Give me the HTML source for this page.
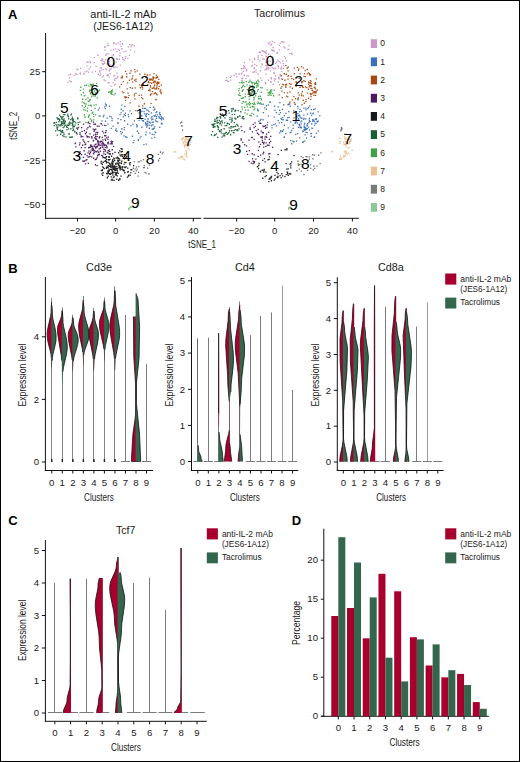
<!DOCTYPE html>
<html><head><meta charset="utf-8"><style>
html,body{margin:0;padding:0;background:#fff;}
#f{position:relative;width:518px;height:760px;border:1px solid #000;overflow:hidden;background:#fff;}
svg{position:absolute;left:-1px;top:-1px;}
text{font-family:"Liberation Sans", sans-serif;}
</style></head><body><div id="f">
<svg width="520" height="762" viewBox="0 0 520 762">
<text x="8.00" y="18.80" font-size="13" text-anchor="start" fill="#000" font-weight="bold" >A</text>
<text x="123.30" y="17.80" font-size="10" text-anchor="middle" fill="#1a1a1a" textLength="66" lengthAdjust="spacingAndGlyphs" >anti-IL-2 mAb</text>
<text x="123.30" y="29.50" font-size="10" text-anchor="middle" fill="#1a1a1a" textLength="60" lengthAdjust="spacingAndGlyphs" >(JES6-1A12)</text>
<text x="279.50" y="16.90" font-size="10" text-anchor="middle" fill="#1a1a1a" textLength="51" lengthAdjust="spacingAndGlyphs" >Tacrolimus</text>
<line x1="45.60" y1="33.00" x2="45.60" y2="218.80" stroke="#111" stroke-width="1"/>
<line x1="45.10" y1="218.30" x2="201.20" y2="218.30" stroke="#111" stroke-width="1"/>
<line x1="203.50" y1="218.30" x2="358.80" y2="218.30" stroke="#111" stroke-width="1"/>
<line x1="42.10" y1="71.70" x2="45.60" y2="71.70" stroke="#111" stroke-width="1"/>
<text x="40.20" y="75.10" font-size="9.5" text-anchor="end" fill="#1a1a1a" >25</text>
<line x1="42.10" y1="115.90" x2="45.60" y2="115.90" stroke="#111" stroke-width="1"/>
<text x="40.20" y="119.30" font-size="9.5" text-anchor="end" fill="#1a1a1a" >0</text>
<line x1="42.10" y1="160.20" x2="45.60" y2="160.20" stroke="#111" stroke-width="1"/>
<text x="40.20" y="163.60" font-size="9.5" text-anchor="end" fill="#1a1a1a" >−25</text>
<line x1="42.10" y1="204.30" x2="45.60" y2="204.30" stroke="#111" stroke-width="1"/>
<text x="40.20" y="207.70" font-size="9.5" text-anchor="end" fill="#1a1a1a" >−50</text>
<line x1="77.50" y1="218.30" x2="77.50" y2="221.50" stroke="#111" stroke-width="1"/>
<text x="77.50" y="233.60" font-size="9.5" text-anchor="middle" fill="#1a1a1a" >−20</text>
<line x1="115.60" y1="218.30" x2="115.60" y2="221.50" stroke="#111" stroke-width="1"/>
<text x="115.60" y="233.60" font-size="9.5" text-anchor="middle" fill="#1a1a1a" >0</text>
<line x1="154.40" y1="218.30" x2="154.40" y2="221.50" stroke="#111" stroke-width="1"/>
<text x="154.40" y="233.60" font-size="9.5" text-anchor="middle" fill="#1a1a1a" >20</text>
<line x1="193.30" y1="218.30" x2="193.30" y2="221.50" stroke="#111" stroke-width="1"/>
<text x="193.30" y="233.60" font-size="9.5" text-anchor="middle" fill="#1a1a1a" >40</text>
<line x1="236.60" y1="218.30" x2="236.60" y2="221.50" stroke="#111" stroke-width="1"/>
<text x="236.60" y="233.60" font-size="9.5" text-anchor="middle" fill="#1a1a1a" >−20</text>
<line x1="274.70" y1="218.30" x2="274.70" y2="221.50" stroke="#111" stroke-width="1"/>
<text x="274.70" y="233.60" font-size="9.5" text-anchor="middle" fill="#1a1a1a" >0</text>
<line x1="313.50" y1="218.30" x2="313.50" y2="221.50" stroke="#111" stroke-width="1"/>
<text x="313.50" y="233.60" font-size="9.5" text-anchor="middle" fill="#1a1a1a" >20</text>
<line x1="352.40" y1="218.30" x2="352.40" y2="221.50" stroke="#111" stroke-width="1"/>
<text x="352.40" y="233.60" font-size="9.5" text-anchor="middle" fill="#1a1a1a" >40</text>
<text x="202.10" y="248.40" font-size="10" text-anchor="middle" fill="#1a1a1a" textLength="27.5" lengthAdjust="spacingAndGlyphs" >tSNE_1</text>
<text x="17.40" y="125.80" font-size="10" text-anchor="middle" fill="#1a1a1a" textLength="28" lengthAdjust="spacingAndGlyphs" transform="rotate(-90 17.40 125.80)" >tSNE_2</text>
<rect x="370.80" y="39.20" width="6.20" height="8.80" fill="#cc99cc" />
<text x="380.30" y="46.40" font-size="8.5" text-anchor="start" fill="#1a1a1a" >0</text>
<rect x="370.80" y="57.40" width="6.20" height="8.80" fill="#3a6fbd" />
<text x="380.30" y="64.60" font-size="8.5" text-anchor="start" fill="#1a1a1a" >1</text>
<rect x="370.80" y="75.60" width="6.20" height="8.80" fill="#a8480f" />
<text x="380.30" y="82.80" font-size="8.5" text-anchor="start" fill="#1a1a1a" >2</text>
<rect x="370.80" y="93.80" width="6.20" height="8.80" fill="#501860" />
<text x="380.30" y="101.00" font-size="8.5" text-anchor="start" fill="#1a1a1a" >3</text>
<rect x="370.80" y="112.00" width="6.20" height="8.80" fill="#181818" />
<text x="380.30" y="119.20" font-size="8.5" text-anchor="start" fill="#1a1a1a" >4</text>
<rect x="370.80" y="130.20" width="6.20" height="8.80" fill="#1a5e34" />
<text x="380.30" y="137.40" font-size="8.5" text-anchor="start" fill="#1a1a1a" >5</text>
<rect x="370.80" y="148.40" width="6.20" height="8.80" fill="#41a048" />
<text x="380.30" y="155.60" font-size="8.5" text-anchor="start" fill="#1a1a1a" >6</text>
<rect x="370.80" y="166.60" width="6.20" height="8.80" fill="#ecc090" />
<text x="380.30" y="173.80" font-size="8.5" text-anchor="start" fill="#1a1a1a" >7</text>
<rect x="370.80" y="184.80" width="6.20" height="8.80" fill="#7a7a7a" />
<text x="380.30" y="192.00" font-size="8.5" text-anchor="start" fill="#1a1a1a" >8</text>
<rect x="370.80" y="203.00" width="6.20" height="8.80" fill="#8ec89a" />
<text x="380.30" y="210.20" font-size="8.5" text-anchor="start" fill="#1a1a1a" >9</text>
<path d="M95.5 65.7h1.3v1.3h-1.3zM99.6 67.0h1.3v1.3h-1.3zM108.6 76.5h1.3v1.3h-1.3zM68.7 77.2h1.3v1.3h-1.3zM113.3 41.9h1.3v1.3h-1.3zM110.4 68.3h1.3v1.3h-1.3zM100.4 69.5h1.3v1.3h-1.3zM99.0 70.5h1.3v1.3h-1.3zM118.7 58.4h1.3v1.3h-1.3zM124.6 57.8h1.3v1.3h-1.3zM119.6 52.4h1.3v1.3h-1.3zM121.0 48.2h1.3v1.3h-1.3zM103.4 60.6h1.3v1.3h-1.3zM76.1 73.7h1.3v1.3h-1.3zM119.2 55.1h1.3v1.3h-1.3zM80.0 67.7h1.3v1.3h-1.3zM89.5 60.8h1.3v1.3h-1.3zM104.5 79.9h1.3v1.3h-1.3zM79.6 72.4h1.3v1.3h-1.3zM106.1 53.5h1.3v1.3h-1.3zM75.0 73.1h1.3v1.3h-1.3zM103.4 79.2h1.3v1.3h-1.3zM107.5 52.9h1.3v1.3h-1.3zM129.9 49.4h1.3v1.3h-1.3zM104.3 46.1h1.3v1.3h-1.3zM113.2 66.9h1.3v1.3h-1.3zM113.9 84.3h1.3v1.3h-1.3zM97.7 73.6h1.3v1.3h-1.3zM116.5 72.4h1.3v1.3h-1.3zM88.0 71.5h1.3v1.3h-1.3zM108.2 57.6h1.3v1.3h-1.3zM105.1 68.0h1.3v1.3h-1.3zM115.9 57.9h1.3v1.3h-1.3zM116.4 66.7h1.3v1.3h-1.3zM68.2 74.5h1.3v1.3h-1.3zM113.7 62.9h1.3v1.3h-1.3zM107.5 82.3h1.3v1.3h-1.3zM84.3 71.2h1.3v1.3h-1.3zM86.2 70.6h1.3v1.3h-1.3zM127.1 57.7h1.3v1.3h-1.3zM105.1 54.6h1.3v1.3h-1.3zM114.6 83.7h1.3v1.3h-1.3zM108.3 62.7h1.3v1.3h-1.3zM114.4 66.2h1.3v1.3h-1.3zM123.4 50.9h1.3v1.3h-1.3zM108.6 60.5h1.3v1.3h-1.3zM108.6 70.1h1.3v1.3h-1.3zM112.7 49.2h1.3v1.3h-1.3zM114.8 48.2h1.3v1.3h-1.3zM113.6 63.9h1.3v1.3h-1.3zM107.5 74.8h1.3v1.3h-1.3zM129.1 44.0h1.3v1.3h-1.3zM108.3 81.9h1.3v1.3h-1.3zM89.9 66.2h1.3v1.3h-1.3zM110.2 49.4h1.3v1.3h-1.3zM115.4 77.6h1.3v1.3h-1.3zM109.5 73.0h1.3v1.3h-1.3zM101.7 76.4h1.3v1.3h-1.3zM125.3 56.0h1.3v1.3h-1.3zM102.7 75.3h1.3v1.3h-1.3zM121.9 42.9h1.3v1.3h-1.3zM121.2 48.0h1.3v1.3h-1.3zM100.2 73.3h1.3v1.3h-1.3zM132.2 44.0h1.3v1.3h-1.3zM83.5 73.5h1.3v1.3h-1.3zM109.3 64.0h1.3v1.3h-1.3zM104.4 49.2h1.3v1.3h-1.3zM101.7 63.1h1.3v1.3h-1.3zM103.7 62.6h1.3v1.3h-1.3zM113.1 43.0h1.3v1.3h-1.3zM101.9 59.0h1.3v1.3h-1.3zM97.3 54.6h1.3v1.3h-1.3zM76.2 68.4h1.3v1.3h-1.3zM130.5 46.0h1.3v1.3h-1.3zM119.7 41.0h1.3v1.3h-1.3zM112.8 54.8h1.3v1.3h-1.3zM88.3 68.5h1.3v1.3h-1.3zM69.8 73.6h1.3v1.3h-1.3zM101.2 60.1h1.3v1.3h-1.3zM77.1 69.0h1.3v1.3h-1.3zM109.2 64.4h1.3v1.3h-1.3zM125.4 50.7h1.3v1.3h-1.3zM116.8 77.3h1.3v1.3h-1.3zM128.8 54.5h1.3v1.3h-1.3zM127.7 46.2h1.3v1.3h-1.3zM79.7 73.4h1.3v1.3h-1.3zM123.6 59.4h1.3v1.3h-1.3zM120.5 45.8h1.3v1.3h-1.3zM91.8 71.5h1.3v1.3h-1.3zM112.5 81.9h1.3v1.3h-1.3zM133.7 45.3h1.3v1.3h-1.3zM99.4 74.9h1.3v1.3h-1.3zM99.2 71.5h1.3v1.3h-1.3zM102.8 63.7h1.3v1.3h-1.3zM104.1 46.7h1.3v1.3h-1.3zM130.6 44.4h1.3v1.3h-1.3zM86.2 61.5h1.3v1.3h-1.3zM100.1 59.8h1.3v1.3h-1.3zM113.9 78.8h1.3v1.3h-1.3zM116.7 58.6h1.3v1.3h-1.3zM114.1 79.6h1.3v1.3h-1.3zM108.6 58.6h1.3v1.3h-1.3zM106.4 63.2h1.3v1.3h-1.3zM117.1 75.8h1.3v1.3h-1.3zM122.3 58.7h1.3v1.3h-1.3zM113.4 75.3h1.3v1.3h-1.3zM118.6 58.7h1.3v1.3h-1.3zM115.5 43.2h1.3v1.3h-1.3zM87.3 61.6h1.3v1.3h-1.3zM109.3 68.7h1.3v1.3h-1.3zM111.3 55.5h1.3v1.3h-1.3zM110.8 66.2h1.3v1.3h-1.3zM101.4 57.9h1.3v1.3h-1.3zM113.9 75.0h1.3v1.3h-1.3zM107.5 74.0h1.3v1.3h-1.3zM102.7 63.4h1.3v1.3h-1.3zM121.9 43.5h1.3v1.3h-1.3zM106.2 74.9h1.3v1.3h-1.3zM107.2 42.7h1.3v1.3h-1.3zM101.0 67.5h1.3v1.3h-1.3zM110.5 65.8h1.3v1.3h-1.3zM83.0 73.0h1.3v1.3h-1.3zM73.6 74.7h1.3v1.3h-1.3zM117.4 42.3h1.3v1.3h-1.3zM67.4 81.7h1.3v1.3h-1.3zM93.8 62.0h1.3v1.3h-1.3zM134.0 51.2h1.3v1.3h-1.3zM115.5 61.5h1.3v1.3h-1.3zM106.7 45.3h1.3v1.3h-1.3zM108.2 61.0h1.3v1.3h-1.3zM94.8 70.7h1.3v1.3h-1.3zM105.1 59.3h1.3v1.3h-1.3zM119.6 64.4h1.3v1.3h-1.3zM116.3 51.0h1.3v1.3h-1.3zM70.4 81.1h1.3v1.3h-1.3zM112.7 66.0h1.3v1.3h-1.3zM105.8 69.1h1.3v1.3h-1.3zM117.7 48.7h1.3v1.3h-1.3zM108.1 44.7h1.3v1.3h-1.3zM102.7 69.0h1.3v1.3h-1.3zM89.6 62.0h1.3v1.3h-1.3zM118.9 49.8h1.3v1.3h-1.3zM121.9 57.0h1.3v1.3h-1.3zM110.4 85.5h1.3v1.3h-1.3zM86.1 65.2h1.3v1.3h-1.3zM93.6 57.0h1.3v1.3h-1.3zM69.2 80.3h1.3v1.3h-1.3zM103.8 62.3h1.3v1.3h-1.3zM112.7 53.7h1.3v1.3h-1.3zM119.4 43.5h1.3v1.3h-1.3zM278.7 44.7h1.3v1.3h-1.3zM281.1 71.0h1.3v1.3h-1.3zM282.8 63.0h1.3v1.3h-1.3zM279.7 42.4h1.3v1.3h-1.3zM240.7 73.4h1.3v1.3h-1.3zM252.0 64.7h1.3v1.3h-1.3zM251.2 65.6h1.3v1.3h-1.3zM269.9 54.8h1.3v1.3h-1.3zM257.4 56.8h1.3v1.3h-1.3zM283.8 55.9h1.3v1.3h-1.3zM254.2 63.7h1.3v1.3h-1.3zM277.4 65.2h1.3v1.3h-1.3zM257.5 55.2h1.3v1.3h-1.3zM275.1 62.6h1.3v1.3h-1.3zM277.9 78.3h1.3v1.3h-1.3zM269.8 60.7h1.3v1.3h-1.3zM260.3 66.2h1.3v1.3h-1.3zM259.7 77.5h1.3v1.3h-1.3zM282.4 41.4h1.3v1.3h-1.3zM275.1 68.0h1.3v1.3h-1.3zM264.7 81.7h1.3v1.3h-1.3zM233.8 74.4h1.3v1.3h-1.3zM257.3 73.6h1.3v1.3h-1.3zM273.9 80.3h1.3v1.3h-1.3zM276.9 51.9h1.3v1.3h-1.3zM273.7 41.8h1.3v1.3h-1.3zM242.6 70.6h1.3v1.3h-1.3zM251.9 61.2h1.3v1.3h-1.3zM253.6 67.0h1.3v1.3h-1.3zM255.3 69.2h1.3v1.3h-1.3zM265.2 55.4h1.3v1.3h-1.3zM291.4 53.7h1.3v1.3h-1.3zM238.2 73.4h1.3v1.3h-1.3zM281.2 41.0h1.3v1.3h-1.3zM277.5 81.2h1.3v1.3h-1.3zM272.7 61.2h1.3v1.3h-1.3zM274.8 75.1h1.3v1.3h-1.3zM258.6 51.8h1.3v1.3h-1.3zM259.7 70.1h1.3v1.3h-1.3zM246.1 69.0h1.3v1.3h-1.3zM273.8 78.3h1.3v1.3h-1.3zM281.0 41.0h1.3v1.3h-1.3zM269.9 70.3h1.3v1.3h-1.3zM271.2 56.3h1.3v1.3h-1.3zM267.5 42.2h1.3v1.3h-1.3zM278.6 60.7h1.3v1.3h-1.3zM270.3 64.8h1.3v1.3h-1.3zM252.3 71.7h1.3v1.3h-1.3zM225.4 79.8h1.3v1.3h-1.3zM265.4 73.4h1.3v1.3h-1.3zM265.7 55.7h1.3v1.3h-1.3zM269.2 41.5h1.3v1.3h-1.3zM270.3 81.8h1.3v1.3h-1.3zM269.4 67.5h1.3v1.3h-1.3zM278.9 84.1h1.3v1.3h-1.3zM265.8 69.0h1.3v1.3h-1.3zM282.7 67.8h1.3v1.3h-1.3zM280.5 68.4h1.3v1.3h-1.3zM285.0 57.6h1.3v1.3h-1.3zM271.0 43.6h1.3v1.3h-1.3zM243.8 62.0h1.3v1.3h-1.3zM259.6 51.5h1.3v1.3h-1.3zM279.5 75.2h1.3v1.3h-1.3zM271.7 67.0h1.3v1.3h-1.3zM274.9 78.5h1.3v1.3h-1.3zM266.5 67.4h1.3v1.3h-1.3zM258.7 51.6h1.3v1.3h-1.3zM244.6 67.5h1.3v1.3h-1.3zM245.7 70.2h1.3v1.3h-1.3zM241.2 77.7h1.3v1.3h-1.3zM288.5 45.0h1.3v1.3h-1.3zM272.8 63.8h1.3v1.3h-1.3zM228.1 80.7h1.3v1.3h-1.3zM279.7 62.3h1.3v1.3h-1.3zM271.6 40.8h1.3v1.3h-1.3zM270.1 44.5h1.3v1.3h-1.3zM273.0 72.0h1.3v1.3h-1.3zM246.4 75.3h1.3v1.3h-1.3zM263.4 58.4h1.3v1.3h-1.3zM259.8 52.0h1.3v1.3h-1.3zM247.8 75.2h1.3v1.3h-1.3zM265.6 68.2h1.3v1.3h-1.3zM289.0 52.9h1.3v1.3h-1.3zM257.6 58.7h1.3v1.3h-1.3zM245.3 77.9h1.3v1.3h-1.3zM283.5 41.4h1.3v1.3h-1.3zM271.7 49.9h1.3v1.3h-1.3zM270.7 78.2h1.3v1.3h-1.3zM273.4 50.5h1.3v1.3h-1.3zM226.9 80.4h1.3v1.3h-1.3zM253.5 68.0h1.3v1.3h-1.3zM268.7 43.5h1.3v1.3h-1.3zM241.8 77.7h1.3v1.3h-1.3zM261.7 64.2h1.3v1.3h-1.3zM272.6 83.6h1.3v1.3h-1.3zM271.2 49.5h1.3v1.3h-1.3zM243.1 65.0h1.3v1.3h-1.3zM235.6 73.1h1.3v1.3h-1.3zM288.0 48.8h1.3v1.3h-1.3zM229.7 76.8h1.3v1.3h-1.3zM265.2 61.4h1.3v1.3h-1.3zM264.4 69.2h1.3v1.3h-1.3zM278.5 77.9h1.3v1.3h-1.3zM225.9 79.8h1.3v1.3h-1.3zM270.4 77.0h1.3v1.3h-1.3zM280.8 78.0h1.3v1.3h-1.3zM278.8 49.2h1.3v1.3h-1.3zM276.0 61.3h1.3v1.3h-1.3zM291.1 52.6h1.3v1.3h-1.3zM242.5 68.0h1.3v1.3h-1.3zM279.6 73.8h1.3v1.3h-1.3zM282.0 60.5h1.3v1.3h-1.3zM277.7 65.8h1.3v1.3h-1.3zM280.3 67.7h1.3v1.3h-1.3zM282.9 65.0h1.3v1.3h-1.3zM281.1 66.5h1.3v1.3h-1.3zM267.9 68.7h1.3v1.3h-1.3zM262.0 58.2h1.3v1.3h-1.3zM287.3 48.7h1.3v1.3h-1.3zM226.0 76.9h1.3v1.3h-1.3zM283.2 46.2h1.3v1.3h-1.3zM240.8 67.9h1.3v1.3h-1.3zM243.0 67.5h1.3v1.3h-1.3zM243.7 74.7h1.3v1.3h-1.3zM270.1 80.9h1.3v1.3h-1.3zM263.6 51.1h1.3v1.3h-1.3zM268.0 53.6h1.3v1.3h-1.3zM265.5 50.4h1.3v1.3h-1.3zM230.8 75.5h1.3v1.3h-1.3zM233.7 74.5h1.3v1.3h-1.3zM265.0 83.0h1.3v1.3h-1.3zM266.3 66.4h1.3v1.3h-1.3zM262.7 50.6h1.3v1.3h-1.3zM267.7 79.6h1.3v1.3h-1.3zM273.0 49.6h1.3v1.3h-1.3zM261.2 63.3h1.3v1.3h-1.3zM265.2 65.0h1.3v1.3h-1.3zM270.1 65.2h1.3v1.3h-1.3zM261.6 50.1h1.3v1.3h-1.3zM243.9 66.0h1.3v1.3h-1.3zM259.2 60.3h1.3v1.3h-1.3zM236.1 76.1h1.3v1.3h-1.3zM267.7 67.2h1.3v1.3h-1.3zM266.5 61.6h1.3v1.3h-1.3zM265.6 52.9h1.3v1.3h-1.3zM255.5 71.4h1.3v1.3h-1.3zM238.6 73.5h1.3v1.3h-1.3zM265.9 64.8h1.3v1.3h-1.3zM276.2 52.6h1.3v1.3h-1.3zM249.3 59.3h1.3v1.3h-1.3zM273.9 72.8h1.3v1.3h-1.3zM272.9 67.9h1.3v1.3h-1.3zM277.2 59.5h1.3v1.3h-1.3zM274.5 67.4h1.3v1.3h-1.3zM267.1 64.8h1.3v1.3h-1.3zM269.4 65.3h1.3v1.3h-1.3zM271.8 59.1h1.3v1.3h-1.3zM284.4 47.3h1.3v1.3h-1.3zM272.4 47.0h1.3v1.3h-1.3zM230.0 79.4h1.3v1.3h-1.3zM285.8 60.1h1.3v1.3h-1.3zM267.4 60.6h1.3v1.3h-1.3zM256.1 65.0h1.3v1.3h-1.3zM277.9 67.2h1.3v1.3h-1.3zM264.7 51.7h1.3v1.3h-1.3zM261.2 79.8h1.3v1.3h-1.3zM253.8 58.8h1.3v1.3h-1.3zM264.9 51.7h1.3v1.3h-1.3zM266.2 61.3h1.3v1.3h-1.3zM278.1 76.8h1.3v1.3h-1.3zM261.2 54.7h1.3v1.3h-1.3zM241.3 72.5h1.3v1.3h-1.3zM253.7 71.1h1.3v1.3h-1.3zM241.4 79.4h1.3v1.3h-1.3zM253.8 57.8h1.3v1.3h-1.3z" fill="#c58fc5" fill-opacity="0.95"/>
<path d="M127.4 92.5h1.3v1.3h-1.3zM121.6 77.1h1.3v1.3h-1.3zM149.9 93.8h1.3v1.3h-1.3zM130.4 70.1h1.3v1.3h-1.3zM133.7 95.2h1.3v1.3h-1.3zM134.1 69.0h1.3v1.3h-1.3zM149.2 88.5h1.3v1.3h-1.3zM158.2 82.8h1.3v1.3h-1.3zM153.3 77.1h1.3v1.3h-1.3zM132.0 81.2h1.3v1.3h-1.3zM128.9 79.6h1.3v1.3h-1.3zM134.1 79.6h1.3v1.3h-1.3zM135.4 80.7h1.3v1.3h-1.3zM126.6 88.2h1.3v1.3h-1.3zM153.1 87.2h1.3v1.3h-1.3zM154.8 88.2h1.3v1.3h-1.3zM125.8 96.6h1.3v1.3h-1.3zM156.8 76.1h1.3v1.3h-1.3zM119.0 86.2h1.3v1.3h-1.3zM141.9 88.4h1.3v1.3h-1.3zM160.5 92.0h1.3v1.3h-1.3zM142.1 97.9h1.3v1.3h-1.3zM150.4 102.7h1.3v1.3h-1.3zM121.7 91.3h1.3v1.3h-1.3zM124.3 96.1h1.3v1.3h-1.3zM146.6 74.6h1.3v1.3h-1.3zM127.7 96.9h1.3v1.3h-1.3zM140.9 96.9h1.3v1.3h-1.3zM135.4 78.5h1.3v1.3h-1.3zM160.6 92.9h1.3v1.3h-1.3zM139.7 87.1h1.3v1.3h-1.3zM149.7 94.5h1.3v1.3h-1.3zM158.3 81.7h1.3v1.3h-1.3zM154.4 92.7h1.3v1.3h-1.3zM155.6 98.7h1.3v1.3h-1.3zM160.1 91.5h1.3v1.3h-1.3zM141.0 94.5h1.3v1.3h-1.3zM153.3 82.1h1.3v1.3h-1.3zM136.5 70.3h1.3v1.3h-1.3zM134.5 71.2h1.3v1.3h-1.3zM127.0 82.3h1.3v1.3h-1.3zM120.6 77.3h1.3v1.3h-1.3zM123.1 91.9h1.3v1.3h-1.3zM120.7 83.7h1.3v1.3h-1.3zM143.7 103.1h1.3v1.3h-1.3zM126.1 73.3h1.3v1.3h-1.3zM128.4 94.8h1.3v1.3h-1.3zM144.2 73.6h1.3v1.3h-1.3zM126.1 76.1h1.3v1.3h-1.3zM125.6 96.6h1.3v1.3h-1.3zM131.7 87.6h1.3v1.3h-1.3zM154.0 84.6h1.3v1.3h-1.3zM129.5 102.2h1.3v1.3h-1.3zM158.2 78.7h1.3v1.3h-1.3zM142.1 105.2h1.3v1.3h-1.3zM139.2 73.5h1.3v1.3h-1.3zM153.3 80.6h1.3v1.3h-1.3zM141.2 86.2h1.3v1.3h-1.3zM146.9 74.2h1.3v1.3h-1.3zM134.3 98.3h1.3v1.3h-1.3zM149.4 90.1h1.3v1.3h-1.3zM124.9 70.7h1.3v1.3h-1.3zM132.2 75.2h1.3v1.3h-1.3zM156.2 86.2h1.3v1.3h-1.3zM129.7 87.0h1.3v1.3h-1.3zM124.6 97.1h1.3v1.3h-1.3zM155.2 99.3h1.3v1.3h-1.3zM121.6 75.6h1.3v1.3h-1.3zM139.1 84.2h1.3v1.3h-1.3zM160.0 89.2h1.3v1.3h-1.3zM155.7 77.1h1.3v1.3h-1.3zM152.7 81.9h1.3v1.3h-1.3zM141.9 86.6h1.3v1.3h-1.3zM124.9 99.8h1.3v1.3h-1.3zM131.7 77.4h1.3v1.3h-1.3zM121.3 77.1h1.3v1.3h-1.3zM138.6 94.8h1.3v1.3h-1.3zM133.8 93.5h1.3v1.3h-1.3zM122.7 81.0h1.3v1.3h-1.3zM138.3 105.6h1.3v1.3h-1.3zM154.5 92.1h1.3v1.3h-1.3zM149.2 74.2h1.3v1.3h-1.3zM142.8 83.7h1.3v1.3h-1.3zM153.2 72.9h1.3v1.3h-1.3zM145.1 76.5h1.3v1.3h-1.3zM134.5 87.2h1.3v1.3h-1.3zM131.1 78.5h1.3v1.3h-1.3zM135.3 92.7h1.3v1.3h-1.3zM129.3 72.6h1.3v1.3h-1.3zM150.2 78.2h1.3v1.3h-1.3zM147.7 80.9h1.3v1.3h-1.3zM151.1 93.2h1.3v1.3h-1.3zM159.3 90.5h1.3v1.3h-1.3zM156.2 87.3h1.3v1.3h-1.3zM152.5 76.3h1.3v1.3h-1.3zM151.6 87.7h1.3v1.3h-1.3zM148.7 79.5h1.3v1.3h-1.3zM154.3 88.3h1.3v1.3h-1.3zM156.0 88.1h1.3v1.3h-1.3zM158.0 88.1h1.3v1.3h-1.3zM148.0 89.7h1.3v1.3h-1.3zM151.0 78.7h1.3v1.3h-1.3zM156.6 76.3h1.3v1.3h-1.3zM151.9 91.0h1.3v1.3h-1.3zM158.5 85.7h1.3v1.3h-1.3zM152.6 78.4h1.3v1.3h-1.3zM155.7 74.4h1.3v1.3h-1.3zM149.6 79.4h1.3v1.3h-1.3zM153.5 86.3h1.3v1.3h-1.3zM151.6 79.8h1.3v1.3h-1.3zM152.4 87.5h1.3v1.3h-1.3zM155.2 77.4h1.3v1.3h-1.3zM149.1 78.6h1.3v1.3h-1.3zM154.3 80.6h1.3v1.3h-1.3zM147.7 81.9h1.3v1.3h-1.3zM149.8 85.0h1.3v1.3h-1.3zM153.4 81.0h1.3v1.3h-1.3zM147.1 83.9h1.3v1.3h-1.3zM157.0 77.0h1.3v1.3h-1.3zM156.9 83.3h1.3v1.3h-1.3zM155.8 93.2h1.3v1.3h-1.3zM154.1 88.2h1.3v1.3h-1.3zM152.3 77.1h1.3v1.3h-1.3zM157.6 82.3h1.3v1.3h-1.3zM149.9 86.5h1.3v1.3h-1.3zM156.4 84.4h1.3v1.3h-1.3zM156.1 82.7h1.3v1.3h-1.3zM149.2 82.0h1.3v1.3h-1.3zM153.5 93.2h1.3v1.3h-1.3zM160.7 84.5h1.3v1.3h-1.3zM148.9 79.1h1.3v1.3h-1.3zM155.1 81.6h1.3v1.3h-1.3zM157.0 81.4h1.3v1.3h-1.3zM150.9 82.6h1.3v1.3h-1.3zM156.5 94.2h1.3v1.3h-1.3zM300.5 85.0h1.3v1.3h-1.3zM299.4 86.7h1.3v1.3h-1.3zM315.0 94.7h1.3v1.3h-1.3zM309.9 74.1h1.3v1.3h-1.3zM297.3 99.1h1.3v1.3h-1.3zM290.3 83.6h1.3v1.3h-1.3zM315.8 90.5h1.3v1.3h-1.3zM311.3 88.0h1.3v1.3h-1.3zM313.5 91.6h1.3v1.3h-1.3zM287.4 78.4h1.3v1.3h-1.3zM296.7 66.8h1.3v1.3h-1.3zM314.0 83.2h1.3v1.3h-1.3zM285.8 83.6h1.3v1.3h-1.3zM309.4 74.0h1.3v1.3h-1.3zM300.9 66.0h1.3v1.3h-1.3zM287.4 70.2h1.3v1.3h-1.3zM297.7 92.3h1.3v1.3h-1.3zM286.9 92.3h1.3v1.3h-1.3zM300.9 95.0h1.3v1.3h-1.3zM297.9 69.8h1.3v1.3h-1.3zM281.3 90.4h1.3v1.3h-1.3zM281.3 85.9h1.3v1.3h-1.3zM285.6 73.6h1.3v1.3h-1.3zM307.9 81.6h1.3v1.3h-1.3zM283.7 91.9h1.3v1.3h-1.3zM316.8 89.4h1.3v1.3h-1.3zM295.4 85.7h1.3v1.3h-1.3zM305.4 98.9h1.3v1.3h-1.3zM308.6 72.9h1.3v1.3h-1.3zM283.0 84.3h1.3v1.3h-1.3zM285.2 86.7h1.3v1.3h-1.3zM289.1 103.5h1.3v1.3h-1.3zM294.9 97.9h1.3v1.3h-1.3zM314.8 81.9h1.3v1.3h-1.3zM308.0 83.7h1.3v1.3h-1.3zM293.6 67.5h1.3v1.3h-1.3zM303.7 102.6h1.3v1.3h-1.3zM304.8 75.9h1.3v1.3h-1.3zM298.5 77.7h1.3v1.3h-1.3zM293.3 96.0h1.3v1.3h-1.3zM298.0 68.5h1.3v1.3h-1.3zM306.6 73.2h1.3v1.3h-1.3zM293.7 72.9h1.3v1.3h-1.3zM301.3 81.0h1.3v1.3h-1.3zM304.7 80.7h1.3v1.3h-1.3zM308.6 86.2h1.3v1.3h-1.3zM282.1 83.7h1.3v1.3h-1.3zM287.9 75.1h1.3v1.3h-1.3zM315.0 83.1h1.3v1.3h-1.3zM306.8 68.9h1.3v1.3h-1.3zM302.6 67.2h1.3v1.3h-1.3zM286.6 67.6h1.3v1.3h-1.3zM315.6 78.2h1.3v1.3h-1.3zM278.5 94.3h1.3v1.3h-1.3zM287.1 96.3h1.3v1.3h-1.3zM307.9 72.3h1.3v1.3h-1.3zM297.8 97.2h1.3v1.3h-1.3zM301.5 85.1h1.3v1.3h-1.3zM285.2 65.0h1.3v1.3h-1.3zM285.3 85.1h1.3v1.3h-1.3zM301.2 82.3h1.3v1.3h-1.3zM302.8 86.8h1.3v1.3h-1.3zM303.2 80.1h1.3v1.3h-1.3zM310.8 85.4h1.3v1.3h-1.3zM310.3 96.0h1.3v1.3h-1.3zM304.9 86.3h1.3v1.3h-1.3zM287.7 66.5h1.3v1.3h-1.3zM303.8 72.9h1.3v1.3h-1.3zM301.9 86.2h1.3v1.3h-1.3zM301.7 80.9h1.3v1.3h-1.3zM287.3 75.4h1.3v1.3h-1.3zM305.2 101.0h1.3v1.3h-1.3zM290.4 75.8h1.3v1.3h-1.3zM295.5 80.9h1.3v1.3h-1.3zM302.7 95.3h1.3v1.3h-1.3zM307.9 97.6h1.3v1.3h-1.3zM295.5 81.7h1.3v1.3h-1.3zM303.4 75.8h1.3v1.3h-1.3zM310.3 80.4h1.3v1.3h-1.3zM299.7 84.9h1.3v1.3h-1.3zM288.9 83.0h1.3v1.3h-1.3zM308.9 74.3h1.3v1.3h-1.3zM280.7 75.1h1.3v1.3h-1.3zM314.6 91.6h1.3v1.3h-1.3zM310.1 98.7h1.3v1.3h-1.3zM284.9 84.2h1.3v1.3h-1.3zM281.7 78.7h1.3v1.3h-1.3zM297.3 98.0h1.3v1.3h-1.3zM289.3 91.3h1.3v1.3h-1.3zM283.5 73.3h1.3v1.3h-1.3zM280.3 87.6h1.3v1.3h-1.3zM300.9 93.4h1.3v1.3h-1.3zM294.4 103.2h1.3v1.3h-1.3zM306.2 87.0h1.3v1.3h-1.3zM289.4 86.3h1.3v1.3h-1.3zM301.4 104.0h1.3v1.3h-1.3zM314.8 82.6h1.3v1.3h-1.3zM286.0 95.5h1.3v1.3h-1.3zM302.5 99.6h1.3v1.3h-1.3zM299.5 73.2h1.3v1.3h-1.3zM296.3 82.5h1.3v1.3h-1.3zM291.7 87.6h1.3v1.3h-1.3zM283.8 73.1h1.3v1.3h-1.3zM298.5 94.5h1.3v1.3h-1.3zM293.7 101.7h1.3v1.3h-1.3zM301.7 91.0h1.3v1.3h-1.3zM289.2 101.6h1.3v1.3h-1.3zM291.6 99.2h1.3v1.3h-1.3zM287.5 103.9h1.3v1.3h-1.3zM304.6 69.9h1.3v1.3h-1.3zM306.5 68.8h1.3v1.3h-1.3zM293.0 78.7h1.3v1.3h-1.3zM291.1 77.9h1.3v1.3h-1.3zM284.3 79.6h1.3v1.3h-1.3zM281.6 97.0h1.3v1.3h-1.3zM310.3 82.8h1.3v1.3h-1.3zM314.2 87.1h1.3v1.3h-1.3zM309.7 79.9h1.3v1.3h-1.3zM314.9 83.7h1.3v1.3h-1.3zM306.9 92.5h1.3v1.3h-1.3zM314.5 90.9h1.3v1.3h-1.3zM309.6 92.8h1.3v1.3h-1.3zM314.9 88.3h1.3v1.3h-1.3zM314.9 91.5h1.3v1.3h-1.3zM307.8 88.6h1.3v1.3h-1.3zM307.9 81.9h1.3v1.3h-1.3zM310.0 85.0h1.3v1.3h-1.3zM309.2 85.1h1.3v1.3h-1.3zM314.1 86.4h1.3v1.3h-1.3zM310.5 94.0h1.3v1.3h-1.3zM313.7 86.7h1.3v1.3h-1.3zM311.1 93.3h1.3v1.3h-1.3zM309.2 82.2h1.3v1.3h-1.3zM315.3 92.2h1.3v1.3h-1.3zM310.5 82.9h1.3v1.3h-1.3zM309.7 82.1h1.3v1.3h-1.3zM314.4 92.1h1.3v1.3h-1.3zM311.5 89.8h1.3v1.3h-1.3zM312.1 92.5h1.3v1.3h-1.3zM313.0 91.2h1.3v1.3h-1.3zM310.2 87.8h1.3v1.3h-1.3zM313.3 94.6h1.3v1.3h-1.3zM310.8 85.3h1.3v1.3h-1.3zM311.9 90.0h1.3v1.3h-1.3zM310.0 94.0h1.3v1.3h-1.3z" fill="#a8480f" fill-opacity="0.95"/>
<path d="M90.5 85.3h1.3v1.3h-1.3zM79.7 89.7h1.3v1.3h-1.3zM92.8 95.2h1.3v1.3h-1.3zM93.1 113.7h1.3v1.3h-1.3zM87.0 107.5h1.3v1.3h-1.3zM95.9 82.7h1.3v1.3h-1.3zM83.2 102.1h1.3v1.3h-1.3zM82.0 98.6h1.3v1.3h-1.3zM91.0 89.5h1.3v1.3h-1.3zM89.9 93.3h1.3v1.3h-1.3zM90.9 96.3h1.3v1.3h-1.3zM92.5 83.6h1.3v1.3h-1.3zM93.1 88.2h1.3v1.3h-1.3zM88.9 99.7h1.3v1.3h-1.3zM92.1 111.6h1.3v1.3h-1.3zM94.9 114.3h1.3v1.3h-1.3zM87.6 100.7h1.3v1.3h-1.3zM90.9 120.9h1.3v1.3h-1.3zM90.0 104.6h1.3v1.3h-1.3zM88.1 120.9h1.3v1.3h-1.3zM85.7 84.4h1.3v1.3h-1.3zM94.4 107.7h1.3v1.3h-1.3zM94.8 95.1h1.3v1.3h-1.3zM91.5 85.0h1.3v1.3h-1.3zM81.6 101.2h1.3v1.3h-1.3zM89.6 99.1h1.3v1.3h-1.3zM90.1 92.3h1.3v1.3h-1.3zM85.4 99.0h1.3v1.3h-1.3zM84.0 84.9h1.3v1.3h-1.3zM93.0 119.3h1.3v1.3h-1.3zM87.8 116.6h1.3v1.3h-1.3zM83.7 114.1h1.3v1.3h-1.3zM90.9 120.8h1.3v1.3h-1.3zM81.6 105.1h1.3v1.3h-1.3zM84.1 94.9h1.3v1.3h-1.3zM85.8 84.7h1.3v1.3h-1.3zM87.3 97.3h1.3v1.3h-1.3zM91.3 84.0h1.3v1.3h-1.3zM85.5 103.4h1.3v1.3h-1.3zM88.9 90.9h1.3v1.3h-1.3zM85.2 121.7h1.3v1.3h-1.3zM97.8 90.4h1.3v1.3h-1.3zM96.6 97.2h1.3v1.3h-1.3zM88.9 89.4h1.3v1.3h-1.3zM83.2 109.2h1.3v1.3h-1.3zM80.1 86.6h1.3v1.3h-1.3zM94.2 95.5h1.3v1.3h-1.3zM94.0 87.8h1.3v1.3h-1.3zM88.3 85.4h1.3v1.3h-1.3zM83.7 95.2h1.3v1.3h-1.3zM93.9 90.4h1.3v1.3h-1.3zM82.8 92.1h1.3v1.3h-1.3zM93.0 116.0h1.3v1.3h-1.3zM86.8 110.5h1.3v1.3h-1.3zM83.8 94.9h1.3v1.3h-1.3zM84.8 109.5h1.3v1.3h-1.3zM88.2 104.7h1.3v1.3h-1.3zM90.1 83.9h1.3v1.3h-1.3zM91.6 94.2h1.3v1.3h-1.3zM84.3 116.5h1.3v1.3h-1.3zM80.8 94.3h1.3v1.3h-1.3zM94.9 92.6h1.3v1.3h-1.3zM84.9 105.6h1.3v1.3h-1.3zM88.7 114.3h1.3v1.3h-1.3zM87.1 122.0h1.3v1.3h-1.3zM89.5 89.7h1.3v1.3h-1.3zM90.7 109.7h1.3v1.3h-1.3zM86.6 110.3h1.3v1.3h-1.3zM95.4 104.2h1.3v1.3h-1.3zM89.6 118.4h1.3v1.3h-1.3zM93.4 104.4h1.3v1.3h-1.3zM99.0 89.5h1.3v1.3h-1.3zM95.4 89.1h1.3v1.3h-1.3zM91.8 92.1h1.3v1.3h-1.3zM88.2 115.2h1.3v1.3h-1.3zM84.0 103.0h1.3v1.3h-1.3zM83.6 106.9h1.3v1.3h-1.3zM89.5 83.5h1.3v1.3h-1.3zM91.5 112.7h1.3v1.3h-1.3zM91.0 119.5h1.3v1.3h-1.3zM82.8 88.5h1.3v1.3h-1.3zM88.1 101.0h1.3v1.3h-1.3zM84.5 116.3h1.3v1.3h-1.3zM90.9 105.4h1.3v1.3h-1.3zM95.6 92.2h1.3v1.3h-1.3zM110.4 93.1h1.3v1.3h-1.3zM110.7 92.6h1.3v1.3h-1.3zM107.9 91.6h1.3v1.3h-1.3zM109.3 91.2h1.3v1.3h-1.3zM111.5 91.2h1.3v1.3h-1.3zM110.9 93.2h1.3v1.3h-1.3zM110.4 90.9h1.3v1.3h-1.3zM111.8 89.3h1.3v1.3h-1.3zM110.2 92.4h1.3v1.3h-1.3zM111.5 93.8h1.3v1.3h-1.3zM114.8 92.8h1.3v1.3h-1.3zM111.2 89.9h1.3v1.3h-1.3zM113.4 94.3h1.3v1.3h-1.3zM110.9 90.0h1.3v1.3h-1.3zM258.2 97.7h1.3v1.3h-1.3zM251.1 92.8h1.3v1.3h-1.3zM247.5 109.6h1.3v1.3h-1.3zM239.9 95.0h1.3v1.3h-1.3zM251.6 84.7h1.3v1.3h-1.3zM251.7 106.1h1.3v1.3h-1.3zM253.2 96.7h1.3v1.3h-1.3zM241.6 102.8h1.3v1.3h-1.3zM249.0 104.1h1.3v1.3h-1.3zM238.1 89.9h1.3v1.3h-1.3zM249.9 89.6h1.3v1.3h-1.3zM258.1 98.3h1.3v1.3h-1.3zM244.8 93.5h1.3v1.3h-1.3zM260.7 99.1h1.3v1.3h-1.3zM255.4 82.9h1.3v1.3h-1.3zM248.8 101.6h1.3v1.3h-1.3zM248.0 103.2h1.3v1.3h-1.3zM246.3 103.2h1.3v1.3h-1.3zM242.6 97.1h1.3v1.3h-1.3zM248.6 98.5h1.3v1.3h-1.3zM238.5 88.0h1.3v1.3h-1.3zM256.3 85.1h1.3v1.3h-1.3zM253.5 106.2h1.3v1.3h-1.3zM247.5 93.6h1.3v1.3h-1.3zM257.4 79.9h1.3v1.3h-1.3zM249.7 89.0h1.3v1.3h-1.3zM252.0 106.1h1.3v1.3h-1.3zM260.3 97.8h1.3v1.3h-1.3zM255.7 81.9h1.3v1.3h-1.3zM253.6 97.1h1.3v1.3h-1.3zM250.8 94.2h1.3v1.3h-1.3zM241.8 86.3h1.3v1.3h-1.3zM258.5 98.1h1.3v1.3h-1.3zM259.4 103.1h1.3v1.3h-1.3zM241.9 97.8h1.3v1.3h-1.3zM249.4 85.1h1.3v1.3h-1.3zM244.2 85.9h1.3v1.3h-1.3zM241.5 80.5h1.3v1.3h-1.3zM254.4 103.7h1.3v1.3h-1.3zM248.4 95.9h1.3v1.3h-1.3zM249.6 106.6h1.3v1.3h-1.3zM257.0 90.4h1.3v1.3h-1.3zM257.2 101.2h1.3v1.3h-1.3zM241.7 108.5h1.3v1.3h-1.3zM253.8 102.6h1.3v1.3h-1.3zM239.0 92.5h1.3v1.3h-1.3zM256.8 83.1h1.3v1.3h-1.3zM238.0 94.3h1.3v1.3h-1.3zM260.0 102.3h1.3v1.3h-1.3zM243.2 82.0h1.3v1.3h-1.3zM255.9 86.7h1.3v1.3h-1.3zM257.3 79.4h1.3v1.3h-1.3zM241.7 90.8h1.3v1.3h-1.3zM241.3 106.2h1.3v1.3h-1.3zM257.6 88.9h1.3v1.3h-1.3zM252.3 82.1h1.3v1.3h-1.3zM257.0 103.0h1.3v1.3h-1.3zM250.6 115.1h1.3v1.3h-1.3zM249.5 95.5h1.3v1.3h-1.3zM254.2 108.2h1.3v1.3h-1.3zM252.9 113.8h1.3v1.3h-1.3zM244.3 112.2h1.3v1.3h-1.3zM260.7 91.8h1.3v1.3h-1.3zM252.1 105.8h1.3v1.3h-1.3zM257.5 85.2h1.3v1.3h-1.3zM255.0 95.2h1.3v1.3h-1.3zM242.8 89.2h1.3v1.3h-1.3zM246.8 106.2h1.3v1.3h-1.3zM251.9 90.9h1.3v1.3h-1.3zM257.4 109.9h1.3v1.3h-1.3zM258.2 81.3h1.3v1.3h-1.3zM244.6 96.1h1.3v1.3h-1.3zM245.0 109.5h1.3v1.3h-1.3zM249.2 80.9h1.3v1.3h-1.3zM253.3 99.1h1.3v1.3h-1.3zM238.9 99.7h1.3v1.3h-1.3zM251.1 90.3h1.3v1.3h-1.3zM243.0 84.8h1.3v1.3h-1.3zM250.0 92.6h1.3v1.3h-1.3zM252.8 103.9h1.3v1.3h-1.3zM244.5 101.5h1.3v1.3h-1.3zM244.0 106.6h1.3v1.3h-1.3zM242.5 101.0h1.3v1.3h-1.3zM256.9 108.6h1.3v1.3h-1.3zM251.3 112.7h1.3v1.3h-1.3zM246.7 88.9h1.3v1.3h-1.3zM253.9 83.7h1.3v1.3h-1.3zM241.8 82.5h1.3v1.3h-1.3zM254.6 93.3h1.3v1.3h-1.3zM251.4 91.6h1.3v1.3h-1.3zM245.7 80.9h1.3v1.3h-1.3zM257.9 95.8h1.3v1.3h-1.3zM249.8 103.0h1.3v1.3h-1.3zM246.1 104.1h1.3v1.3h-1.3zM239.1 81.9h1.3v1.3h-1.3zM251.3 82.4h1.3v1.3h-1.3zM258.0 97.8h1.3v1.3h-1.3zM258.1 102.5h1.3v1.3h-1.3zM252.3 85.3h1.3v1.3h-1.3zM240.9 82.0h1.3v1.3h-1.3zM248.7 89.7h1.3v1.3h-1.3zM257.5 83.4h1.3v1.3h-1.3zM242.9 101.0h1.3v1.3h-1.3zM252.8 93.8h1.3v1.3h-1.3zM246.4 84.2h1.3v1.3h-1.3zM255.8 92.8h1.3v1.3h-1.3zM253.2 109.3h1.3v1.3h-1.3zM239.0 94.7h1.3v1.3h-1.3zM246.5 113.5h1.3v1.3h-1.3zM253.8 86.3h1.3v1.3h-1.3zM249.4 79.5h1.3v1.3h-1.3zM250.9 81.6h1.3v1.3h-1.3zM240.7 97.8h1.3v1.3h-1.3zM251.5 86.9h1.3v1.3h-1.3zM252.8 90.5h1.3v1.3h-1.3zM256.0 80.9h1.3v1.3h-1.3zM259.7 95.6h1.3v1.3h-1.3zM241.7 89.8h1.3v1.3h-1.3zM254.0 82.5h1.3v1.3h-1.3zM261.6 87.2h1.3v1.3h-1.3zM248.1 81.7h1.3v1.3h-1.3zM249.3 114.6h1.3v1.3h-1.3zM242.0 85.6h1.3v1.3h-1.3zM251.8 102.7h1.3v1.3h-1.3zM240.9 87.1h1.3v1.3h-1.3zM253.3 87.9h1.3v1.3h-1.3zM260.1 86.9h1.3v1.3h-1.3zM245.4 101.2h1.3v1.3h-1.3zM253.6 102.2h1.3v1.3h-1.3zM251.9 87.6h1.3v1.3h-1.3zM272.1 93.0h1.3v1.3h-1.3zM269.0 91.5h1.3v1.3h-1.3zM271.0 91.2h1.3v1.3h-1.3zM273.0 95.1h1.3v1.3h-1.3zM266.5 89.2h1.3v1.3h-1.3zM269.7 92.2h1.3v1.3h-1.3zM268.9 94.2h1.3v1.3h-1.3zM270.1 93.0h1.3v1.3h-1.3zM269.4 92.2h1.3v1.3h-1.3zM270.4 94.8h1.3v1.3h-1.3zM273.6 89.5h1.3v1.3h-1.3zM271.1 89.3h1.3v1.3h-1.3zM270.1 89.6h1.3v1.3h-1.3zM267.4 94.8h1.3v1.3h-1.3zM267.4 94.8h1.3v1.3h-1.3zM268.2 92.8h1.3v1.3h-1.3zM269.7 90.7h1.3v1.3h-1.3zM267.5 92.0h1.3v1.3h-1.3z" fill="#41a048" fill-opacity="0.95"/>
<path d="M63.4 119.7h1.3v1.3h-1.3zM64.3 114.0h1.3v1.3h-1.3zM74.1 131.1h1.3v1.3h-1.3zM58.7 118.6h1.3v1.3h-1.3zM68.0 118.3h1.3v1.3h-1.3zM65.4 136.2h1.3v1.3h-1.3zM62.6 120.8h1.3v1.3h-1.3zM53.2 122.5h1.3v1.3h-1.3zM70.8 113.5h1.3v1.3h-1.3zM62.0 130.1h1.3v1.3h-1.3zM77.1 127.4h1.3v1.3h-1.3zM77.7 124.0h1.3v1.3h-1.3zM63.4 133.9h1.3v1.3h-1.3zM63.1 132.3h1.3v1.3h-1.3zM58.2 121.0h1.3v1.3h-1.3zM57.3 126.3h1.3v1.3h-1.3zM56.8 117.3h1.3v1.3h-1.3zM58.2 124.2h1.3v1.3h-1.3zM60.9 123.6h1.3v1.3h-1.3zM77.0 117.3h1.3v1.3h-1.3zM63.1 113.9h1.3v1.3h-1.3zM72.0 121.4h1.3v1.3h-1.3zM57.3 118.8h1.3v1.3h-1.3zM63.4 136.0h1.3v1.3h-1.3zM72.7 119.0h1.3v1.3h-1.3zM62.5 116.0h1.3v1.3h-1.3zM79.2 121.4h1.3v1.3h-1.3zM74.2 130.8h1.3v1.3h-1.3zM61.3 122.0h1.3v1.3h-1.3zM61.4 132.0h1.3v1.3h-1.3zM67.1 113.4h1.3v1.3h-1.3zM63.4 118.2h1.3v1.3h-1.3zM61.1 123.0h1.3v1.3h-1.3zM67.8 115.5h1.3v1.3h-1.3zM72.5 118.8h1.3v1.3h-1.3zM73.0 129.3h1.3v1.3h-1.3zM56.3 117.3h1.3v1.3h-1.3zM60.1 130.5h1.3v1.3h-1.3zM63.8 122.0h1.3v1.3h-1.3zM77.1 117.9h1.3v1.3h-1.3zM60.5 121.0h1.3v1.3h-1.3zM68.4 133.0h1.3v1.3h-1.3zM71.4 135.9h1.3v1.3h-1.3zM58.3 129.9h1.3v1.3h-1.3zM71.3 136.8h1.3v1.3h-1.3zM77.2 118.1h1.3v1.3h-1.3zM70.3 114.3h1.3v1.3h-1.3zM64.4 122.2h1.3v1.3h-1.3zM53.7 122.0h1.3v1.3h-1.3zM61.5 124.9h1.3v1.3h-1.3zM60.1 116.1h1.3v1.3h-1.3zM63.7 124.4h1.3v1.3h-1.3zM56.8 129.3h1.3v1.3h-1.3zM59.0 114.4h1.3v1.3h-1.3zM61.9 123.0h1.3v1.3h-1.3zM56.4 127.1h1.3v1.3h-1.3zM72.3 126.4h1.3v1.3h-1.3zM63.3 121.5h1.3v1.3h-1.3zM53.8 122.5h1.3v1.3h-1.3zM53.6 124.9h1.3v1.3h-1.3zM69.0 124.2h1.3v1.3h-1.3zM61.4 118.6h1.3v1.3h-1.3zM77.9 126.7h1.3v1.3h-1.3zM59.6 129.4h1.3v1.3h-1.3zM57.4 124.2h1.3v1.3h-1.3zM69.8 136.8h1.3v1.3h-1.3zM62.5 127.0h1.3v1.3h-1.3zM79.3 132.1h1.3v1.3h-1.3zM70.2 128.1h1.3v1.3h-1.3zM63.9 122.8h1.3v1.3h-1.3zM60.0 133.6h1.3v1.3h-1.3zM77.5 121.9h1.3v1.3h-1.3zM55.9 125.2h1.3v1.3h-1.3zM60.9 121.4h1.3v1.3h-1.3zM57.6 117.9h1.3v1.3h-1.3zM71.7 118.1h1.3v1.3h-1.3zM63.4 118.2h1.3v1.3h-1.3zM66.3 128.9h1.3v1.3h-1.3zM67.9 128.2h1.3v1.3h-1.3zM68.3 133.6h1.3v1.3h-1.3zM62.1 135.0h1.3v1.3h-1.3zM61.1 130.6h1.3v1.3h-1.3zM72.2 129.9h1.3v1.3h-1.3zM56.6 128.2h1.3v1.3h-1.3zM66.2 126.7h1.3v1.3h-1.3zM62.7 119.4h1.3v1.3h-1.3zM73.7 125.9h1.3v1.3h-1.3zM58.9 118.5h1.3v1.3h-1.3zM61.4 116.6h1.3v1.3h-1.3zM66.9 115.3h1.3v1.3h-1.3zM55.0 130.3h1.3v1.3h-1.3zM55.3 123.7h1.3v1.3h-1.3zM74.4 124.5h1.3v1.3h-1.3zM56.7 134.5h1.3v1.3h-1.3zM59.4 125.2h1.3v1.3h-1.3zM75.1 122.2h1.3v1.3h-1.3zM72.8 118.5h1.3v1.3h-1.3zM72.8 120.5h1.3v1.3h-1.3zM61.7 131.7h1.3v1.3h-1.3zM76.4 133.5h1.3v1.3h-1.3zM68.5 122.9h1.3v1.3h-1.3zM72.5 128.2h1.3v1.3h-1.3zM76.1 132.8h1.3v1.3h-1.3zM55.6 121.8h1.3v1.3h-1.3zM71.4 118.0h1.3v1.3h-1.3zM69.0 136.5h1.3v1.3h-1.3zM71.9 122.9h1.3v1.3h-1.3zM70.3 122.3h1.3v1.3h-1.3zM60.3 131.0h1.3v1.3h-1.3zM67.7 124.6h1.3v1.3h-1.3zM64.8 124.4h1.3v1.3h-1.3zM71.7 116.4h1.3v1.3h-1.3zM62.9 123.0h1.3v1.3h-1.3zM67.8 116.3h1.3v1.3h-1.3zM59.4 124.8h1.3v1.3h-1.3zM59.0 119.6h1.3v1.3h-1.3zM72.4 125.3h1.3v1.3h-1.3zM70.3 122.6h1.3v1.3h-1.3zM66.9 126.8h1.3v1.3h-1.3zM72.1 123.9h1.3v1.3h-1.3zM72.6 121.4h1.3v1.3h-1.3zM71.7 124.5h1.3v1.3h-1.3zM65.8 125.7h1.3v1.3h-1.3zM62.3 121.3h1.3v1.3h-1.3zM66.6 124.6h1.3v1.3h-1.3zM69.1 121.5h1.3v1.3h-1.3zM63.6 126.3h1.3v1.3h-1.3zM68.2 122.5h1.3v1.3h-1.3zM74.0 120.9h1.3v1.3h-1.3zM70.0 119.0h1.3v1.3h-1.3zM61.0 123.1h1.3v1.3h-1.3zM59.9 124.3h1.3v1.3h-1.3zM64.7 120.6h1.3v1.3h-1.3zM61.2 117.6h1.3v1.3h-1.3zM71.9 119.8h1.3v1.3h-1.3zM237.5 125.5h1.3v1.3h-1.3zM233.5 130.0h1.3v1.3h-1.3zM230.2 127.5h1.3v1.3h-1.3zM228.7 123.6h1.3v1.3h-1.3zM242.0 116.3h1.3v1.3h-1.3zM216.5 122.5h1.3v1.3h-1.3zM220.6 129.1h1.3v1.3h-1.3zM217.1 126.2h1.3v1.3h-1.3zM223.5 128.1h1.3v1.3h-1.3zM226.0 110.5h1.3v1.3h-1.3zM213.1 126.1h1.3v1.3h-1.3zM230.9 126.0h1.3v1.3h-1.3zM227.2 122.7h1.3v1.3h-1.3zM224.8 132.2h1.3v1.3h-1.3zM232.7 132.0h1.3v1.3h-1.3zM217.7 122.0h1.3v1.3h-1.3zM242.8 116.0h1.3v1.3h-1.3zM230.9 130.3h1.3v1.3h-1.3zM220.0 116.5h1.3v1.3h-1.3zM231.3 129.9h1.3v1.3h-1.3zM229.4 117.0h1.3v1.3h-1.3zM233.3 132.3h1.3v1.3h-1.3zM214.2 122.9h1.3v1.3h-1.3zM243.3 118.2h1.3v1.3h-1.3zM228.2 132.1h1.3v1.3h-1.3zM210.8 134.1h1.3v1.3h-1.3zM236.3 129.8h1.3v1.3h-1.3zM221.7 122.2h1.3v1.3h-1.3zM212.8 126.8h1.3v1.3h-1.3zM216.4 121.3h1.3v1.3h-1.3zM236.8 124.5h1.3v1.3h-1.3zM232.4 108.6h1.3v1.3h-1.3zM216.8 125.2h1.3v1.3h-1.3zM234.6 109.8h1.3v1.3h-1.3zM224.1 117.3h1.3v1.3h-1.3zM214.3 126.1h1.3v1.3h-1.3zM222.4 133.3h1.3v1.3h-1.3zM230.4 126.0h1.3v1.3h-1.3zM214.7 120.6h1.3v1.3h-1.3zM212.9 124.4h1.3v1.3h-1.3zM217.6 128.7h1.3v1.3h-1.3zM240.2 110.9h1.3v1.3h-1.3zM219.1 123.1h1.3v1.3h-1.3zM211.9 130.9h1.3v1.3h-1.3zM234.4 110.6h1.3v1.3h-1.3zM231.1 111.0h1.3v1.3h-1.3zM228.0 109.9h1.3v1.3h-1.3zM219.6 121.0h1.3v1.3h-1.3zM228.5 127.3h1.3v1.3h-1.3zM241.5 117.4h1.3v1.3h-1.3zM221.9 113.5h1.3v1.3h-1.3zM235.1 118.4h1.3v1.3h-1.3zM224.3 132.9h1.3v1.3h-1.3zM224.9 132.2h1.3v1.3h-1.3zM226.0 125.0h1.3v1.3h-1.3zM218.7 119.7h1.3v1.3h-1.3zM234.6 109.6h1.3v1.3h-1.3zM225.4 114.8h1.3v1.3h-1.3zM219.9 117.5h1.3v1.3h-1.3zM216.7 124.9h1.3v1.3h-1.3zM238.4 128.3h1.3v1.3h-1.3zM240.2 111.1h1.3v1.3h-1.3zM216.4 116.7h1.3v1.3h-1.3zM227.3 132.9h1.3v1.3h-1.3zM221.4 120.3h1.3v1.3h-1.3zM214.3 134.1h1.3v1.3h-1.3zM217.2 116.9h1.3v1.3h-1.3zM215.9 133.3h1.3v1.3h-1.3zM213.8 120.6h1.3v1.3h-1.3zM235.0 118.0h1.3v1.3h-1.3zM231.6 114.0h1.3v1.3h-1.3zM211.7 123.9h1.3v1.3h-1.3zM226.5 133.7h1.3v1.3h-1.3zM230.8 108.2h1.3v1.3h-1.3zM217.1 136.7h1.3v1.3h-1.3zM237.1 130.0h1.3v1.3h-1.3zM232.5 107.7h1.3v1.3h-1.3zM241.9 116.2h1.3v1.3h-1.3zM236.2 123.7h1.3v1.3h-1.3zM226.6 123.3h1.3v1.3h-1.3zM223.4 133.4h1.3v1.3h-1.3zM216.0 117.8h1.3v1.3h-1.3zM218.9 131.0h1.3v1.3h-1.3zM224.5 124.9h1.3v1.3h-1.3zM214.3 118.7h1.3v1.3h-1.3zM228.9 130.1h1.3v1.3h-1.3zM218.7 130.3h1.3v1.3h-1.3zM228.5 112.4h1.3v1.3h-1.3zM214.4 134.4h1.3v1.3h-1.3zM242.6 118.0h1.3v1.3h-1.3zM236.9 129.3h1.3v1.3h-1.3zM229.3 119.0h1.3v1.3h-1.3zM220.6 132.3h1.3v1.3h-1.3zM212.3 124.7h1.3v1.3h-1.3zM234.0 113.7h1.3v1.3h-1.3zM236.5 129.1h1.3v1.3h-1.3zM221.3 120.6h1.3v1.3h-1.3zM237.6 109.9h1.3v1.3h-1.3zM234.6 128.9h1.3v1.3h-1.3zM216.6 119.7h1.3v1.3h-1.3zM219.9 122.5h1.3v1.3h-1.3zM235.1 109.8h1.3v1.3h-1.3zM223.9 122.2h1.3v1.3h-1.3zM213.6 134.9h1.3v1.3h-1.3zM222.7 114.5h1.3v1.3h-1.3zM212.8 123.6h1.3v1.3h-1.3zM221.4 136.4h1.3v1.3h-1.3zM231.6 120.3h1.3v1.3h-1.3zM233.4 126.0h1.3v1.3h-1.3zM226.8 122.7h1.3v1.3h-1.3zM224.0 135.1h1.3v1.3h-1.3zM237.0 116.8h1.3v1.3h-1.3zM221.3 120.4h1.3v1.3h-1.3zM220.1 130.5h1.3v1.3h-1.3zM213.3 124.2h1.3v1.3h-1.3zM234.3 117.6h1.3v1.3h-1.3zM234.8 118.0h1.3v1.3h-1.3zM231.2 110.2h1.3v1.3h-1.3zM220.8 124.4h1.3v1.3h-1.3zM230.8 121.4h1.3v1.3h-1.3zM211.3 123.7h1.3v1.3h-1.3zM239.4 115.4h1.3v1.3h-1.3zM217.1 126.2h1.3v1.3h-1.3zM212.5 126.4h1.3v1.3h-1.3zM230.0 134.1h1.3v1.3h-1.3zM238.8 115.3h1.3v1.3h-1.3zM231.4 117.6h1.3v1.3h-1.3zM217.8 126.6h1.3v1.3h-1.3zM232.3 126.5h1.3v1.3h-1.3zM222.6 135.3h1.3v1.3h-1.3zM225.9 131.8h1.3v1.3h-1.3zM216.2 118.0h1.3v1.3h-1.3zM237.2 116.1h1.3v1.3h-1.3zM234.8 125.6h1.3v1.3h-1.3zM232.3 107.9h1.3v1.3h-1.3zM222.8 115.6h1.3v1.3h-1.3zM233.7 122.0h1.3v1.3h-1.3zM231.2 119.1h1.3v1.3h-1.3zM219.3 116.0h1.3v1.3h-1.3zM217.7 128.5h1.3v1.3h-1.3z" fill="#1a5e34" fill-opacity="0.95"/>
<path d="M126.3 136.7h1.3v1.3h-1.3zM144.8 107.7h1.3v1.3h-1.3zM98.8 107.4h1.3v1.3h-1.3zM104.8 103.3h1.3v1.3h-1.3zM120.7 133.2h1.3v1.3h-1.3zM117.5 122.6h1.3v1.3h-1.3zM97.7 109.2h1.3v1.3h-1.3zM131.8 135.6h1.3v1.3h-1.3zM149.3 132.4h1.3v1.3h-1.3zM123.4 135.3h1.3v1.3h-1.3zM151.6 133.8h1.3v1.3h-1.3zM159.7 117.7h1.3v1.3h-1.3zM143.5 111.0h1.3v1.3h-1.3zM135.1 110.0h1.3v1.3h-1.3zM122.6 116.3h1.3v1.3h-1.3zM140.4 135.7h1.3v1.3h-1.3zM121.1 128.1h1.3v1.3h-1.3zM120.4 112.3h1.3v1.3h-1.3zM156.7 114.2h1.3v1.3h-1.3zM103.2 114.7h1.3v1.3h-1.3zM145.9 109.3h1.3v1.3h-1.3zM146.1 124.0h1.3v1.3h-1.3zM141.9 107.8h1.3v1.3h-1.3zM104.0 106.3h1.3v1.3h-1.3zM120.1 119.0h1.3v1.3h-1.3zM123.6 114.1h1.3v1.3h-1.3zM132.5 141.9h1.3v1.3h-1.3zM111.5 118.0h1.3v1.3h-1.3zM143.6 107.8h1.3v1.3h-1.3zM115.0 129.8h1.3v1.3h-1.3zM159.5 114.2h1.3v1.3h-1.3zM109.1 115.7h1.3v1.3h-1.3zM138.9 116.6h1.3v1.3h-1.3zM139.5 109.3h1.3v1.3h-1.3zM137.7 139.1h1.3v1.3h-1.3zM153.5 127.7h1.3v1.3h-1.3zM130.3 125.0h1.3v1.3h-1.3zM142.5 119.9h1.3v1.3h-1.3zM140.9 118.5h1.3v1.3h-1.3zM122.4 110.1h1.3v1.3h-1.3zM136.6 125.2h1.3v1.3h-1.3zM138.4 119.7h1.3v1.3h-1.3zM136.2 126.2h1.3v1.3h-1.3zM145.7 113.8h1.3v1.3h-1.3zM145.6 143.5h1.3v1.3h-1.3zM129.4 110.3h1.3v1.3h-1.3zM152.5 128.6h1.3v1.3h-1.3zM149.6 122.5h1.3v1.3h-1.3zM154.4 131.3h1.3v1.3h-1.3zM127.0 123.6h1.3v1.3h-1.3zM154.1 108.6h1.3v1.3h-1.3zM115.5 128.3h1.3v1.3h-1.3zM101.9 124.4h1.3v1.3h-1.3zM149.0 121.6h1.3v1.3h-1.3zM153.4 133.9h1.3v1.3h-1.3zM133.3 139.9h1.3v1.3h-1.3zM149.6 106.7h1.3v1.3h-1.3zM121.1 104.4h1.3v1.3h-1.3zM99.4 115.2h1.3v1.3h-1.3zM154.1 136.7h1.3v1.3h-1.3zM104.7 108.0h1.3v1.3h-1.3zM137.7 139.7h1.3v1.3h-1.3zM110.6 127.7h1.3v1.3h-1.3zM154.9 132.0h1.3v1.3h-1.3zM119.4 113.9h1.3v1.3h-1.3zM138.6 112.3h1.3v1.3h-1.3zM136.8 130.6h1.3v1.3h-1.3zM108.9 105.6h1.3v1.3h-1.3zM142.8 120.5h1.3v1.3h-1.3zM105.5 105.1h1.3v1.3h-1.3zM159.1 126.8h1.3v1.3h-1.3zM120.6 108.6h1.3v1.3h-1.3zM145.6 115.9h1.3v1.3h-1.3zM117.5 118.0h1.3v1.3h-1.3zM125.0 136.1h1.3v1.3h-1.3zM124.0 120.1h1.3v1.3h-1.3zM119.9 131.0h1.3v1.3h-1.3zM112.5 125.5h1.3v1.3h-1.3zM141.7 120.0h1.3v1.3h-1.3zM158.6 117.1h1.3v1.3h-1.3zM146.1 126.5h1.3v1.3h-1.3zM124.7 112.4h1.3v1.3h-1.3zM116.3 130.6h1.3v1.3h-1.3zM141.4 110.8h1.3v1.3h-1.3zM124.2 105.8h1.3v1.3h-1.3zM156.1 111.1h1.3v1.3h-1.3zM124.8 115.0h1.3v1.3h-1.3zM151.2 137.4h1.3v1.3h-1.3zM136.0 124.0h1.3v1.3h-1.3zM102.8 116.0h1.3v1.3h-1.3zM121.7 131.8h1.3v1.3h-1.3zM141.2 115.1h1.3v1.3h-1.3zM128.0 115.9h1.3v1.3h-1.3zM127.7 113.9h1.3v1.3h-1.3zM141.3 126.6h1.3v1.3h-1.3zM162.5 117.4h1.3v1.3h-1.3zM151.7 128.6h1.3v1.3h-1.3zM143.3 143.9h1.3v1.3h-1.3zM101.4 120.3h1.3v1.3h-1.3zM123.5 128.9h1.3v1.3h-1.3zM110.8 116.3h1.3v1.3h-1.3zM106.4 117.4h1.3v1.3h-1.3zM138.1 132.6h1.3v1.3h-1.3zM145.2 134.1h1.3v1.3h-1.3zM104.9 120.6h1.3v1.3h-1.3zM98.6 115.4h1.3v1.3h-1.3zM132.4 123.5h1.3v1.3h-1.3zM116.9 122.3h1.3v1.3h-1.3zM105.2 125.0h1.3v1.3h-1.3zM105.6 103.9h1.3v1.3h-1.3zM130.8 112.9h1.3v1.3h-1.3zM148.3 110.9h1.3v1.3h-1.3zM111.4 119.9h1.3v1.3h-1.3zM133.8 120.2h1.3v1.3h-1.3zM153.1 106.8h1.3v1.3h-1.3zM161.0 123.1h1.3v1.3h-1.3zM123.8 126.9h1.3v1.3h-1.3zM145.5 131.4h1.3v1.3h-1.3zM107.3 123.4h1.3v1.3h-1.3zM139.4 137.3h1.3v1.3h-1.3zM151.1 119.3h1.3v1.3h-1.3zM152.8 121.4h1.3v1.3h-1.3zM155.9 116.0h1.3v1.3h-1.3zM147.3 118.5h1.3v1.3h-1.3zM159.1 111.7h1.3v1.3h-1.3zM144.1 113.2h1.3v1.3h-1.3zM158.8 113.2h1.3v1.3h-1.3zM151.1 125.2h1.3v1.3h-1.3zM152.6 128.3h1.3v1.3h-1.3zM147.5 121.1h1.3v1.3h-1.3zM148.6 124.4h1.3v1.3h-1.3zM146.7 120.4h1.3v1.3h-1.3zM154.1 115.7h1.3v1.3h-1.3zM150.6 117.5h1.3v1.3h-1.3zM147.0 123.2h1.3v1.3h-1.3zM156.8 121.3h1.3v1.3h-1.3zM150.6 124.7h1.3v1.3h-1.3zM153.9 126.3h1.3v1.3h-1.3zM144.4 118.8h1.3v1.3h-1.3zM152.2 118.6h1.3v1.3h-1.3zM162.8 118.5h1.3v1.3h-1.3zM160.5 115.7h1.3v1.3h-1.3zM148.1 113.8h1.3v1.3h-1.3zM151.1 124.9h1.3v1.3h-1.3zM146.4 113.0h1.3v1.3h-1.3zM147.4 118.1h1.3v1.3h-1.3zM153.2 109.4h1.3v1.3h-1.3zM154.9 119.5h1.3v1.3h-1.3zM152.4 124.0h1.3v1.3h-1.3zM145.0 122.8h1.3v1.3h-1.3zM145.4 124.4h1.3v1.3h-1.3zM150.7 112.2h1.3v1.3h-1.3zM155.9 117.7h1.3v1.3h-1.3zM148.7 127.6h1.3v1.3h-1.3zM155.4 111.9h1.3v1.3h-1.3zM147.4 109.7h1.3v1.3h-1.3zM153.2 115.2h1.3v1.3h-1.3zM151.4 116.1h1.3v1.3h-1.3zM159.7 114.1h1.3v1.3h-1.3zM160.9 119.3h1.3v1.3h-1.3zM153.2 106.4h1.3v1.3h-1.3zM160.6 118.3h1.3v1.3h-1.3zM145.5 123.1h1.3v1.3h-1.3zM161.2 117.0h1.3v1.3h-1.3zM161.5 123.2h1.3v1.3h-1.3zM144.8 121.9h1.3v1.3h-1.3zM146.8 125.2h1.3v1.3h-1.3zM146.8 121.1h1.3v1.3h-1.3zM151.5 121.7h1.3v1.3h-1.3zM160.7 122.5h1.3v1.3h-1.3zM154.7 114.5h1.3v1.3h-1.3zM145.2 115.1h1.3v1.3h-1.3zM155.5 120.7h1.3v1.3h-1.3zM158.3 116.1h1.3v1.3h-1.3zM159.6 113.8h1.3v1.3h-1.3zM260.7 103.4h1.3v1.3h-1.3zM305.8 128.8h1.3v1.3h-1.3zM303.2 107.5h1.3v1.3h-1.3zM262.5 103.6h1.3v1.3h-1.3zM277.5 119.9h1.3v1.3h-1.3zM269.2 101.6h1.3v1.3h-1.3zM263.9 107.3h1.3v1.3h-1.3zM309.9 112.6h1.3v1.3h-1.3zM302.7 141.1h1.3v1.3h-1.3zM304.5 134.2h1.3v1.3h-1.3zM300.6 117.5h1.3v1.3h-1.3zM292.2 140.8h1.3v1.3h-1.3zM301.1 120.2h1.3v1.3h-1.3zM315.7 132.8h1.3v1.3h-1.3zM315.9 117.9h1.3v1.3h-1.3zM275.8 112.0h1.3v1.3h-1.3zM306.7 127.9h1.3v1.3h-1.3zM273.6 116.5h1.3v1.3h-1.3zM306.5 132.0h1.3v1.3h-1.3zM289.5 132.0h1.3v1.3h-1.3zM308.2 121.9h1.3v1.3h-1.3zM299.2 137.3h1.3v1.3h-1.3zM309.1 105.2h1.3v1.3h-1.3zM308.0 106.7h1.3v1.3h-1.3zM310.3 132.8h1.3v1.3h-1.3zM265.7 105.1h1.3v1.3h-1.3zM297.8 126.7h1.3v1.3h-1.3zM300.6 123.3h1.3v1.3h-1.3zM314.5 118.4h1.3v1.3h-1.3zM281.8 108.7h1.3v1.3h-1.3zM310.0 112.7h1.3v1.3h-1.3zM302.0 141.7h1.3v1.3h-1.3zM275.9 125.2h1.3v1.3h-1.3zM309.5 120.7h1.3v1.3h-1.3zM265.6 108.6h1.3v1.3h-1.3zM256.5 115.4h1.3v1.3h-1.3zM310.8 109.0h1.3v1.3h-1.3zM303.2 114.4h1.3v1.3h-1.3zM304.8 128.3h1.3v1.3h-1.3zM259.6 119.6h1.3v1.3h-1.3zM282.5 119.1h1.3v1.3h-1.3zM291.1 129.8h1.3v1.3h-1.3zM281.1 121.9h1.3v1.3h-1.3zM308.8 129.3h1.3v1.3h-1.3zM267.6 104.3h1.3v1.3h-1.3zM317.7 130.2h1.3v1.3h-1.3zM279.0 132.3h1.3v1.3h-1.3zM287.6 127.3h1.3v1.3h-1.3zM299.5 127.0h1.3v1.3h-1.3zM266.6 124.1h1.3v1.3h-1.3zM282.8 129.3h1.3v1.3h-1.3zM305.3 107.5h1.3v1.3h-1.3zM279.0 109.8h1.3v1.3h-1.3zM317.5 120.6h1.3v1.3h-1.3zM305.9 137.5h1.3v1.3h-1.3zM287.7 103.8h1.3v1.3h-1.3zM279.2 101.9h1.3v1.3h-1.3zM281.0 118.7h1.3v1.3h-1.3zM289.6 105.6h1.3v1.3h-1.3zM288.5 116.8h1.3v1.3h-1.3zM287.1 116.9h1.3v1.3h-1.3zM299.1 125.3h1.3v1.3h-1.3zM258.2 120.8h1.3v1.3h-1.3zM271.3 124.8h1.3v1.3h-1.3zM285.1 133.0h1.3v1.3h-1.3zM295.2 121.3h1.3v1.3h-1.3zM267.8 115.5h1.3v1.3h-1.3zM293.0 110.2h1.3v1.3h-1.3zM311.1 123.1h1.3v1.3h-1.3zM285.2 112.8h1.3v1.3h-1.3zM292.4 127.8h1.3v1.3h-1.3zM293.4 141.2h1.3v1.3h-1.3zM283.7 115.0h1.3v1.3h-1.3zM303.7 123.5h1.3v1.3h-1.3zM269.7 101.4h1.3v1.3h-1.3zM290.0 139.9h1.3v1.3h-1.3zM310.6 135.6h1.3v1.3h-1.3zM294.7 121.5h1.3v1.3h-1.3zM273.9 105.6h1.3v1.3h-1.3zM283.8 136.3h1.3v1.3h-1.3zM291.0 143.1h1.3v1.3h-1.3zM307.0 123.0h1.3v1.3h-1.3zM293.4 117.2h1.3v1.3h-1.3zM314.0 136.3h1.3v1.3h-1.3zM299.0 114.6h1.3v1.3h-1.3zM303.4 117.4h1.3v1.3h-1.3zM300.1 121.2h1.3v1.3h-1.3zM296.0 140.4h1.3v1.3h-1.3zM312.9 120.1h1.3v1.3h-1.3zM280.2 130.9h1.3v1.3h-1.3zM288.1 110.9h1.3v1.3h-1.3zM297.1 105.7h1.3v1.3h-1.3zM274.4 109.6h1.3v1.3h-1.3zM273.2 124.0h1.3v1.3h-1.3zM311.1 127.5h1.3v1.3h-1.3zM297.0 133.0h1.3v1.3h-1.3zM280.4 117.7h1.3v1.3h-1.3zM297.3 107.5h1.3v1.3h-1.3zM304.0 140.4h1.3v1.3h-1.3zM314.5 108.3h1.3v1.3h-1.3zM277.5 106.2h1.3v1.3h-1.3zM294.5 122.7h1.3v1.3h-1.3zM289.9 121.5h1.3v1.3h-1.3zM295.1 133.8h1.3v1.3h-1.3zM301.9 130.5h1.3v1.3h-1.3zM308.8 119.6h1.3v1.3h-1.3zM260.3 118.8h1.3v1.3h-1.3zM299.3 108.8h1.3v1.3h-1.3zM317.4 111.3h1.3v1.3h-1.3zM286.9 119.6h1.3v1.3h-1.3zM271.4 127.2h1.3v1.3h-1.3zM278.5 113.8h1.3v1.3h-1.3zM283.7 124.6h1.3v1.3h-1.3zM259.3 122.4h1.3v1.3h-1.3zM283.5 136.6h1.3v1.3h-1.3zM256.9 108.9h1.3v1.3h-1.3zM319.1 115.0h1.3v1.3h-1.3zM257.5 109.9h1.3v1.3h-1.3zM278.6 122.3h1.3v1.3h-1.3zM279.8 112.0h1.3v1.3h-1.3zM285.8 119.6h1.3v1.3h-1.3zM266.9 121.8h1.3v1.3h-1.3zM292.5 124.4h1.3v1.3h-1.3zM303.1 118.8h1.3v1.3h-1.3zM262.7 112.0h1.3v1.3h-1.3zM282.1 117.0h1.3v1.3h-1.3zM274.7 123.2h1.3v1.3h-1.3zM294.6 104.0h1.3v1.3h-1.3zM283.0 104.1h1.3v1.3h-1.3zM290.3 131.6h1.3v1.3h-1.3zM262.4 119.1h1.3v1.3h-1.3zM298.3 115.2h1.3v1.3h-1.3zM316.4 120.7h1.3v1.3h-1.3zM280.3 130.0h1.3v1.3h-1.3zM309.4 120.8h1.3v1.3h-1.3zM310.8 133.0h1.3v1.3h-1.3zM281.9 130.6h1.3v1.3h-1.3zM288.6 103.2h1.3v1.3h-1.3zM313.5 136.8h1.3v1.3h-1.3zM313.0 108.8h1.3v1.3h-1.3zM315.4 122.7h1.3v1.3h-1.3zM303.5 128.7h1.3v1.3h-1.3zM300.2 126.2h1.3v1.3h-1.3zM298.5 123.9h1.3v1.3h-1.3zM300.8 110.5h1.3v1.3h-1.3zM307.9 126.5h1.3v1.3h-1.3zM303.5 125.6h1.3v1.3h-1.3zM298.8 119.8h1.3v1.3h-1.3zM315.6 118.7h1.3v1.3h-1.3zM304.4 126.4h1.3v1.3h-1.3zM313.9 120.4h1.3v1.3h-1.3zM314.5 122.4h1.3v1.3h-1.3zM298.8 114.8h1.3v1.3h-1.3zM312.8 119.5h1.3v1.3h-1.3zM312.1 120.8h1.3v1.3h-1.3zM306.2 124.2h1.3v1.3h-1.3zM305.4 108.9h1.3v1.3h-1.3zM310.9 114.8h1.3v1.3h-1.3zM306.6 125.2h1.3v1.3h-1.3zM297.9 118.0h1.3v1.3h-1.3zM302.5 130.8h1.3v1.3h-1.3zM298.9 110.9h1.3v1.3h-1.3zM297.8 115.1h1.3v1.3h-1.3zM301.3 117.7h1.3v1.3h-1.3zM316.6 121.2h1.3v1.3h-1.3zM303.7 127.0h1.3v1.3h-1.3zM306.7 113.5h1.3v1.3h-1.3zM311.9 127.8h1.3v1.3h-1.3zM312.7 112.5h1.3v1.3h-1.3zM308.8 120.4h1.3v1.3h-1.3zM312.3 113.1h1.3v1.3h-1.3zM297.8 119.6h1.3v1.3h-1.3zM299.6 116.6h1.3v1.3h-1.3zM297.4 112.9h1.3v1.3h-1.3zM296.7 122.4h1.3v1.3h-1.3zM307.2 107.9h1.3v1.3h-1.3zM303.5 128.8h1.3v1.3h-1.3zM312.0 119.1h1.3v1.3h-1.3zM313.9 124.5h1.3v1.3h-1.3zM298.9 124.1h1.3v1.3h-1.3zM304.2 129.8h1.3v1.3h-1.3zM295.6 121.3h1.3v1.3h-1.3zM305.4 131.8h1.3v1.3h-1.3zM296.1 116.5h1.3v1.3h-1.3zM298.6 123.8h1.3v1.3h-1.3zM296.1 115.2h1.3v1.3h-1.3zM300.7 127.2h1.3v1.3h-1.3zM305.1 128.7h1.3v1.3h-1.3zM305.4 128.6h1.3v1.3h-1.3zM304.0 122.7h1.3v1.3h-1.3zM305.1 118.2h1.3v1.3h-1.3zM308.8 117.8h1.3v1.3h-1.3zM305.2 127.3h1.3v1.3h-1.3zM303.9 129.3h1.3v1.3h-1.3zM302.9 130.4h1.3v1.3h-1.3z" fill="#3a6fbd" fill-opacity="0.95"/>
<path d="M82.4 139.1h1.3v1.3h-1.3zM95.5 158.6h1.3v1.3h-1.3zM92.9 121.4h1.3v1.3h-1.3zM91.3 137.4h1.3v1.3h-1.3zM101.0 162.7h1.3v1.3h-1.3zM93.7 151.7h1.3v1.3h-1.3zM89.5 155.8h1.3v1.3h-1.3zM78.2 154.1h1.3v1.3h-1.3zM80.7 146.9h1.3v1.3h-1.3zM82.1 135.9h1.3v1.3h-1.3zM80.6 136.1h1.3v1.3h-1.3zM97.7 143.9h1.3v1.3h-1.3zM89.5 146.4h1.3v1.3h-1.3zM107.7 136.5h1.3v1.3h-1.3zM97.4 142.1h1.3v1.3h-1.3zM101.9 130.7h1.3v1.3h-1.3zM84.5 153.6h1.3v1.3h-1.3zM97.0 131.8h1.3v1.3h-1.3zM89.1 153.0h1.3v1.3h-1.3zM91.3 148.4h1.3v1.3h-1.3zM96.4 164.9h1.3v1.3h-1.3zM110.4 141.0h1.3v1.3h-1.3zM93.5 130.6h1.3v1.3h-1.3zM104.1 124.7h1.3v1.3h-1.3zM86.3 159.0h1.3v1.3h-1.3zM96.7 145.4h1.3v1.3h-1.3zM87.3 127.0h1.3v1.3h-1.3zM105.4 130.1h1.3v1.3h-1.3zM82.0 144.6h1.3v1.3h-1.3zM98.4 125.6h1.3v1.3h-1.3zM104.6 146.8h1.3v1.3h-1.3zM101.6 136.7h1.3v1.3h-1.3zM112.0 153.1h1.3v1.3h-1.3zM85.6 159.5h1.3v1.3h-1.3zM103.1 132.2h1.3v1.3h-1.3zM95.5 131.7h1.3v1.3h-1.3zM85.7 131.6h1.3v1.3h-1.3zM79.3 142.3h1.3v1.3h-1.3zM84.9 133.1h1.3v1.3h-1.3zM85.1 143.4h1.3v1.3h-1.3zM108.4 159.3h1.3v1.3h-1.3zM98.4 145.0h1.3v1.3h-1.3zM103.4 144.6h1.3v1.3h-1.3zM100.4 162.3h1.3v1.3h-1.3zM105.0 132.0h1.3v1.3h-1.3zM88.5 156.2h1.3v1.3h-1.3zM83.3 140.8h1.3v1.3h-1.3zM88.8 153.5h1.3v1.3h-1.3zM111.7 143.3h1.3v1.3h-1.3zM96.6 136.0h1.3v1.3h-1.3zM100.3 123.3h1.3v1.3h-1.3zM96.6 125.5h1.3v1.3h-1.3zM100.7 123.1h1.3v1.3h-1.3zM75.2 146.3h1.3v1.3h-1.3zM108.2 156.1h1.3v1.3h-1.3zM94.8 123.6h1.3v1.3h-1.3zM95.1 128.5h1.3v1.3h-1.3zM95.1 136.3h1.3v1.3h-1.3zM94.0 129.1h1.3v1.3h-1.3zM102.2 139.2h1.3v1.3h-1.3zM93.4 123.6h1.3v1.3h-1.3zM93.5 145.6h1.3v1.3h-1.3zM112.9 145.8h1.3v1.3h-1.3zM79.4 133.8h1.3v1.3h-1.3zM87.4 152.3h1.3v1.3h-1.3zM74.8 142.5h1.3v1.3h-1.3zM97.6 151.5h1.3v1.3h-1.3zM98.5 148.2h1.3v1.3h-1.3zM94.8 164.1h1.3v1.3h-1.3zM107.2 151.7h1.3v1.3h-1.3zM94.8 146.7h1.3v1.3h-1.3zM104.3 157.2h1.3v1.3h-1.3zM107.3 138.8h1.3v1.3h-1.3zM87.4 135.9h1.3v1.3h-1.3zM84.5 146.9h1.3v1.3h-1.3zM95.0 135.4h1.3v1.3h-1.3zM101.0 140.9h1.3v1.3h-1.3zM83.4 160.6h1.3v1.3h-1.3zM81.0 126.9h1.3v1.3h-1.3zM84.1 142.0h1.3v1.3h-1.3zM105.3 135.3h1.3v1.3h-1.3zM83.5 150.1h1.3v1.3h-1.3zM84.4 144.0h1.3v1.3h-1.3zM84.2 160.3h1.3v1.3h-1.3zM81.4 130.7h1.3v1.3h-1.3zM86.1 135.2h1.3v1.3h-1.3zM103.1 151.0h1.3v1.3h-1.3zM105.6 144.8h1.3v1.3h-1.3zM77.1 155.1h1.3v1.3h-1.3zM83.8 130.0h1.3v1.3h-1.3zM88.8 136.4h1.3v1.3h-1.3zM89.5 126.2h1.3v1.3h-1.3zM105.6 156.0h1.3v1.3h-1.3zM87.5 156.4h1.3v1.3h-1.3zM89.2 133.2h1.3v1.3h-1.3zM97.7 154.1h1.3v1.3h-1.3zM93.0 157.6h1.3v1.3h-1.3zM74.6 143.0h1.3v1.3h-1.3zM89.2 123.0h1.3v1.3h-1.3zM82.2 160.4h1.3v1.3h-1.3zM87.7 162.8h1.3v1.3h-1.3zM79.7 152.9h1.3v1.3h-1.3zM79.4 151.2h1.3v1.3h-1.3zM109.3 153.4h1.3v1.3h-1.3zM112.0 140.9h1.3v1.3h-1.3zM88.9 125.5h1.3v1.3h-1.3zM84.9 163.2h1.3v1.3h-1.3zM76.9 128.5h1.3v1.3h-1.3zM87.9 122.3h1.3v1.3h-1.3zM86.3 128.4h1.3v1.3h-1.3zM78.9 144.2h1.3v1.3h-1.3zM95.6 146.1h1.3v1.3h-1.3zM104.5 144.2h1.3v1.3h-1.3zM82.9 123.5h1.3v1.3h-1.3zM86.4 155.0h1.3v1.3h-1.3zM111.0 143.2h1.3v1.3h-1.3zM80.4 135.2h1.3v1.3h-1.3zM96.7 133.5h1.3v1.3h-1.3zM92.4 147.7h1.3v1.3h-1.3zM107.8 141.4h1.3v1.3h-1.3zM104.5 138.4h1.3v1.3h-1.3zM76.1 127.5h1.3v1.3h-1.3zM80.9 153.9h1.3v1.3h-1.3zM82.8 156.8h1.3v1.3h-1.3zM94.0 150.0h1.3v1.3h-1.3zM92.6 128.4h1.3v1.3h-1.3zM75.7 132.0h1.3v1.3h-1.3zM98.8 137.0h1.3v1.3h-1.3zM92.9 148.7h1.3v1.3h-1.3zM86.7 136.4h1.3v1.3h-1.3zM104.9 139.8h1.3v1.3h-1.3zM90.4 150.3h1.3v1.3h-1.3zM91.9 147.6h1.3v1.3h-1.3zM102.4 143.4h1.3v1.3h-1.3zM110.6 140.6h1.3v1.3h-1.3zM101.1 143.2h1.3v1.3h-1.3zM97.0 150.2h1.3v1.3h-1.3zM97.1 140.9h1.3v1.3h-1.3zM94.5 143.9h1.3v1.3h-1.3zM103.4 144.1h1.3v1.3h-1.3zM106.8 152.1h1.3v1.3h-1.3zM92.9 153.3h1.3v1.3h-1.3zM91.2 145.4h1.3v1.3h-1.3zM106.2 146.1h1.3v1.3h-1.3zM96.9 155.1h1.3v1.3h-1.3zM92.7 140.3h1.3v1.3h-1.3zM104.9 150.4h1.3v1.3h-1.3zM88.0 147.1h1.3v1.3h-1.3zM103.6 144.9h1.3v1.3h-1.3zM95.2 147.0h1.3v1.3h-1.3zM99.6 141.1h1.3v1.3h-1.3zM104.0 135.0h1.3v1.3h-1.3zM90.6 145.8h1.3v1.3h-1.3zM90.0 146.5h1.3v1.3h-1.3zM94.6 159.0h1.3v1.3h-1.3zM91.6 145.9h1.3v1.3h-1.3zM99.6 150.6h1.3v1.3h-1.3zM104.4 135.1h1.3v1.3h-1.3zM93.0 134.5h1.3v1.3h-1.3zM95.0 133.6h1.3v1.3h-1.3zM99.4 141.9h1.3v1.3h-1.3zM100.4 140.5h1.3v1.3h-1.3zM106.3 147.2h1.3v1.3h-1.3zM91.1 156.3h1.3v1.3h-1.3zM107.2 141.9h1.3v1.3h-1.3zM107.5 150.1h1.3v1.3h-1.3zM102.2 141.6h1.3v1.3h-1.3zM102.2 155.9h1.3v1.3h-1.3zM95.4 143.5h1.3v1.3h-1.3zM97.6 143.6h1.3v1.3h-1.3zM106.1 137.2h1.3v1.3h-1.3zM92.8 139.8h1.3v1.3h-1.3zM93.1 150.3h1.3v1.3h-1.3zM102.1 146.6h1.3v1.3h-1.3zM99.4 141.2h1.3v1.3h-1.3zM91.1 136.1h1.3v1.3h-1.3zM95.1 138.1h1.3v1.3h-1.3zM95.7 151.1h1.3v1.3h-1.3zM101.9 155.3h1.3v1.3h-1.3zM102.9 142.9h1.3v1.3h-1.3zM107.3 143.1h1.3v1.3h-1.3zM109.7 143.2h1.3v1.3h-1.3zM95.2 150.9h1.3v1.3h-1.3zM90.0 144.9h1.3v1.3h-1.3zM111.6 149.1h1.3v1.3h-1.3zM90.3 144.2h1.3v1.3h-1.3zM97.8 140.7h1.3v1.3h-1.3zM100.9 154.8h1.3v1.3h-1.3zM98.3 152.2h1.3v1.3h-1.3zM100.1 147.0h1.3v1.3h-1.3zM92.7 152.8h1.3v1.3h-1.3zM107.5 142.8h1.3v1.3h-1.3zM91.9 149.7h1.3v1.3h-1.3zM98.7 153.9h1.3v1.3h-1.3zM101.5 145.1h1.3v1.3h-1.3zM88.3 150.4h1.3v1.3h-1.3zM98.7 137.1h1.3v1.3h-1.3zM102.4 142.9h1.3v1.3h-1.3zM93.5 145.2h1.3v1.3h-1.3zM98.2 143.6h1.3v1.3h-1.3zM103.2 153.2h1.3v1.3h-1.3zM96.4 157.1h1.3v1.3h-1.3zM97.1 139.9h1.3v1.3h-1.3zM99.1 135.9h1.3v1.3h-1.3zM95.9 138.6h1.3v1.3h-1.3zM95.0 147.4h1.3v1.3h-1.3zM99.8 144.5h1.3v1.3h-1.3zM103.0 148.4h1.3v1.3h-1.3zM95.4 138.9h1.3v1.3h-1.3zM103.1 151.3h1.3v1.3h-1.3zM87.6 140.9h1.3v1.3h-1.3zM89.7 151.8h1.3v1.3h-1.3zM94.0 137.2h1.3v1.3h-1.3zM108.6 149.2h1.3v1.3h-1.3zM99.6 147.7h1.3v1.3h-1.3zM96.7 146.2h1.3v1.3h-1.3zM104.3 149.1h1.3v1.3h-1.3zM94.8 146.6h1.3v1.3h-1.3zM111.1 142.1h1.3v1.3h-1.3zM88.7 146.8h1.3v1.3h-1.3zM262.7 132.1h1.3v1.3h-1.3zM261.2 136.6h1.3v1.3h-1.3zM256.8 132.6h1.3v1.3h-1.3zM257.8 149.8h1.3v1.3h-1.3zM267.9 131.8h1.3v1.3h-1.3zM258.8 146.1h1.3v1.3h-1.3zM268.8 142.1h1.3v1.3h-1.3zM253.5 138.7h1.3v1.3h-1.3zM272.0 146.7h1.3v1.3h-1.3zM257.5 155.8h1.3v1.3h-1.3zM259.9 143.8h1.3v1.3h-1.3zM261.7 132.0h1.3v1.3h-1.3zM263.8 157.9h1.3v1.3h-1.3zM264.9 124.9h1.3v1.3h-1.3zM250.6 162.4h1.3v1.3h-1.3zM266.3 126.8h1.3v1.3h-1.3zM246.9 153.7h1.3v1.3h-1.3zM257.5 128.7h1.3v1.3h-1.3zM268.3 144.6h1.3v1.3h-1.3zM240.4 138.2h1.3v1.3h-1.3zM269.3 153.0h1.3v1.3h-1.3zM248.7 149.9h1.3v1.3h-1.3zM265.2 145.7h1.3v1.3h-1.3zM243.8 131.3h1.3v1.3h-1.3zM264.1 125.7h1.3v1.3h-1.3zM252.4 162.9h1.3v1.3h-1.3zM253.5 127.0h1.3v1.3h-1.3zM261.5 136.1h1.3v1.3h-1.3zM266.1 136.8h1.3v1.3h-1.3zM245.9 145.2h1.3v1.3h-1.3zM254.7 125.7h1.3v1.3h-1.3zM270.1 135.7h1.3v1.3h-1.3zM260.2 122.8h1.3v1.3h-1.3zM262.6 126.0h1.3v1.3h-1.3zM261.9 141.6h1.3v1.3h-1.3zM255.6 130.0h1.3v1.3h-1.3zM259.9 154.4h1.3v1.3h-1.3zM264.4 138.5h1.3v1.3h-1.3zM258.1 133.9h1.3v1.3h-1.3zM261.6 139.8h1.3v1.3h-1.3zM265.9 133.4h1.3v1.3h-1.3zM252.6 123.8h1.3v1.3h-1.3zM241.3 129.9h1.3v1.3h-1.3zM240.6 139.5h1.3v1.3h-1.3zM252.5 160.6h1.3v1.3h-1.3zM251.8 131.3h1.3v1.3h-1.3zM260.2 136.4h1.3v1.3h-1.3zM240.5 126.0h1.3v1.3h-1.3zM262.4 153.1h1.3v1.3h-1.3zM265.4 135.8h1.3v1.3h-1.3zM257.0 132.8h1.3v1.3h-1.3zM253.6 162.1h1.3v1.3h-1.3zM248.3 139.5h1.3v1.3h-1.3zM270.0 140.8h1.3v1.3h-1.3zM266.8 144.6h1.3v1.3h-1.3zM251.5 153.1h1.3v1.3h-1.3zM261.5 137.5h1.3v1.3h-1.3zM268.0 153.2h1.3v1.3h-1.3zM263.4 141.8h1.3v1.3h-1.3zM262.1 159.8h1.3v1.3h-1.3zM253.5 154.1h1.3v1.3h-1.3zM263.0 143.1h1.3v1.3h-1.3zM265.4 142.3h1.3v1.3h-1.3zM244.0 144.1h1.3v1.3h-1.3zM264.9 127.6h1.3v1.3h-1.3zM255.2 158.4h1.3v1.3h-1.3zM251.6 136.7h1.3v1.3h-1.3zM263.1 146.4h1.3v1.3h-1.3zM249.5 127.2h1.3v1.3h-1.3zM253.9 160.9h1.3v1.3h-1.3zM263.0 151.6h1.3v1.3h-1.3zM253.3 162.2h1.3v1.3h-1.3zM260.6 130.4h1.3v1.3h-1.3zM242.1 141.7h1.3v1.3h-1.3zM258.2 141.5h1.3v1.3h-1.3zM259.2 122.8h1.3v1.3h-1.3zM251.9 158.2h1.3v1.3h-1.3zM249.5 128.7h1.3v1.3h-1.3zM268.7 138.6h1.3v1.3h-1.3zM250.9 136.9h1.3v1.3h-1.3zM262.4 125.4h1.3v1.3h-1.3zM264.4 136.4h1.3v1.3h-1.3zM248.4 160.8h1.3v1.3h-1.3zM246.0 150.7h1.3v1.3h-1.3zM254.4 122.2h1.3v1.3h-1.3z" fill="#4a1460" fill-opacity="0.95"/>
<path d="M110.7 179.5h1.3v1.3h-1.3zM104.1 157.0h1.3v1.3h-1.3zM107.5 175.6h1.3v1.3h-1.3zM117.3 160.5h1.3v1.3h-1.3zM113.6 176.3h1.3v1.3h-1.3zM108.8 173.1h1.3v1.3h-1.3zM124.1 161.8h1.3v1.3h-1.3zM112.4 161.4h1.3v1.3h-1.3zM115.4 157.4h1.3v1.3h-1.3zM121.2 160.6h1.3v1.3h-1.3zM110.3 172.5h1.3v1.3h-1.3zM115.5 162.6h1.3v1.3h-1.3zM129.9 162.0h1.3v1.3h-1.3zM112.8 176.6h1.3v1.3h-1.3zM113.6 169.1h1.3v1.3h-1.3zM125.2 156.8h1.3v1.3h-1.3zM122.3 169.1h1.3v1.3h-1.3zM114.8 168.6h1.3v1.3h-1.3zM107.7 172.4h1.3v1.3h-1.3zM118.3 179.3h1.3v1.3h-1.3zM111.6 170.5h1.3v1.3h-1.3zM100.6 160.7h1.3v1.3h-1.3zM126.1 155.6h1.3v1.3h-1.3zM120.9 154.3h1.3v1.3h-1.3zM113.5 179.8h1.3v1.3h-1.3zM106.7 177.1h1.3v1.3h-1.3zM102.0 166.2h1.3v1.3h-1.3zM127.9 174.6h1.3v1.3h-1.3zM113.3 166.5h1.3v1.3h-1.3zM124.2 172.1h1.3v1.3h-1.3zM125.4 166.1h1.3v1.3h-1.3zM108.6 170.3h1.3v1.3h-1.3zM119.1 165.0h1.3v1.3h-1.3zM126.5 157.7h1.3v1.3h-1.3zM109.3 165.7h1.3v1.3h-1.3zM118.0 163.3h1.3v1.3h-1.3zM105.7 167.6h1.3v1.3h-1.3zM130.4 168.9h1.3v1.3h-1.3zM109.8 173.6h1.3v1.3h-1.3zM114.3 151.8h1.3v1.3h-1.3zM120.6 162.2h1.3v1.3h-1.3zM118.0 179.7h1.3v1.3h-1.3zM119.4 178.5h1.3v1.3h-1.3zM112.0 172.0h1.3v1.3h-1.3zM102.6 156.9h1.3v1.3h-1.3zM123.5 169.8h1.3v1.3h-1.3zM128.2 159.5h1.3v1.3h-1.3zM109.3 158.8h1.3v1.3h-1.3zM112.7 168.7h1.3v1.3h-1.3zM105.1 157.3h1.3v1.3h-1.3zM108.5 152.9h1.3v1.3h-1.3zM127.0 171.4h1.3v1.3h-1.3zM109.0 163.1h1.3v1.3h-1.3zM127.8 175.4h1.3v1.3h-1.3zM107.2 170.2h1.3v1.3h-1.3zM123.8 158.1h1.3v1.3h-1.3zM116.1 157.4h1.3v1.3h-1.3zM115.0 173.8h1.3v1.3h-1.3zM119.4 167.1h1.3v1.3h-1.3zM107.6 167.4h1.3v1.3h-1.3zM111.6 161.5h1.3v1.3h-1.3zM114.7 174.3h1.3v1.3h-1.3zM131.1 169.3h1.3v1.3h-1.3zM105.8 158.7h1.3v1.3h-1.3zM124.0 154.1h1.3v1.3h-1.3zM107.7 159.0h1.3v1.3h-1.3zM107.8 170.7h1.3v1.3h-1.3zM101.6 170.0h1.3v1.3h-1.3zM102.1 174.8h1.3v1.3h-1.3zM118.5 166.2h1.3v1.3h-1.3zM112.0 179.5h1.3v1.3h-1.3zM120.4 175.5h1.3v1.3h-1.3zM100.7 170.0h1.3v1.3h-1.3zM106.0 156.0h1.3v1.3h-1.3zM122.7 170.0h1.3v1.3h-1.3zM111.0 162.4h1.3v1.3h-1.3zM109.8 165.5h1.3v1.3h-1.3zM112.1 158.9h1.3v1.3h-1.3zM108.5 156.6h1.3v1.3h-1.3zM110.6 166.5h1.3v1.3h-1.3zM109.1 150.7h1.3v1.3h-1.3zM128.8 162.5h1.3v1.3h-1.3zM117.4 157.3h1.3v1.3h-1.3zM130.2 171.9h1.3v1.3h-1.3zM121.2 168.8h1.3v1.3h-1.3zM123.5 163.5h1.3v1.3h-1.3zM114.0 159.9h1.3v1.3h-1.3zM117.1 162.5h1.3v1.3h-1.3zM118.0 164.6h1.3v1.3h-1.3zM126.8 176.5h1.3v1.3h-1.3zM127.1 167.5h1.3v1.3h-1.3zM109.7 153.3h1.3v1.3h-1.3zM129.5 174.6h1.3v1.3h-1.3zM123.2 169.8h1.3v1.3h-1.3zM125.3 162.0h1.3v1.3h-1.3zM113.5 165.2h1.3v1.3h-1.3zM133.0 164.9h1.3v1.3h-1.3zM117.5 157.2h1.3v1.3h-1.3zM129.3 164.1h1.3v1.3h-1.3zM105.0 159.9h1.3v1.3h-1.3zM121.7 150.7h1.3v1.3h-1.3zM119.1 178.0h1.3v1.3h-1.3zM114.8 172.2h1.3v1.3h-1.3zM120.1 166.2h1.3v1.3h-1.3zM105.9 162.3h1.3v1.3h-1.3zM130.6 169.2h1.3v1.3h-1.3zM107.4 161.7h1.3v1.3h-1.3zM118.5 158.1h1.3v1.3h-1.3zM119.6 167.8h1.3v1.3h-1.3zM122.3 154.1h1.3v1.3h-1.3zM102.5 172.1h1.3v1.3h-1.3zM111.4 178.6h1.3v1.3h-1.3zM119.0 150.3h1.3v1.3h-1.3zM121.7 155.7h1.3v1.3h-1.3zM127.7 170.9h1.3v1.3h-1.3zM101.2 173.3h1.3v1.3h-1.3zM104.8 153.7h1.3v1.3h-1.3zM116.1 178.6h1.3v1.3h-1.3zM110.9 155.6h1.3v1.3h-1.3zM121.6 167.3h1.3v1.3h-1.3zM114.6 166.3h1.3v1.3h-1.3zM107.6 164.9h1.3v1.3h-1.3zM115.0 163.2h1.3v1.3h-1.3zM112.2 163.6h1.3v1.3h-1.3zM113.3 171.4h1.3v1.3h-1.3zM120.8 162.9h1.3v1.3h-1.3zM116.5 168.4h1.3v1.3h-1.3zM113.4 171.5h1.3v1.3h-1.3zM118.2 159.9h1.3v1.3h-1.3zM121.9 166.0h1.3v1.3h-1.3zM108.9 163.1h1.3v1.3h-1.3zM111.6 160.7h1.3v1.3h-1.3zM119.5 169.3h1.3v1.3h-1.3zM107.5 171.5h1.3v1.3h-1.3zM114.4 167.4h1.3v1.3h-1.3zM118.7 166.4h1.3v1.3h-1.3zM111.4 169.7h1.3v1.3h-1.3zM116.0 172.9h1.3v1.3h-1.3zM102.8 167.0h1.3v1.3h-1.3zM108.9 165.4h1.3v1.3h-1.3zM116.6 175.2h1.3v1.3h-1.3zM116.8 167.7h1.3v1.3h-1.3zM101.7 169.1h1.3v1.3h-1.3zM105.7 160.8h1.3v1.3h-1.3zM113.7 158.2h1.3v1.3h-1.3zM123.6 170.3h1.3v1.3h-1.3zM115.1 169.6h1.3v1.3h-1.3zM114.4 167.3h1.3v1.3h-1.3zM117.2 163.2h1.3v1.3h-1.3zM114.6 167.9h1.3v1.3h-1.3zM117.6 160.9h1.3v1.3h-1.3zM114.4 166.2h1.3v1.3h-1.3zM116.7 169.9h1.3v1.3h-1.3zM114.1 169.5h1.3v1.3h-1.3zM115.6 174.5h1.3v1.3h-1.3zM114.8 169.9h1.3v1.3h-1.3zM107.3 165.8h1.3v1.3h-1.3zM117.6 172.8h1.3v1.3h-1.3zM107.1 166.7h1.3v1.3h-1.3zM111.3 167.3h1.3v1.3h-1.3zM110.1 164.6h1.3v1.3h-1.3zM112.6 167.6h1.3v1.3h-1.3zM119.1 162.3h1.3v1.3h-1.3zM107.2 171.3h1.3v1.3h-1.3zM116.0 165.9h1.3v1.3h-1.3zM106.0 172.8h1.3v1.3h-1.3zM106.5 173.2h1.3v1.3h-1.3zM114.5 166.1h1.3v1.3h-1.3zM111.9 171.5h1.3v1.3h-1.3zM113.0 157.4h1.3v1.3h-1.3zM115.4 172.1h1.3v1.3h-1.3zM119.2 159.5h1.3v1.3h-1.3zM107.7 172.7h1.3v1.3h-1.3zM124.5 166.9h1.3v1.3h-1.3zM116.8 171.4h1.3v1.3h-1.3zM110.1 165.9h1.3v1.3h-1.3zM113.4 165.1h1.3v1.3h-1.3zM109.6 163.8h1.3v1.3h-1.3zM109.4 173.7h1.3v1.3h-1.3zM115.4 172.6h1.3v1.3h-1.3zM112.5 172.2h1.3v1.3h-1.3zM111.7 163.7h1.3v1.3h-1.3zM115.3 164.0h1.3v1.3h-1.3zM107.9 165.3h1.3v1.3h-1.3zM113.3 167.0h1.3v1.3h-1.3zM118.4 167.1h1.3v1.3h-1.3zM111.6 165.5h1.3v1.3h-1.3zM112.1 163.1h1.3v1.3h-1.3zM103.5 168.0h1.3v1.3h-1.3zM108.4 169.3h1.3v1.3h-1.3zM108.8 169.9h1.3v1.3h-1.3zM112.6 160.9h1.3v1.3h-1.3zM111.6 164.1h1.3v1.3h-1.3zM115.4 174.3h1.3v1.3h-1.3zM113.8 168.3h1.3v1.3h-1.3zM109.7 168.8h1.3v1.3h-1.3zM112.1 159.9h1.3v1.3h-1.3zM115.5 167.9h1.3v1.3h-1.3zM119.5 168.4h1.3v1.3h-1.3zM117.1 159.6h1.3v1.3h-1.3zM101.7 163.8h1.3v1.3h-1.3zM111.0 168.9h1.3v1.3h-1.3zM112.1 166.0h1.3v1.3h-1.3zM113.2 168.3h1.3v1.3h-1.3zM114.1 168.7h1.3v1.3h-1.3zM109.9 166.4h1.3v1.3h-1.3zM104.1 160.8h1.3v1.3h-1.3zM111.3 169.3h1.3v1.3h-1.3zM108.4 159.2h1.3v1.3h-1.3zM118.7 162.3h1.3v1.3h-1.3zM102.6 161.6h1.3v1.3h-1.3zM110.6 176.2h1.3v1.3h-1.3zM108.5 162.4h1.3v1.3h-1.3zM119.8 167.4h1.3v1.3h-1.3zM112.3 174.4h1.3v1.3h-1.3zM105.8 166.6h1.3v1.3h-1.3zM116.0 168.1h1.3v1.3h-1.3zM105.9 161.8h1.3v1.3h-1.3zM123.6 166.4h1.3v1.3h-1.3zM111.4 172.9h1.3v1.3h-1.3zM120.4 151.3h1.3v1.3h-1.3zM120.4 148.0h1.3v1.3h-1.3zM116.8 156.6h1.3v1.3h-1.3zM117.8 157.8h1.3v1.3h-1.3zM121.1 151.1h1.3v1.3h-1.3zM118.0 152.1h1.3v1.3h-1.3zM119.4 154.3h1.3v1.3h-1.3zM121.6 148.4h1.3v1.3h-1.3zM120.9 148.3h1.3v1.3h-1.3zM120.1 155.2h1.3v1.3h-1.3zM267.3 159.3h1.3v1.3h-1.3zM287.0 173.1h1.3v1.3h-1.3zM293.4 155.0h1.3v1.3h-1.3zM264.5 161.2h1.3v1.3h-1.3zM268.8 156.2h1.3v1.3h-1.3zM277.5 154.0h1.3v1.3h-1.3zM268.5 158.8h1.3v1.3h-1.3zM274.5 178.2h1.3v1.3h-1.3zM285.5 162.9h1.3v1.3h-1.3zM263.5 169.1h1.3v1.3h-1.3zM286.8 171.7h1.3v1.3h-1.3zM276.3 171.7h1.3v1.3h-1.3zM269.3 178.5h1.3v1.3h-1.3zM285.6 174.0h1.3v1.3h-1.3zM263.3 170.2h1.3v1.3h-1.3zM262.1 177.6h1.3v1.3h-1.3zM257.9 167.9h1.3v1.3h-1.3zM263.6 168.7h1.3v1.3h-1.3zM258.1 164.6h1.3v1.3h-1.3zM263.1 171.4h1.3v1.3h-1.3zM265.6 174.9h1.3v1.3h-1.3zM257.2 166.3h1.3v1.3h-1.3zM256.8 166.1h1.3v1.3h-1.3zM261.4 169.7h1.3v1.3h-1.3zM264.5 176.0h1.3v1.3h-1.3zM259.9 171.2h1.3v1.3h-1.3zM258.5 162.8h1.3v1.3h-1.3zM265.3 171.5h1.3v1.3h-1.3zM259.6 170.7h1.3v1.3h-1.3zM261.8 169.5h1.3v1.3h-1.3zM282.1 175.2h1.3v1.3h-1.3zM284.3 176.0h1.3v1.3h-1.3zM269.2 178.5h1.3v1.3h-1.3zM277.5 173.1h1.3v1.3h-1.3zM276.5 176.6h1.3v1.3h-1.3zM268.4 178.4h1.3v1.3h-1.3zM273.6 179.5h1.3v1.3h-1.3zM270.6 177.3h1.3v1.3h-1.3zM269.2 177.5h1.3v1.3h-1.3zM277.4 175.7h1.3v1.3h-1.3zM270.9 175.8h1.3v1.3h-1.3zM274.4 174.7h1.3v1.3h-1.3zM287.6 174.8h1.3v1.3h-1.3zM281.1 173.1h1.3v1.3h-1.3zM270.8 180.1h1.3v1.3h-1.3zM277.2 177.0h1.3v1.3h-1.3zM268.2 180.9h1.3v1.3h-1.3zM270.3 176.4h1.3v1.3h-1.3zM280.5 176.9h1.3v1.3h-1.3zM279.5 174.9h1.3v1.3h-1.3zM290.2 162.9h1.3v1.3h-1.3zM291.0 161.3h1.3v1.3h-1.3zM286.6 171.5h1.3v1.3h-1.3zM290.1 167.3h1.3v1.3h-1.3zM290.2 165.2h1.3v1.3h-1.3zM286.8 171.5h1.3v1.3h-1.3zM289.2 172.7h1.3v1.3h-1.3zM289.3 163.5h1.3v1.3h-1.3zM286.2 168.5h1.3v1.3h-1.3zM288.7 173.3h1.3v1.3h-1.3zM287.6 168.2h1.3v1.3h-1.3zM290.1 173.5h1.3v1.3h-1.3zM286.2 148.0h1.3v1.3h-1.3zM286.2 149.3h1.3v1.3h-1.3zM280.7 149.8h1.3v1.3h-1.3zM284.4 149.1h1.3v1.3h-1.3z" fill="#181818" fill-opacity="0.95"/>
<path d="M133.2 170.8h1.3v1.3h-1.3zM135.8 166.5h1.3v1.3h-1.3zM142.9 159.0h1.3v1.3h-1.3zM148.8 164.4h1.3v1.3h-1.3zM134.6 172.8h1.3v1.3h-1.3zM143.7 166.9h1.3v1.3h-1.3zM148.2 173.0h1.3v1.3h-1.3zM142.9 166.9h1.3v1.3h-1.3zM137.4 175.4h1.3v1.3h-1.3zM135.8 170.2h1.3v1.3h-1.3zM137.8 171.8h1.3v1.3h-1.3zM148.3 173.1h1.3v1.3h-1.3zM132.7 167.6h1.3v1.3h-1.3zM134.5 168.4h1.3v1.3h-1.3zM136.5 168.5h1.3v1.3h-1.3zM137.7 161.2h1.3v1.3h-1.3zM145.4 172.4h1.3v1.3h-1.3zM138.1 166.0h1.3v1.3h-1.3zM144.5 171.8h1.3v1.3h-1.3zM140.3 160.2h1.3v1.3h-1.3zM133.7 161.2h1.3v1.3h-1.3zM146.9 167.4h1.3v1.3h-1.3zM143.6 164.9h1.3v1.3h-1.3zM138.6 161.3h1.3v1.3h-1.3zM162.4 151.7h1.3v1.3h-1.3zM159.8 151.8h1.3v1.3h-1.3zM159.8 151.2h1.3v1.3h-1.3zM161.6 152.9h1.3v1.3h-1.3zM157.8 153.8h1.3v1.3h-1.3zM157.9 160.3h1.3v1.3h-1.3zM159.0 157.7h1.3v1.3h-1.3zM157.9 159.5h1.3v1.3h-1.3zM182.0 129.4h1.3v1.3h-1.3zM180.9 125.0h1.3v1.3h-1.3zM179.9 122.3h1.3v1.3h-1.3zM181.5 125.4h1.3v1.3h-1.3zM181.1 121.6h1.3v1.3h-1.3zM296.2 170.1h1.3v1.3h-1.3zM318.0 154.6h1.3v1.3h-1.3zM320.3 152.3h1.3v1.3h-1.3zM302.4 157.0h1.3v1.3h-1.3zM298.7 164.0h1.3v1.3h-1.3zM298.7 168.4h1.3v1.3h-1.3zM303.3 174.0h1.3v1.3h-1.3zM309.9 163.9h1.3v1.3h-1.3zM316.3 165.5h1.3v1.3h-1.3zM306.4 156.2h1.3v1.3h-1.3zM306.9 169.8h1.3v1.3h-1.3zM297.2 160.6h1.3v1.3h-1.3zM312.2 158.2h1.3v1.3h-1.3zM312.6 169.3h1.3v1.3h-1.3zM300.7 170.5h1.3v1.3h-1.3zM319.5 163.0h1.3v1.3h-1.3zM310.1 167.7h1.3v1.3h-1.3zM297.8 164.6h1.3v1.3h-1.3zM300.6 156.0h1.3v1.3h-1.3zM305.4 155.9h1.3v1.3h-1.3zM300.3 163.7h1.3v1.3h-1.3zM313.9 154.5h1.3v1.3h-1.3zM297.6 163.3h1.3v1.3h-1.3zM308.7 156.2h1.3v1.3h-1.3zM313.1 165.6h1.3v1.3h-1.3zM312.1 154.1h1.3v1.3h-1.3zM308.7 158.5h1.3v1.3h-1.3zM314.1 167.8h1.3v1.3h-1.3zM340.8 127.0h1.3v1.3h-1.3zM340.6 128.6h1.3v1.3h-1.3zM341.3 128.5h1.3v1.3h-1.3zM340.3 130.1h1.3v1.3h-1.3zM341.0 127.4h1.3v1.3h-1.3z" fill="#6a6a6a" fill-opacity="0.95"/>
<path d="M184.5 143.8h1.3v1.3h-1.3zM186.0 139.2h1.3v1.3h-1.3zM183.9 146.4h1.3v1.3h-1.3zM187.8 143.5h1.3v1.3h-1.3zM184.3 139.3h1.3v1.3h-1.3zM189.6 143.9h1.3v1.3h-1.3zM185.6 138.0h1.3v1.3h-1.3zM187.2 139.0h1.3v1.3h-1.3zM182.6 141.6h1.3v1.3h-1.3zM184.9 143.6h1.3v1.3h-1.3zM184.9 144.8h1.3v1.3h-1.3zM189.7 142.0h1.3v1.3h-1.3zM186.8 136.5h1.3v1.3h-1.3zM186.5 144.2h1.3v1.3h-1.3zM187.0 142.0h1.3v1.3h-1.3zM182.0 137.8h1.3v1.3h-1.3zM184.9 141.2h1.3v1.3h-1.3zM183.9 145.2h1.3v1.3h-1.3zM184.7 141.5h1.3v1.3h-1.3zM188.4 140.4h1.3v1.3h-1.3zM188.2 139.3h1.3v1.3h-1.3zM181.3 138.5h1.3v1.3h-1.3zM186.1 139.0h1.3v1.3h-1.3zM184.1 140.4h1.3v1.3h-1.3zM186.8 142.0h1.3v1.3h-1.3zM187.3 144.2h1.3v1.3h-1.3zM181.1 138.2h1.3v1.3h-1.3zM190.1 139.5h1.3v1.3h-1.3zM182.8 136.9h1.3v1.3h-1.3zM186.1 136.9h1.3v1.3h-1.3zM187.7 145.1h1.3v1.3h-1.3zM182.4 143.3h1.3v1.3h-1.3zM184.7 136.8h1.3v1.3h-1.3zM181.7 138.9h1.3v1.3h-1.3zM187.5 136.3h1.3v1.3h-1.3zM186.4 142.4h1.3v1.3h-1.3zM188.6 149.2h1.3v1.3h-1.3zM185.1 149.9h1.3v1.3h-1.3zM185.5 154.3h1.3v1.3h-1.3zM187.6 147.8h1.3v1.3h-1.3zM186.5 145.8h1.3v1.3h-1.3zM186.1 156.1h1.3v1.3h-1.3zM183.9 153.5h1.3v1.3h-1.3zM185.3 150.4h1.3v1.3h-1.3zM186.0 153.0h1.3v1.3h-1.3zM187.3 147.8h1.3v1.3h-1.3zM185.9 151.8h1.3v1.3h-1.3zM185.7 155.8h1.3v1.3h-1.3zM188.3 144.7h1.3v1.3h-1.3zM186.7 145.7h1.3v1.3h-1.3zM178.6 157.5h1.3v1.3h-1.3zM184.1 159.1h1.3v1.3h-1.3zM178.1 157.1h1.3v1.3h-1.3zM182.6 158.4h1.3v1.3h-1.3zM180.1 155.9h1.3v1.3h-1.3zM180.9 157.2h1.3v1.3h-1.3zM181.2 155.6h1.3v1.3h-1.3zM182.2 156.8h1.3v1.3h-1.3zM173.8 151.2h1.3v1.3h-1.3zM174.9 151.2h1.3v1.3h-1.3zM173.6 151.2h1.3v1.3h-1.3zM345.4 143.6h1.3v1.3h-1.3zM339.3 137.7h1.3v1.3h-1.3zM345.1 145.8h1.3v1.3h-1.3zM343.9 133.3h1.3v1.3h-1.3zM348.3 143.2h1.3v1.3h-1.3zM348.9 140.7h1.3v1.3h-1.3zM345.5 136.9h1.3v1.3h-1.3zM345.6 142.2h1.3v1.3h-1.3zM348.4 139.2h1.3v1.3h-1.3zM342.9 141.4h1.3v1.3h-1.3zM349.2 141.4h1.3v1.3h-1.3zM349.1 142.2h1.3v1.3h-1.3zM343.5 143.6h1.3v1.3h-1.3zM339.5 142.7h1.3v1.3h-1.3zM343.4 143.4h1.3v1.3h-1.3zM346.7 143.3h1.3v1.3h-1.3zM343.8 136.3h1.3v1.3h-1.3zM345.5 144.1h1.3v1.3h-1.3zM345.3 138.7h1.3v1.3h-1.3zM344.6 143.8h1.3v1.3h-1.3zM350.4 138.8h1.3v1.3h-1.3zM349.0 142.2h1.3v1.3h-1.3zM345.4 133.6h1.3v1.3h-1.3zM344.8 140.9h1.3v1.3h-1.3zM339.6 141.0h1.3v1.3h-1.3zM347.5 139.7h1.3v1.3h-1.3zM346.2 142.9h1.3v1.3h-1.3zM350.0 139.5h1.3v1.3h-1.3zM350.0 140.7h1.3v1.3h-1.3zM345.2 141.0h1.3v1.3h-1.3zM349.7 138.6h1.3v1.3h-1.3zM344.0 137.9h1.3v1.3h-1.3zM347.6 152.6h1.3v1.3h-1.3zM344.5 150.4h1.3v1.3h-1.3zM345.1 150.6h1.3v1.3h-1.3zM346.5 153.5h1.3v1.3h-1.3zM343.6 151.5h1.3v1.3h-1.3zM345.0 153.0h1.3v1.3h-1.3zM351.5 149.7h1.3v1.3h-1.3zM348.4 147.0h1.3v1.3h-1.3zM343.2 155.2h1.3v1.3h-1.3zM347.6 147.2h1.3v1.3h-1.3zM345.6 151.7h1.3v1.3h-1.3zM344.8 154.9h1.3v1.3h-1.3zM340.4 158.3h1.3v1.3h-1.3zM340.3 158.6h1.3v1.3h-1.3zM343.2 154.8h1.3v1.3h-1.3zM340.7 157.5h1.3v1.3h-1.3zM339.9 157.4h1.3v1.3h-1.3zM340.1 155.3h1.3v1.3h-1.3zM343.3 156.6h1.3v1.3h-1.3zM338.9 158.6h1.3v1.3h-1.3zM331.7 150.6h1.3v1.3h-1.3zM331.4 151.2h1.3v1.3h-1.3z" fill="#e8b888" fill-opacity="0.95"/>
<path d="M130.2 205.9h1.3v1.3h-1.3zM128.2 209.2h1.3v1.3h-1.3zM130.0 206.7h1.3v1.3h-1.3zM128.0 207.8h1.3v1.3h-1.3zM129.3 206.7h1.3v1.3h-1.3zM131.2 206.2h1.3v1.3h-1.3zM128.9 208.3h1.3v1.3h-1.3zM288.4 208.2h1.3v1.3h-1.3zM289.3 206.8h1.3v1.3h-1.3zM289.5 206.3h1.3v1.3h-1.3zM289.6 207.3h1.3v1.3h-1.3zM288.1 207.0h1.3v1.3h-1.3zM287.9 208.7h1.3v1.3h-1.3zM288.4 208.4h1.3v1.3h-1.3z" fill="#7ec08a" fill-opacity="0.95"/>
<text x="110.80" y="67.20" font-size="15.5" text-anchor="middle" fill="#000" >0</text>
<text x="139.70" y="119.00" font-size="15.5" text-anchor="middle" fill="#000" >1</text>
<text x="144.60" y="85.60" font-size="15.5" text-anchor="middle" fill="#000" >2</text>
<text x="76.90" y="161.30" font-size="15.5" text-anchor="middle" fill="#000" >3</text>
<text x="126.50" y="161.00" font-size="15.5" text-anchor="middle" fill="#000" >4</text>
<text x="64.20" y="112.80" font-size="15.5" text-anchor="middle" fill="#000" >5</text>
<text x="94.60" y="95.20" font-size="15.5" text-anchor="middle" fill="#000" >6</text>
<text x="188.50" y="145.80" font-size="15.5" text-anchor="middle" fill="#000" >7</text>
<text x="150.00" y="164.40" font-size="15.5" text-anchor="middle" fill="#000" >8</text>
<text x="135.30" y="207.80" font-size="15.5" text-anchor="middle" fill="#000" >9</text>
<text x="270.00" y="66.30" font-size="15.5" text-anchor="middle" fill="#000" >0</text>
<text x="295.70" y="120.80" font-size="15.5" text-anchor="middle" fill="#000" >1</text>
<text x="298.50" y="86.30" font-size="15.5" text-anchor="middle" fill="#000" >2</text>
<text x="237.00" y="153.60" font-size="15.5" text-anchor="middle" fill="#000" >3</text>
<text x="274.60" y="170.60" font-size="15.5" text-anchor="middle" fill="#000" >4</text>
<text x="223.00" y="115.60" font-size="15.5" text-anchor="middle" fill="#000" >5</text>
<text x="251.50" y="96.30" font-size="15.5" text-anchor="middle" fill="#000" >6</text>
<text x="347.70" y="144.40" font-size="15.5" text-anchor="middle" fill="#000" >7</text>
<text x="305.40" y="169.00" font-size="15.5" text-anchor="middle" fill="#000" >8</text>
<text x="293.50" y="209.60" font-size="15.5" text-anchor="middle" fill="#000" >9</text>
<text x="8.20" y="272.80" font-size="13" text-anchor="start" fill="#000" font-weight="bold" >B</text>
<line x1="45.40" y1="277.00" x2="45.40" y2="471.00" stroke="#111" stroke-width="1"/>
<line x1="44.90" y1="470.50" x2="153.00" y2="470.50" stroke="#111" stroke-width="1"/>
<line x1="41.90" y1="462.00" x2="45.40" y2="462.00" stroke="#111" stroke-width="1"/>
<text x="39.10" y="465.20" font-size="9.6" text-anchor="end" fill="#1a1a1a" >0</text>
<line x1="41.90" y1="399.40" x2="45.40" y2="399.40" stroke="#111" stroke-width="1"/>
<text x="39.10" y="402.60" font-size="9.6" text-anchor="end" fill="#1a1a1a" >2</text>
<line x1="41.90" y1="336.80" x2="45.40" y2="336.80" stroke="#111" stroke-width="1"/>
<text x="39.10" y="340.00" font-size="9.6" text-anchor="end" fill="#1a1a1a" >4</text>
<text x="99.00" y="270.70" font-size="10.8" text-anchor="middle" fill="#1a1a1a" textLength="25.8" lengthAdjust="spacingAndGlyphs" >Cd3e</text>
<line x1="51.50" y1="298.3" x2="51.50" y2="462.0" stroke="#858585" stroke-width="1"/>
<path d="M51.6,302.3 51.2,308.3 51.1,312.4 50.5,316.4 47.8,328.4 47.2,332.4 47.2,335.5 47.4,338.5 48.1,342.5 50.4,351.5 51.0,354.5 51.3,357.6 51.6,367.6 51.9,367.6 52.1,357.6 52.1,354.5 52.1,351.5 52.1,342.5 52.1,338.5 52.1,335.5 52.1,332.4 52.1,328.4 52.1,316.4 52.1,312.4 52.1,308.3 51.9,302.3ZM51.6,459.0 51.4,462.0 52.1,462.0 51.9,459.0Z" fill="#a8002e" stroke="none"/>
<path d="M51.6,302.3 51.2,308.3 51.1,312.4 50.5,316.4 47.8,328.4 47.2,332.4 47.2,335.5 47.4,338.5 48.1,342.5 50.4,351.5 51.0,354.5 51.3,357.6M51.6,459.0 51.4,462.0" fill="none" stroke="#111" stroke-width="0.8" stroke-linejoin="round"/>
<path d="M51.9,305.3 52.3,311.3 52.4,314.4 52.8,318.4 55.5,330.4 56.0,334.4 56.1,337.5 56.0,340.5 55.3,344.5 52.9,354.5 52.4,357.5 52.2,360.6 51.9,369.6 51.6,369.6 51.4,360.6 51.4,357.5 51.4,354.5 51.4,344.5 51.4,340.5 51.4,337.5 51.4,334.4 51.4,330.4 51.4,318.4 51.4,314.4 51.4,311.3 51.6,305.3ZM51.9,459.0 52.1,462.0 51.4,462.0 51.6,459.0Z" fill="#33664d" stroke="none"/>
<path d="M51.9,305.3 52.3,311.3 52.4,314.4 52.8,318.4 55.5,330.4 56.0,334.4 56.1,337.5 56.0,340.5 55.3,344.5 52.9,354.5 52.4,357.5 52.2,360.6M51.9,459.0 52.1,462.0" fill="none" stroke="#111" stroke-width="0.8" stroke-linejoin="round"/>
<line x1="62.50" y1="307.5" x2="62.50" y2="462.0" stroke="#858585" stroke-width="1"/>
<path d="M62.2,309.5 62.0,310.5 61.8,312.5 61.6,315.5 61.1,317.5 60.4,319.5 58.7,323.6 58.0,325.6 57.7,326.6 57.6,327.6 57.5,329.6 57.8,334.6 61.3,355.7 61.8,360.7 62.1,371.7 62.4,371.7 62.7,360.7 62.7,355.7 62.7,334.6 62.7,329.6 62.7,327.6 62.7,326.6 62.7,325.6 62.7,323.6 62.7,319.5 62.7,317.5 62.7,315.5 62.7,312.5 62.5,310.5 62.4,309.5ZM62.1,459.0 62.0,462.0 62.6,462.0 62.4,459.0Z" fill="#a8002e" stroke="none"/>
<path d="M62.0,310.5 61.8,312.5 61.6,315.5 61.1,317.5 60.4,319.5 58.7,323.6 58.0,325.6 57.7,326.6 57.6,327.6 57.5,329.6 57.8,334.6 61.3,355.7 61.8,360.7M62.1,459.0 62.0,462.0" fill="none" stroke="#111" stroke-width="0.8" stroke-linejoin="round"/>
<path d="M62.4,311.5 62.9,318.5 63.0,322.5 63.6,326.6 66.6,339.6 67.1,343.6 67.3,346.6 67.2,349.6 66.6,353.6 63.4,367.7 62.9,371.7 62.4,383.7 62.1,383.7 61.9,371.7 61.9,367.7 61.9,353.6 61.9,349.6 61.9,346.6 61.9,343.6 61.9,339.6 61.9,326.6 61.9,322.5 61.9,318.5 62.1,311.5ZM62.4,459.0 62.6,462.0 62.0,462.0 62.1,459.0Z" fill="#33664d" stroke="none"/>
<path d="M62.4,311.5 62.9,318.5 63.0,322.5 63.6,326.6 66.6,339.6 67.1,343.6 67.3,346.6 67.2,349.6 66.6,353.6 63.4,367.7 62.9,371.7M62.4,459.0 62.6,462.0" fill="none" stroke="#111" stroke-width="0.8" stroke-linejoin="round"/>
<line x1="72.50" y1="314.8" x2="72.50" y2="462.0" stroke="#858585" stroke-width="1"/>
<path d="M72.7,316.8 72.5,317.8 72.3,319.8 72.2,321.8 72.1,322.8 71.5,324.8 69.0,330.8 68.4,332.8 68.3,333.8 68.2,335.8 68.5,339.8 69.8,346.8 71.7,355.9 72.2,359.9 72.7,371.9 72.9,371.9 73.2,359.9 73.2,355.9 73.2,346.8 73.2,339.8 73.2,335.8 73.2,333.8 73.2,332.8 73.2,330.8 73.2,324.8 73.2,322.8 73.2,321.8 73.2,319.8 73.1,317.8 72.9,316.8ZM72.7,459.0 72.5,462.0 73.1,462.0 73.0,459.0Z" fill="#a8002e" stroke="none"/>
<path d="M72.5,317.8 72.3,319.8 72.2,321.8 72.1,322.8 71.5,324.8 69.0,330.8 68.4,332.8 68.3,333.8 68.2,335.8 68.5,339.8 69.8,346.8 71.7,355.9 72.2,359.9M72.7,459.0 72.5,462.0" fill="none" stroke="#111" stroke-width="0.8" stroke-linejoin="round"/>
<path d="M72.9,316.8 73.0,317.8 73.4,320.8 73.6,323.8 73.9,325.8 74.6,327.8 77.0,333.8 77.7,335.8 78.1,337.8 78.2,339.8 78.1,341.8 77.6,344.8 76.2,349.8 74.3,355.9 73.6,358.9 73.4,360.9 72.9,371.9 72.7,371.9 72.4,360.9 72.4,358.9 72.4,355.9 72.4,349.8 72.4,344.8 72.4,341.8 72.4,339.8 72.4,337.8 72.4,335.8 72.4,333.8 72.4,327.8 72.4,325.8 72.4,323.8 72.4,320.8 72.6,317.8 72.7,316.8ZM73.0,459.0 73.1,462.0 72.5,462.0 72.7,459.0Z" fill="#33664d" stroke="none"/>
<path d="M73.0,317.8 73.4,320.8 73.6,323.8 73.9,325.8 74.6,327.8 77.0,333.8 77.7,335.8 78.1,337.8 78.2,339.8 78.1,341.8 77.6,344.8 76.2,349.8 74.3,355.9 73.6,358.9 73.4,360.9M73.0,459.0 73.1,462.0" fill="none" stroke="#111" stroke-width="0.8" stroke-linejoin="round"/>
<line x1="83.50" y1="296.0" x2="83.50" y2="462.0" stroke="#858585" stroke-width="1"/>
<path d="M83.1,300.0 82.8,304.0 82.7,307.0 82.3,310.0 79.3,321.0 78.8,324.0 78.6,326.0 78.8,330.0 79.4,335.0 82.2,348.0 82.7,352.0 83.2,365.0 83.5,365.0 83.7,352.0 83.7,348.0 83.7,335.0 83.7,330.0 83.7,326.0 83.7,324.0 83.7,321.0 83.7,310.0 83.7,307.0 83.7,304.0 83.6,300.0ZM83.2,459.0 83.0,462.0 83.7,462.0 83.5,459.0Z" fill="#a8002e" stroke="none"/>
<path d="M83.1,300.0 82.8,304.0 82.7,307.0 82.3,310.0 79.3,321.0 78.8,324.0 78.6,326.0 78.8,330.0 79.4,335.0 82.2,348.0 82.7,352.0M83.2,459.0 83.0,462.0" fill="none" stroke="#111" stroke-width="0.8" stroke-linejoin="round"/>
<path d="M83.5,303.0 84.0,308.0 84.1,312.0 84.5,315.0 85.5,319.0 87.9,327.0 88.6,330.0 89.0,333.0 89.0,335.0 88.9,337.0 88.6,339.0 87.7,342.0 85.1,349.0 84.5,351.0 84.0,353.0 83.8,355.0 83.5,365.0 83.2,365.0 82.9,355.0 82.9,353.0 82.9,351.0 82.9,349.0 82.9,342.0 82.9,339.0 82.9,337.0 82.9,335.0 82.9,333.0 82.9,330.0 82.9,327.0 82.9,319.0 82.9,315.0 82.9,312.0 82.9,308.0 83.1,303.0ZM83.5,459.0 83.7,462.0 83.0,462.0 83.2,459.0Z" fill="#33664d" stroke="none"/>
<path d="M83.5,303.0 84.0,308.0 84.1,312.0 84.5,315.0 85.5,319.0 87.9,327.0 88.6,330.0 89.0,333.0 89.0,335.0 88.9,337.0 88.6,339.0 87.7,342.0 85.1,349.0 84.5,351.0 84.0,353.0 83.8,355.0M83.5,459.0 83.7,462.0" fill="none" stroke="#111" stroke-width="0.8" stroke-linejoin="round"/>
<line x1="93.50" y1="308.0" x2="93.50" y2="462.0" stroke="#858585" stroke-width="1"/>
<path d="M93.7,311.0 93.3,314.0 93.2,317.0 92.8,319.0 91.9,322.0 90.0,327.0 89.5,329.0 89.1,331.0 89.1,334.0 89.4,338.0 92.8,355.0 93.3,359.0 93.7,371.0 94.0,371.0 94.3,359.0 94.3,355.0 94.3,338.0 94.3,334.0 94.3,331.0 94.3,329.0 94.3,327.0 94.3,322.0 94.3,319.0 94.3,317.0 94.3,314.0 94.1,311.0ZM93.7,459.0 93.6,462.0 94.2,462.0 94.0,459.0Z" fill="#a8002e" stroke="none"/>
<path d="M93.7,311.0 93.3,314.0 93.2,317.0 92.8,319.0 91.9,322.0 90.0,327.0 89.5,329.0 89.1,331.0 89.1,334.0 89.4,338.0 92.8,355.0 93.3,359.0M93.7,459.0 93.6,462.0" fill="none" stroke="#111" stroke-width="0.8" stroke-linejoin="round"/>
<path d="M94.0,311.0 94.4,315.0 94.5,318.0 94.8,320.0 95.6,323.0 97.6,329.0 98.1,331.0 98.4,333.0 98.5,335.0 98.2,339.0 97.4,344.0 95.0,355.0 94.5,359.0 94.0,371.0 93.7,371.0 93.5,359.0 93.5,355.0 93.5,344.0 93.5,339.0 93.5,335.0 93.5,333.0 93.5,331.0 93.5,329.0 93.5,323.0 93.5,320.0 93.5,318.0 93.5,315.0 93.7,311.0ZM94.0,459.0 94.2,462.0 93.6,462.0 93.7,459.0Z" fill="#33664d" stroke="none"/>
<path d="M94.0,311.0 94.4,315.0 94.5,318.0 94.8,320.0 95.6,323.0 97.6,329.0 98.1,331.0 98.4,333.0 98.5,335.0 98.2,339.0 97.4,344.0 95.0,355.0 94.5,359.0M94.0,459.0 94.2,462.0" fill="none" stroke="#111" stroke-width="0.8" stroke-linejoin="round"/>
<line x1="104.50" y1="297.5" x2="104.50" y2="462.0" stroke="#858585" stroke-width="1"/>
<path d="M104.2,300.5 103.8,304.5 103.8,306.5 103.5,308.5 103.0,310.5 100.5,317.6 99.9,319.6 99.5,321.6 99.4,323.6 99.5,326.6 100.0,330.6 103.2,344.6 103.8,348.7 104.3,360.7 104.5,360.7 104.8,348.7 104.8,344.6 104.8,330.6 104.8,326.6 104.8,323.6 104.8,321.6 104.8,319.6 104.8,317.6 104.8,310.5 104.8,308.5 104.8,306.5 104.8,304.5 104.6,300.5ZM104.2,459.0 104.1,462.0 104.7,462.0 104.6,459.0Z" fill="#a8002e" stroke="none"/>
<path d="M104.2,300.5 103.8,304.5 103.8,306.5 103.5,308.5 103.0,310.5 100.5,317.6 99.9,319.6 99.5,321.6 99.4,323.6 99.5,326.6 100.0,330.6 103.2,344.6 103.8,348.7M104.2,459.0 104.1,462.0" fill="none" stroke="#111" stroke-width="0.8" stroke-linejoin="round"/>
<path d="M104.6,301.5 104.9,305.5 105.0,307.5 105.2,309.5 105.9,312.5 108.0,319.6 108.6,322.6 108.9,324.6 108.9,327.6 108.5,331.6 105.4,345.6 104.9,349.7 104.5,360.7 104.3,360.7 104.0,349.7 104.0,345.6 104.0,331.6 104.0,327.6 104.0,324.6 104.0,322.6 104.0,319.6 104.0,312.5 104.0,309.5 104.0,307.5 104.0,305.5 104.2,301.5ZM104.6,459.0 104.7,462.0 104.1,462.0 104.2,459.0Z" fill="#33664d" stroke="none"/>
<path d="M104.6,301.5 104.9,305.5 105.0,307.5 105.2,309.5 105.9,312.5 108.0,319.6 108.6,322.6 108.9,324.6 108.9,327.6 108.5,331.6 105.4,345.6 104.9,349.7M104.6,459.0 104.7,462.0" fill="none" stroke="#111" stroke-width="0.8" stroke-linejoin="round"/>
<line x1="114.50" y1="286.2" x2="114.50" y2="462.0" stroke="#858585" stroke-width="1"/>
<path d="M114.8,290.2 114.3,297.3 114.2,301.3 113.7,305.3 110.7,318.3 110.1,322.4 109.9,325.4 110.1,330.4 111.0,337.4 113.7,352.5 114.4,358.5 114.8,370.6 115.1,370.6 115.3,358.5 115.3,352.5 115.3,337.4 115.3,330.4 115.3,325.4 115.3,322.4 115.3,318.3 115.3,305.3 115.3,301.3 115.3,297.3 115.1,290.2ZM114.8,459.0 114.6,462.0 115.2,462.0 115.1,459.0Z" fill="#a8002e" stroke="none"/>
<path d="M114.8,290.2 114.3,297.3 114.2,301.3 113.7,305.3 110.7,318.3 110.1,322.4 109.9,325.4 110.1,330.4 111.0,337.4 113.7,352.5 114.4,358.5M114.8,459.0 114.6,462.0" fill="none" stroke="#111" stroke-width="0.8" stroke-linejoin="round"/>
<path d="M115.1,291.2 115.7,305.3 119.2,326.4 119.6,331.4 119.6,335.4 119.2,339.4 116.1,354.5 115.5,358.5 115.1,370.6 114.8,370.6 114.5,358.5 114.5,354.5 114.5,339.4 114.5,335.4 114.5,331.4 114.5,326.4 114.5,305.3 114.8,291.2ZM115.1,459.0 115.2,462.0 114.6,462.0 114.8,459.0Z" fill="#33664d" stroke="none"/>
<path d="M115.1,291.2 115.7,305.3 119.2,326.4 119.6,331.4 119.6,335.4 119.2,339.4 116.1,354.5 115.5,358.5M115.1,459.0 115.2,462.0" fill="none" stroke="#111" stroke-width="0.8" stroke-linejoin="round"/>
<line x1="125.50" y1="315.00" x2="125.50" y2="462.00" stroke="#7a7a7a" stroke-width="1.0"/>
<line x1="120.96" y1="461.50" x2="129.96" y2="461.50" stroke="#7a7a7a" stroke-width="1.0"/>
<line x1="135.50" y1="316.6" x2="135.50" y2="461.5" stroke="#858585" stroke-width="1"/>
<path d="M133.4,316.6 133.8,356.9 135.7,386.0 135.7,412.2 135.2,418.2 133.0,433.3 132.6,438.4 131.4,460.5 131.4,461.5 136.4,461.5 136.4,460.5 136.4,438.4 136.4,433.3 136.4,418.2 136.2,412.2 136.2,386.0 136.4,356.9 136.4,316.6Z" fill="#a8002e" stroke="none"/>
<path d="M133.4,316.6 133.8,356.9 135.7,386.0 135.7,412.2 135.2,418.2 133.0,433.3 132.6,438.4 131.4,460.5 131.4,461.5" fill="none" stroke="#111" stroke-width="0.8" stroke-linejoin="round"/>
<path d="M136.3,293.5 136.4,294.5 136.7,295.5 137.8,298.5 138.0,299.5 139.6,326.5 139.1,357.5 136.4,383.5 136.4,403.5 139.5,433.5 140.7,461.5 135.6,461.5 135.6,433.5 135.6,403.5 135.6,383.5 135.6,357.5 135.6,326.5 135.6,299.5 135.6,298.5 135.6,295.5 135.6,294.5 135.7,293.5Z" fill="#33664d" stroke="none"/>
<path d="M136.3,293.5 136.4,294.5 136.7,295.5 137.8,298.5 138.0,299.5 139.6,326.5 139.1,357.5 136.4,383.5 136.4,403.5 139.5,433.5 140.7,461.5" fill="none" stroke="#111" stroke-width="0.8" stroke-linejoin="round"/>
<line x1="131.39" y1="461.50" x2="140.69" y2="461.50" stroke="#111" stroke-width="0.7"/>
<line x1="146.50" y1="364.00" x2="146.50" y2="462.00" stroke="#7a7a7a" stroke-width="1.0"/>
<line x1="142.02" y1="461.50" x2="151.02" y2="461.50" stroke="#7a7a7a" stroke-width="1.0"/>
<line x1="51.75" y1="470.50" x2="51.75" y2="473.50" stroke="#111" stroke-width="1"/>
<text x="51.75" y="485.80" font-size="9.6" text-anchor="middle" fill="#1a1a1a" >0</text>
<line x1="62.28" y1="470.50" x2="62.28" y2="473.50" stroke="#111" stroke-width="1"/>
<text x="62.28" y="485.80" font-size="9.6" text-anchor="middle" fill="#1a1a1a" >1</text>
<line x1="72.81" y1="470.50" x2="72.81" y2="473.50" stroke="#111" stroke-width="1"/>
<text x="72.81" y="485.80" font-size="9.6" text-anchor="middle" fill="#1a1a1a" >2</text>
<line x1="83.34" y1="470.50" x2="83.34" y2="473.50" stroke="#111" stroke-width="1"/>
<text x="83.34" y="485.80" font-size="9.6" text-anchor="middle" fill="#1a1a1a" >3</text>
<line x1="93.87" y1="470.50" x2="93.87" y2="473.50" stroke="#111" stroke-width="1"/>
<text x="93.87" y="485.80" font-size="9.6" text-anchor="middle" fill="#1a1a1a" >4</text>
<line x1="104.40" y1="470.50" x2="104.40" y2="473.50" stroke="#111" stroke-width="1"/>
<text x="104.40" y="485.80" font-size="9.6" text-anchor="middle" fill="#1a1a1a" >5</text>
<line x1="114.93" y1="470.50" x2="114.93" y2="473.50" stroke="#111" stroke-width="1"/>
<text x="114.93" y="485.80" font-size="9.6" text-anchor="middle" fill="#1a1a1a" >6</text>
<line x1="125.46" y1="470.50" x2="125.46" y2="473.50" stroke="#111" stroke-width="1"/>
<text x="125.46" y="485.80" font-size="9.6" text-anchor="middle" fill="#1a1a1a" >7</text>
<line x1="135.99" y1="470.50" x2="135.99" y2="473.50" stroke="#111" stroke-width="1"/>
<text x="135.99" y="485.80" font-size="9.6" text-anchor="middle" fill="#1a1a1a" >8</text>
<line x1="146.52" y1="470.50" x2="146.52" y2="473.50" stroke="#111" stroke-width="1"/>
<text x="146.52" y="485.80" font-size="9.6" text-anchor="middle" fill="#1a1a1a" >9</text>
<text x="99.00" y="500.60" font-size="10.5" text-anchor="middle" fill="#1a1a1a" textLength="29.8" lengthAdjust="spacingAndGlyphs" >Clusters</text>
<text x="26.40" y="375.00" font-size="10" text-anchor="middle" fill="#1a1a1a" textLength="63" lengthAdjust="spacingAndGlyphs" transform="rotate(-90 26.40 375.00)" >Expression level</text>
<line x1="191.50" y1="277.00" x2="191.50" y2="471.00" stroke="#111" stroke-width="1"/>
<line x1="191.00" y1="470.50" x2="298.40" y2="470.50" stroke="#111" stroke-width="1"/>
<line x1="188.00" y1="461.50" x2="191.50" y2="461.50" stroke="#111" stroke-width="1"/>
<text x="185.20" y="464.70" font-size="9.6" text-anchor="end" fill="#1a1a1a" >0</text>
<line x1="188.00" y1="425.40" x2="191.50" y2="425.40" stroke="#111" stroke-width="1"/>
<text x="185.20" y="428.60" font-size="9.6" text-anchor="end" fill="#1a1a1a" >1</text>
<line x1="188.00" y1="389.30" x2="191.50" y2="389.30" stroke="#111" stroke-width="1"/>
<text x="185.20" y="392.50" font-size="9.6" text-anchor="end" fill="#1a1a1a" >2</text>
<line x1="188.00" y1="353.10" x2="191.50" y2="353.10" stroke="#111" stroke-width="1"/>
<text x="185.20" y="356.30" font-size="9.6" text-anchor="end" fill="#1a1a1a" >3</text>
<line x1="188.00" y1="316.90" x2="191.50" y2="316.90" stroke="#111" stroke-width="1"/>
<text x="185.20" y="320.10" font-size="9.6" text-anchor="end" fill="#1a1a1a" >4</text>
<line x1="188.00" y1="280.80" x2="191.50" y2="280.80" stroke="#111" stroke-width="1"/>
<text x="185.20" y="284.00" font-size="9.6" text-anchor="end" fill="#1a1a1a" >5</text>
<text x="244.80" y="270.70" font-size="10.8" text-anchor="middle" fill="#1a1a1a" >Cd4</text>
<line x1="197.50" y1="338.50" x2="197.50" y2="461.50" stroke="#666" stroke-width="1.0"/>
<line x1="193.30" y1="461.50" x2="202.30" y2="461.50" stroke="#7a7a7a" stroke-width="1.0"/>
<line x1="197.50" y1="443.0" x2="197.50" y2="461.5" stroke="#858585" stroke-width="1"/>
<path d="M198.0,445.1 198.5,448.1 198.6,450.2 198.7,451.2 199.0,452.2 200.4,455.3 200.8,456.4 201.0,457.4 201.0,458.4 201.4,459.4 202.0,460.5 202.2,461.5 197.4,461.5 197.4,460.5 197.4,459.4 197.4,458.4 197.4,457.4 197.4,456.4 197.4,455.3 197.4,452.2 197.4,451.2 197.4,450.2 197.4,448.1 197.6,445.1Z" fill="#33664d" stroke="none"/>
<path d="M198.0,445.1 198.5,448.1 198.6,450.2 198.7,451.2 199.0,452.2 200.4,455.3 200.8,456.4 201.0,457.4 201.0,458.4 201.4,459.4 202.0,460.5 202.2,461.5" fill="none" stroke="#111" stroke-width="0.8" stroke-linejoin="round"/>
<line x1="208.50" y1="337.70" x2="208.50" y2="461.50" stroke="#7a7a7a" stroke-width="1.0"/>
<line x1="203.83" y1="461.50" x2="212.83" y2="461.50" stroke="#7a7a7a" stroke-width="1.0"/>
<line x1="218.50" y1="333.00" x2="218.50" y2="461.50" stroke="#7a7a7a" stroke-width="1.0"/>
<line x1="214.36" y1="461.50" x2="223.36" y2="461.50" stroke="#7a7a7a" stroke-width="1.0"/>
<line x1="218.50" y1="333.0" x2="218.50" y2="461.5" stroke="#858585" stroke-width="1"/>
<path d="M218.7,333.0 218.6,373.2 218.6,413.3 218.7,428.4 219.0,428.4 219.2,413.3 219.2,373.2 219.0,333.0Z" fill="#a8002e" stroke="none"/>
<path d="M218.7,333.0 218.6,373.2 218.6,413.3" fill="none" stroke="#111" stroke-width="0.8" stroke-linejoin="round"/>
<path d="M219.0,432.0 219.4,435.1 219.6,438.1 220.0,441.2 222.0,450.3 222.4,453.4 222.6,456.4 223.2,460.5 223.3,461.5 218.5,461.5 218.5,460.5 218.5,456.4 218.5,453.4 218.5,450.3 218.5,441.2 218.5,438.1 218.5,435.1 218.7,432.0Z" fill="#33664d" stroke="none"/>
<path d="M219.0,432.0 219.4,435.1 219.6,438.1 220.0,441.2 222.0,450.3 222.4,453.4 222.6,456.4 223.2,460.5 223.3,461.5" fill="none" stroke="#111" stroke-width="0.8" stroke-linejoin="round"/>
<line x1="229.50" y1="307.0" x2="229.50" y2="461.5" stroke="#858585" stroke-width="1"/>
<path d="M229.3,308.0 229.2,309.0 228.6,312.0 228.4,313.0 228.1,321.0 225.9,339.1 225.7,346.1 227.6,375.2 227.9,385.3 229.2,401.3 229.2,405.3 229.2,429.4 229.2,430.4 228.7,433.4 226.4,442.4 225.9,445.4 225.6,451.5 224.6,458.5 224.5,461.5 229.8,461.5 229.8,458.5 229.8,451.5 229.8,445.4 229.8,442.4 229.8,433.4 229.6,430.4 229.5,429.4 229.5,405.3 229.6,401.3 229.8,385.3 229.8,375.2 229.8,346.1 229.8,339.1 229.8,321.0 229.8,313.0 229.8,312.0 229.6,309.0 229.4,308.0Z" fill="#a8002e" stroke="none"/>
<path d="M229.2,309.0 228.6,312.0 228.4,313.0 228.1,321.0 225.9,339.1 225.7,346.1 227.6,375.2 227.9,385.3 229.2,401.3M229.2,430.4 228.7,433.4 226.4,442.4 225.9,445.4 225.6,451.5 224.6,458.5 224.5,461.5" fill="none" stroke="#111" stroke-width="0.8" stroke-linejoin="round"/>
<path d="M229.6,312.0 230.1,318.0 230.6,329.1 233.2,352.1 233.5,360.2 233.1,367.2 231.1,384.2 230.8,392.3 229.5,402.3 229.3,402.3 229.0,392.3 229.0,384.2 229.0,367.2 229.0,360.2 229.0,352.1 229.0,329.1 229.0,318.0 229.2,312.0Z" fill="#33664d" stroke="none"/>
<path d="M229.6,312.0 230.1,318.0 230.6,329.1 233.2,352.1 233.5,360.2 233.1,367.2 231.1,384.2 230.8,392.3" fill="none" stroke="#111" stroke-width="0.8" stroke-linejoin="round"/>
<path d="M229.5,442.0 229.6,443.1 230.3,448.2 230.5,452.3 231.5,459.5 231.6,461.5 229.0,461.5 229.0,459.5 229.0,452.3 229.0,448.2 229.2,443.1 229.3,442.0Z" fill="#a8002e" stroke="none"/>
<path d="M229.6,443.1 230.3,448.2 230.5,452.3 231.5,459.5 231.6,461.5" fill="none" stroke="#111" stroke-width="0.8" stroke-linejoin="round"/>
<line x1="239.50" y1="301.5" x2="239.50" y2="461.5" stroke="#858585" stroke-width="1"/>
<path d="M239.8,304.5 239.7,305.5 238.8,312.5 238.5,319.5 235.6,338.5 235.2,343.5 235.4,350.5 238.2,373.5 239.8,406.5 239.8,407.5 239.8,446.5 239.7,447.5 238.7,453.5 238.5,456.5 238.1,460.5 238.0,461.5 240.3,461.5 240.3,460.5 240.3,456.5 240.3,453.5 240.1,447.5 240.0,446.5 240.1,407.5 240.1,406.5 240.3,373.5 240.3,350.5 240.3,343.5 240.3,338.5 240.3,319.5 240.3,312.5 240.2,305.5 240.1,304.5Z" fill="#a8002e" stroke="none"/>
<path d="M239.7,305.5 238.8,312.5 238.5,319.5 235.6,338.5 235.2,343.5 235.4,350.5 238.2,373.5 239.8,406.5M239.7,447.5 238.7,453.5 238.5,456.5 238.1,460.5 238.0,461.5" fill="none" stroke="#111" stroke-width="0.8" stroke-linejoin="round"/>
<path d="M240.1,310.0 241.0,317.0 241.3,324.1 244.3,343.1 244.6,348.1 244.4,355.2 241.7,378.2 241.1,392.3 240.1,404.3 240.1,407.3 240.0,433.4 240.1,434.4 241.6,446.5 242.4,460.5 242.4,461.5 239.5,461.5 239.5,460.5 239.5,446.5 239.7,434.4 239.8,433.4 239.8,407.3 239.7,404.3 239.5,392.3 239.5,378.2 239.5,355.2 239.5,348.1 239.5,343.1 239.5,324.1 239.5,317.0 239.7,310.0Z" fill="#33664d" stroke="none"/>
<path d="M240.1,310.0 241.0,317.0 241.3,324.1 244.3,343.1 244.6,348.1 244.4,355.2 241.7,378.2 241.1,392.3 240.1,404.3M240.1,434.4 241.6,446.5 242.4,460.5 242.4,461.5" fill="none" stroke="#111" stroke-width="0.8" stroke-linejoin="round"/>
<line x1="250.50" y1="335.10" x2="250.50" y2="461.50" stroke="#7a7a7a" stroke-width="1.0"/>
<line x1="245.95" y1="461.50" x2="254.95" y2="461.50" stroke="#7a7a7a" stroke-width="1.0"/>
<line x1="260.50" y1="316.00" x2="260.50" y2="461.50" stroke="#7a7a7a" stroke-width="1.0"/>
<line x1="256.48" y1="461.50" x2="265.48" y2="461.50" stroke="#7a7a7a" stroke-width="1.0"/>
<line x1="271.50" y1="312.50" x2="271.50" y2="461.50" stroke="#7a7a7a" stroke-width="1.0"/>
<line x1="267.01" y1="461.50" x2="276.01" y2="461.50" stroke="#7a7a7a" stroke-width="1.0"/>
<line x1="282.50" y1="285.70" x2="282.50" y2="461.50" stroke="#9a9a9a" stroke-width="1.0"/>
<line x1="277.54" y1="461.50" x2="286.54" y2="461.50" stroke="#7a7a7a" stroke-width="1.0"/>
<line x1="292.50" y1="390.00" x2="292.50" y2="461.50" stroke="#7a7a7a" stroke-width="1.0"/>
<line x1="288.07" y1="461.50" x2="297.07" y2="461.50" stroke="#7a7a7a" stroke-width="1.0"/>
<line x1="203.83" y1="461.50" x2="212.83" y2="461.50" stroke="#7a7a7a" stroke-width="1.0"/>
<line x1="197.80" y1="470.50" x2="197.80" y2="473.50" stroke="#111" stroke-width="1"/>
<text x="197.80" y="485.80" font-size="9.6" text-anchor="middle" fill="#1a1a1a" >0</text>
<line x1="208.33" y1="470.50" x2="208.33" y2="473.50" stroke="#111" stroke-width="1"/>
<text x="208.33" y="485.80" font-size="9.6" text-anchor="middle" fill="#1a1a1a" >1</text>
<line x1="218.86" y1="470.50" x2="218.86" y2="473.50" stroke="#111" stroke-width="1"/>
<text x="218.86" y="485.80" font-size="9.6" text-anchor="middle" fill="#1a1a1a" >2</text>
<line x1="229.39" y1="470.50" x2="229.39" y2="473.50" stroke="#111" stroke-width="1"/>
<text x="229.39" y="485.80" font-size="9.6" text-anchor="middle" fill="#1a1a1a" >3</text>
<line x1="239.92" y1="470.50" x2="239.92" y2="473.50" stroke="#111" stroke-width="1"/>
<text x="239.92" y="485.80" font-size="9.6" text-anchor="middle" fill="#1a1a1a" >4</text>
<line x1="250.45" y1="470.50" x2="250.45" y2="473.50" stroke="#111" stroke-width="1"/>
<text x="250.45" y="485.80" font-size="9.6" text-anchor="middle" fill="#1a1a1a" >5</text>
<line x1="260.98" y1="470.50" x2="260.98" y2="473.50" stroke="#111" stroke-width="1"/>
<text x="260.98" y="485.80" font-size="9.6" text-anchor="middle" fill="#1a1a1a" >6</text>
<line x1="271.51" y1="470.50" x2="271.51" y2="473.50" stroke="#111" stroke-width="1"/>
<text x="271.51" y="485.80" font-size="9.6" text-anchor="middle" fill="#1a1a1a" >7</text>
<line x1="282.04" y1="470.50" x2="282.04" y2="473.50" stroke="#111" stroke-width="1"/>
<text x="282.04" y="485.80" font-size="9.6" text-anchor="middle" fill="#1a1a1a" >8</text>
<line x1="292.57" y1="470.50" x2="292.57" y2="473.50" stroke="#111" stroke-width="1"/>
<text x="292.57" y="485.80" font-size="9.6" text-anchor="middle" fill="#1a1a1a" >9</text>
<text x="244.80" y="500.60" font-size="10.5" text-anchor="middle" fill="#1a1a1a" textLength="29.8" lengthAdjust="spacingAndGlyphs" >Clusters</text>
<text x="172.60" y="375.00" font-size="10" text-anchor="middle" fill="#1a1a1a" textLength="63" lengthAdjust="spacingAndGlyphs" transform="rotate(-90 172.60 375.00)" >Expression level</text>
<line x1="337.30" y1="277.30" x2="337.30" y2="471.00" stroke="#111" stroke-width="1"/>
<line x1="336.80" y1="470.50" x2="443.60" y2="470.50" stroke="#111" stroke-width="1"/>
<line x1="333.80" y1="462.00" x2="337.30" y2="462.00" stroke="#111" stroke-width="1"/>
<text x="331.00" y="465.20" font-size="9.6" text-anchor="end" fill="#1a1a1a" >0</text>
<line x1="333.80" y1="426.20" x2="337.30" y2="426.20" stroke="#111" stroke-width="1"/>
<text x="331.00" y="429.40" font-size="9.6" text-anchor="end" fill="#1a1a1a" >1</text>
<line x1="333.80" y1="390.30" x2="337.30" y2="390.30" stroke="#111" stroke-width="1"/>
<text x="331.00" y="393.50" font-size="9.6" text-anchor="end" fill="#1a1a1a" >2</text>
<line x1="333.80" y1="354.50" x2="337.30" y2="354.50" stroke="#111" stroke-width="1"/>
<text x="331.00" y="357.70" font-size="9.6" text-anchor="end" fill="#1a1a1a" >3</text>
<line x1="333.80" y1="318.60" x2="337.30" y2="318.60" stroke="#111" stroke-width="1"/>
<text x="331.00" y="321.80" font-size="9.6" text-anchor="end" fill="#1a1a1a" >4</text>
<line x1="333.80" y1="282.70" x2="337.30" y2="282.70" stroke="#111" stroke-width="1"/>
<text x="331.00" y="285.90" font-size="9.6" text-anchor="end" fill="#1a1a1a" >5</text>
<text x="390.80" y="270.70" font-size="10.8" text-anchor="middle" fill="#1a1a1a" >Cd8a</text>
<line x1="343.50" y1="310.7" x2="343.50" y2="461.8" stroke="#858585" stroke-width="1"/>
<path d="M342.9,310.7 342.7,312.7 342.3,315.7 342.0,322.7 340.0,338.7 340.1,360.7 342.7,400.8 343.1,438.8 342.9,441.8 342.1,446.8 340.2,455.8 339.8,459.8 339.7,461.8 343.7,461.8 343.7,459.8 343.7,455.8 343.7,446.8 343.7,441.8 343.5,438.8 343.7,400.8 343.7,360.7 343.7,338.7 343.7,322.7 343.7,315.7 343.7,312.7 343.7,310.7Z" fill="#a8002e" stroke="none"/>
<path d="M342.9,310.7 342.7,312.7 342.3,315.7 342.0,322.7 340.0,338.7 340.1,360.7 342.7,400.8 343.1,438.8 342.9,441.8 342.1,446.8 340.2,455.8 339.8,459.8 339.7,461.8" fill="none" stroke="#111" stroke-width="0.8" stroke-linejoin="round"/>
<path d="M343.7,321.9 343.8,322.9 344.4,326.9 344.6,331.0 345.3,336.0 347.1,345.0 347.5,349.1 346.9,370.2 343.6,410.5 343.5,438.7 344.0,442.7 346.7,455.8 347.1,458.8 347.2,461.8 342.9,461.8 342.9,458.8 342.9,455.8 342.9,442.7 343.1,438.7 343.0,410.5 342.9,370.2 342.9,349.1 342.9,345.0 342.9,336.0 342.9,331.0 342.9,326.9 342.9,322.9 342.9,321.9Z" fill="#33664d" stroke="none"/>
<path d="M343.7,321.9 343.8,322.9 344.4,326.9 344.6,331.0 345.3,336.0 347.1,345.0 347.5,349.1 346.9,370.2 343.6,410.5 343.5,438.7 344.0,442.7 346.7,455.8 347.1,458.8 347.2,461.8" fill="none" stroke="#111" stroke-width="0.8" stroke-linejoin="round"/>
<line x1="353.50" y1="303.7" x2="353.50" y2="461.8" stroke="#858585" stroke-width="1"/>
<path d="M353.4,303.7 353.2,305.7 352.8,308.7 352.4,318.7 350.2,339.7 350.4,361.7 353.2,401.8 353.6,438.8 353.3,442.8 350.9,455.8 350.5,459.8 350.4,461.8 354.2,461.8 354.2,459.8 354.2,455.8 354.2,442.8 354.0,438.8 354.2,401.8 354.2,361.7 354.2,339.7 354.2,318.7 354.2,308.7 354.2,305.7 354.2,303.7Z" fill="#a8002e" stroke="none"/>
<path d="M353.4,303.7 353.2,305.7 352.8,308.7 352.4,318.7 350.2,339.7 350.4,361.7 353.2,401.8 353.6,438.8 353.3,442.8 350.9,455.8 350.5,459.8 350.4,461.8" fill="none" stroke="#111" stroke-width="0.8" stroke-linejoin="round"/>
<path d="M354.2,327.0 354.3,328.0 354.9,332.0 355.1,335.0 355.5,338.1 357.6,347.1 358.0,350.1 357.4,370.3 354.1,410.5 354.0,438.7 354.4,442.7 357.1,455.8 357.5,459.8 357.6,461.8 353.4,461.8 353.4,459.8 353.4,455.8 353.4,442.7 353.6,438.7 353.5,410.5 353.4,370.3 353.4,350.1 353.4,347.1 353.4,338.1 353.4,335.0 353.4,332.0 353.4,328.0 353.4,327.0Z" fill="#33664d" stroke="none"/>
<path d="M354.2,327.0 354.3,328.0 354.9,332.0 355.1,335.0 355.5,338.1 357.6,347.1 358.0,350.1 357.4,370.3 354.1,410.5 354.0,438.7 354.4,442.7 357.1,455.8 357.5,459.8 357.6,461.8" fill="none" stroke="#111" stroke-width="0.8" stroke-linejoin="round"/>
<line x1="364.50" y1="308.4" x2="364.50" y2="461.8" stroke="#858585" stroke-width="1"/>
<path d="M363.9,308.4 363.7,310.4 363.3,313.4 363.0,320.4 360.6,339.5 360.3,345.5 362.4,385.6 364.1,415.7 364.1,438.7 363.7,442.8 361.2,455.8 360.8,459.8 360.7,461.8 364.7,461.8 364.7,459.8 364.7,455.8 364.7,442.8 364.5,438.7 364.5,415.7 364.7,385.6 364.7,345.5 364.7,339.5 364.7,320.4 364.7,313.4 364.7,310.4 364.7,308.4Z" fill="#a8002e" stroke="none"/>
<path d="M363.9,308.4 363.7,310.4 363.3,313.4 363.0,320.4 360.6,339.5 360.3,345.5 362.4,385.6 364.1,415.7 364.1,438.7 363.7,442.8 361.2,455.8 360.8,459.8 360.7,461.8" fill="none" stroke="#111" stroke-width="0.8" stroke-linejoin="round"/>
<path d="M364.7,327.0 364.8,328.0 365.4,332.0 365.7,337.1 368.1,353.2 368.4,357.2 367.2,381.3 364.7,412.5 364.5,437.7 364.9,441.7 367.6,455.8 368.0,459.8 368.1,461.8 363.9,461.8 363.9,459.8 363.9,455.8 363.9,441.7 364.1,437.7 363.9,412.5 363.9,381.3 363.9,357.2 363.9,353.2 363.9,337.1 363.9,332.0 363.9,328.0 363.9,327.0Z" fill="#33664d" stroke="none"/>
<path d="M364.7,327.0 364.8,328.0 365.4,332.0 365.7,337.1 368.1,353.2 368.4,357.2 367.2,381.3 364.7,412.5 364.5,437.7 364.9,441.7 367.6,455.8 368.0,459.8 368.1,461.8" fill="none" stroke="#111" stroke-width="0.8" stroke-linejoin="round"/>
<line x1="395.50" y1="296.3" x2="395.50" y2="461.8" stroke="#858585" stroke-width="1"/>
<path d="M395.4,296.3 395.2,298.3 394.8,301.3 394.3,313.4 392.0,335.4 391.9,350.5 395.0,390.6 395.6,430.7 395.6,446.8 395.4,448.8 393.6,457.8 393.4,459.8 393.3,461.8 396.2,461.8 396.2,459.8 396.2,457.8 396.2,448.8 396.0,446.8 396.0,430.7 396.2,390.6 396.2,350.5 396.2,335.4 396.2,313.4 396.2,301.3 396.2,298.3 396.2,296.3Z" fill="#a8002e" stroke="none"/>
<path d="M395.4,296.3 395.2,298.3 394.8,301.3 394.3,313.4 392.0,335.4 391.9,350.5 395.0,390.6 395.6,430.7 395.6,446.8 395.4,448.8 393.6,457.8 393.4,459.8 393.3,461.8" fill="none" stroke="#111" stroke-width="0.8" stroke-linejoin="round"/>
<path d="M396.2,321.9 396.3,322.9 396.9,326.9 397.2,331.0 397.8,335.0 400.1,345.0 400.6,348.1 400.6,357.1 396.5,397.4 396.0,437.6 396.1,445.7 396.4,448.7 398.1,457.8 398.4,460.8 398.4,461.8 395.4,461.8 395.4,460.8 395.4,457.8 395.4,448.7 395.5,445.7 395.6,437.6 395.4,397.4 395.4,357.1 395.4,348.1 395.4,345.0 395.4,335.0 395.4,331.0 395.4,326.9 395.4,322.9 395.4,321.9Z" fill="#33664d" stroke="none"/>
<path d="M396.2,321.9 396.3,322.9 396.9,326.9 397.2,331.0 397.8,335.0 400.1,345.0 400.6,348.1 400.6,357.1 396.5,397.4 396.0,437.6 396.1,445.7 396.4,448.7 398.1,457.8 398.4,460.8 398.4,461.8" fill="none" stroke="#111" stroke-width="0.8" stroke-linejoin="round"/>
<line x1="406.50" y1="308.4" x2="406.50" y2="461.8" stroke="#858585" stroke-width="1"/>
<path d="M405.9,308.4 405.7,310.4 405.3,313.4 405.1,319.4 403.1,335.5 404.5,375.6 406.1,409.7 406.1,449.8 405.9,452.8 405.0,459.8 404.9,461.8 406.7,461.8 406.7,459.8 406.7,452.8 406.5,449.8 406.5,409.7 406.7,375.6 406.7,335.5 406.7,319.4 406.7,313.4 406.7,310.4 406.7,308.4Z" fill="#a8002e" stroke="none"/>
<path d="M405.9,308.4 405.7,310.4 405.3,313.4 405.1,319.4 403.1,335.5 404.5,375.6 406.1,409.7 406.1,449.8 405.9,452.8 405.0,459.8 404.9,461.8" fill="none" stroke="#111" stroke-width="0.8" stroke-linejoin="round"/>
<path d="M406.7,312.4 406.8,313.4 407.4,317.4 407.8,324.4 411.1,346.5 411.5,352.5 411.0,366.5 406.9,403.6 406.5,443.8 406.6,446.8 406.9,449.8 408.6,457.8 408.9,460.8 408.9,461.8 405.9,461.8 405.9,460.8 405.9,457.8 405.9,449.8 406.0,446.8 406.1,443.8 405.9,403.6 405.9,366.5 405.9,352.5 405.9,346.5 405.9,324.4 405.9,317.4 405.9,313.4 405.9,312.4Z" fill="#33664d" stroke="none"/>
<path d="M406.7,312.4 406.8,313.4 407.4,317.4 407.8,324.4 411.1,346.5 411.5,352.5 411.0,366.5 406.9,403.6 406.5,443.8 406.6,446.8 406.9,449.8 408.6,457.8 408.9,460.8 408.9,461.8" fill="none" stroke="#111" stroke-width="0.8" stroke-linejoin="round"/>
<line x1="374.50" y1="285.6" x2="374.50" y2="461.8" stroke="#858585" stroke-width="1"/>
<path d="M374.5,285.6 374.3,325.6 374.3,365.7 374.4,405.7 374.4,427.8 373.7,433.8 372.6,441.8 372.2,448.8 370.6,457.8 370.3,460.8 370.3,461.8 375.2,461.8 375.2,460.8 375.2,457.8 375.2,448.8 375.2,441.8 375.2,433.8 375.2,427.8 375.2,405.7 375.2,365.7 375.2,325.6 375.1,285.6Z" fill="#a8002e" stroke="none"/>
<path d="M374.5,285.6 374.3,325.6 374.3,365.7 374.4,405.7 374.4,427.8 373.7,433.8 372.6,441.8 372.2,448.8 370.6,457.8 370.3,460.8 370.3,461.8" fill="none" stroke="#111" stroke-width="0.8" stroke-linejoin="round"/>
<line x1="385.50" y1="306.70" x2="385.50" y2="461.80" stroke="#7a7a7a" stroke-width="1.0"/>
<line x1="380.80" y1="461.50" x2="389.80" y2="461.50" stroke="#7a7a7a" stroke-width="1.0"/>
<line x1="416.50" y1="326.60" x2="416.50" y2="461.80" stroke="#7a7a7a" stroke-width="1.0"/>
<line x1="412.30" y1="461.50" x2="421.30" y2="461.50" stroke="#7a7a7a" stroke-width="1.0"/>
<line x1="427.50" y1="302.40" x2="427.50" y2="461.80" stroke="#9a9a9a" stroke-width="1.0"/>
<line x1="422.80" y1="461.50" x2="431.80" y2="461.50" stroke="#7a7a7a" stroke-width="1.0"/>
<line x1="433.30" y1="461.50" x2="442.30" y2="461.50" stroke="#7a7a7a" stroke-width="1.0"/>
<line x1="374.80" y1="461.50" x2="379.80" y2="461.50" stroke="#7a7a7a" stroke-width="1.0"/>
<line x1="343.30" y1="470.50" x2="343.30" y2="473.50" stroke="#111" stroke-width="1"/>
<text x="343.30" y="485.80" font-size="9.6" text-anchor="middle" fill="#1a1a1a" >0</text>
<line x1="353.80" y1="470.50" x2="353.80" y2="473.50" stroke="#111" stroke-width="1"/>
<text x="353.80" y="485.80" font-size="9.6" text-anchor="middle" fill="#1a1a1a" >1</text>
<line x1="364.30" y1="470.50" x2="364.30" y2="473.50" stroke="#111" stroke-width="1"/>
<text x="364.30" y="485.80" font-size="9.6" text-anchor="middle" fill="#1a1a1a" >2</text>
<line x1="374.80" y1="470.50" x2="374.80" y2="473.50" stroke="#111" stroke-width="1"/>
<text x="374.80" y="485.80" font-size="9.6" text-anchor="middle" fill="#1a1a1a" >3</text>
<line x1="385.30" y1="470.50" x2="385.30" y2="473.50" stroke="#111" stroke-width="1"/>
<text x="385.30" y="485.80" font-size="9.6" text-anchor="middle" fill="#1a1a1a" >4</text>
<line x1="395.80" y1="470.50" x2="395.80" y2="473.50" stroke="#111" stroke-width="1"/>
<text x="395.80" y="485.80" font-size="9.6" text-anchor="middle" fill="#1a1a1a" >5</text>
<line x1="406.30" y1="470.50" x2="406.30" y2="473.50" stroke="#111" stroke-width="1"/>
<text x="406.30" y="485.80" font-size="9.6" text-anchor="middle" fill="#1a1a1a" >6</text>
<line x1="416.80" y1="470.50" x2="416.80" y2="473.50" stroke="#111" stroke-width="1"/>
<text x="416.80" y="485.80" font-size="9.6" text-anchor="middle" fill="#1a1a1a" >7</text>
<line x1="427.30" y1="470.50" x2="427.30" y2="473.50" stroke="#111" stroke-width="1"/>
<text x="427.30" y="485.80" font-size="9.6" text-anchor="middle" fill="#1a1a1a" >8</text>
<line x1="437.80" y1="470.50" x2="437.80" y2="473.50" stroke="#111" stroke-width="1"/>
<text x="437.80" y="485.80" font-size="9.6" text-anchor="middle" fill="#1a1a1a" >9</text>
<text x="391.10" y="500.60" font-size="10.5" text-anchor="middle" fill="#1a1a1a" textLength="29.8" lengthAdjust="spacingAndGlyphs" >Clusters</text>
<text x="318.60" y="375.00" font-size="10" text-anchor="middle" fill="#1a1a1a" textLength="63" lengthAdjust="spacingAndGlyphs" transform="rotate(-90 318.60 375.00)" >Expression level</text>
<rect x="445.20" y="273.50" width="11.10" height="11.10" fill="#a8002e" />
<rect x="445.20" y="297.60" width="11.10" height="10.90" fill="#33664d" />
<text x="460.30" y="282.00" font-size="8.5" text-anchor="start" fill="#1a1a1a" textLength="51" lengthAdjust="spacingAndGlyphs" >anti-IL-2 mAb</text>
<text x="460.30" y="292.00" font-size="8.5" text-anchor="start" fill="#1a1a1a" textLength="47" lengthAdjust="spacingAndGlyphs" >(JES6-1A12)</text>
<text x="460.30" y="305.30" font-size="8.5" text-anchor="start" fill="#1a1a1a" textLength="39.7" lengthAdjust="spacingAndGlyphs" >Tacrolimus</text>
<text x="8.20" y="525.00" font-size="13" text-anchor="start" fill="#000" font-weight="bold" >C</text>
<line x1="45.40" y1="540.00" x2="45.40" y2="721.80" stroke="#111" stroke-width="1"/>
<line x1="44.90" y1="721.30" x2="206.80" y2="721.30" stroke="#111" stroke-width="1"/>
<line x1="41.90" y1="713.00" x2="45.40" y2="713.00" stroke="#111" stroke-width="1"/>
<text x="39.20" y="716.20" font-size="9.6" text-anchor="end" fill="#1a1a1a" >0</text>
<line x1="41.90" y1="680.50" x2="45.40" y2="680.50" stroke="#111" stroke-width="1"/>
<text x="39.20" y="683.70" font-size="9.6" text-anchor="end" fill="#1a1a1a" >1</text>
<line x1="41.90" y1="648.00" x2="45.40" y2="648.00" stroke="#111" stroke-width="1"/>
<text x="39.20" y="651.20" font-size="9.6" text-anchor="end" fill="#1a1a1a" >2</text>
<line x1="41.90" y1="615.50" x2="45.40" y2="615.50" stroke="#111" stroke-width="1"/>
<text x="39.20" y="618.70" font-size="9.6" text-anchor="end" fill="#1a1a1a" >3</text>
<line x1="41.90" y1="583.00" x2="45.40" y2="583.00" stroke="#111" stroke-width="1"/>
<text x="39.20" y="586.20" font-size="9.6" text-anchor="end" fill="#1a1a1a" >4</text>
<line x1="41.90" y1="550.50" x2="45.40" y2="550.50" stroke="#111" stroke-width="1"/>
<text x="39.20" y="553.70" font-size="9.6" text-anchor="end" fill="#1a1a1a" >5</text>
<text x="125.70" y="533.50" font-size="10.6" text-anchor="middle" fill="#1a1a1a" >Tcf7</text>
<line x1="54.50" y1="582.90" x2="54.50" y2="713.00" stroke="#7a7a7a" stroke-width="1.0"/>
<line x1="48.00" y1="712.50" x2="62.00" y2="712.50" stroke="#7a7a7a" stroke-width="1.0"/>
<line x1="70.50" y1="578.7" x2="70.50" y2="713.0" stroke="#858585" stroke-width="1"/>
<path d="M70.0,578.7 70.3,618.8 70.3,658.9 70.1,684.9 69.9,686.9 69.5,688.9 67.6,696.0 67.2,698.0 67.0,701.0 66.9,702.0 66.6,703.0 65.8,705.0 64.0,709.0 63.7,710.0 63.4,711.0 63.3,712.0 63.2,713.0 71.0,713.0 71.0,712.0 71.0,711.0 71.0,710.0 71.0,709.0 71.0,705.0 71.0,703.0 71.0,702.0 71.0,701.0 71.0,698.0 71.0,696.0 71.0,688.9 71.0,686.9 71.0,684.9 70.9,658.9 70.9,618.8 71.0,578.7Z" fill="#a8002e" stroke="none"/>
<path d="M70.0,578.7 70.3,618.8 70.3,658.9 70.1,684.9 69.9,686.9 69.5,688.9 67.6,696.0 67.2,698.0 67.0,701.0 66.9,702.0 66.6,703.0 65.8,705.0 64.0,709.0 63.7,710.0 63.4,711.0 63.3,712.0 63.2,713.0" fill="none" stroke="#111" stroke-width="0.8" stroke-linejoin="round"/>
<line x1="70.60" y1="712.50" x2="78.00" y2="712.50" stroke="#7a7a7a" stroke-width="1.0"/>
<line x1="86.50" y1="578.70" x2="86.50" y2="713.00" stroke="#7a7a7a" stroke-width="1.0"/>
<line x1="79.40" y1="712.50" x2="93.60" y2="712.50" stroke="#7a7a7a" stroke-width="1.0"/>
<line x1="102.50" y1="577.9" x2="102.50" y2="713.0" stroke="#858585" stroke-width="1"/>
<path d="M99.2,577.9 99.1,578.9 98.7,580.9 98.2,582.9 98.1,583.9 97.9,587.9 97.2,591.9 95.6,599.9 95.3,602.9 95.3,607.9 96.0,614.9 98.7,631.9 99.2,637.9 99.5,648.0 101.7,669.0 101.8,687.0 101.8,688.0 101.6,689.0 101.1,691.0 99.4,696.0 98.9,698.0 98.7,699.0 98.6,702.0 98.1,705.0 97.1,709.0 96.8,711.0 96.7,713.0 102.6,713.0 102.6,711.0 102.6,709.0 102.6,705.0 102.6,702.0 102.6,699.0 102.6,698.0 102.6,696.0 102.6,691.0 102.6,689.0 102.6,688.0 102.6,687.0 102.6,669.0 102.6,648.0 102.6,637.9 102.6,631.9 102.6,614.9 102.6,607.9 102.6,602.9 102.6,599.9 102.6,591.9 102.6,587.9 102.6,583.9 102.6,582.9 102.6,580.9 102.6,578.9 102.6,577.9Z" fill="#a8002e" stroke="none"/>
<path d="M99.2,577.9 99.1,578.9 98.7,580.9 98.2,582.9 98.1,583.9 97.9,587.9 97.2,591.9 95.6,599.9 95.3,602.9 95.3,607.9 96.0,614.9 98.7,631.9 99.2,637.9 99.5,648.0 101.7,669.0 101.8,687.0 101.8,688.0 101.6,689.0 101.1,691.0 99.4,696.0 98.9,698.0 98.7,699.0 98.6,702.0 98.1,705.0 97.1,709.0 96.8,711.0 96.7,713.0" fill="none" stroke="#111" stroke-width="0.8" stroke-linejoin="round"/>
<line x1="102.20" y1="712.50" x2="109.30" y2="712.50" stroke="#7a7a7a" stroke-width="1.0"/>
<line x1="118.50" y1="557.0" x2="118.50" y2="713.0" stroke="#858585" stroke-width="1"/>
<path d="M117.8,557.0 117.7,558.0 117.4,560.0 116.6,563.0 116.5,564.0 116.3,567.0 115.9,569.0 115.3,571.0 111.3,580.0 110.6,582.0 110.1,584.0 109.8,586.0 109.7,589.0 110.0,593.0 111.3,600.0 113.7,611.0 114.3,616.0 114.7,624.0 117.3,641.0 117.7,645.0 117.7,686.0 117.7,691.0 117.4,694.0 116.2,702.0 115.8,708.0 115.4,712.0 115.4,713.0 118.4,713.0 118.4,712.0 118.4,708.0 118.4,702.0 118.4,694.0 118.3,691.0 118.3,686.0 118.3,645.0 118.4,641.0 118.4,624.0 118.4,616.0 118.4,611.0 118.4,600.0 118.4,593.0 118.4,589.0 118.4,586.0 118.4,584.0 118.4,582.0 118.4,580.0 118.4,571.0 118.4,569.0 118.4,567.0 118.4,564.0 118.4,563.0 118.4,560.0 118.3,558.0 118.2,557.0Z" fill="#a8002e" stroke="none"/>
<path d="M117.8,557.0 117.7,558.0 117.4,560.0 116.6,563.0 116.5,564.0 116.3,567.0 115.9,569.0 115.3,571.0 111.3,580.0 110.6,582.0 110.1,584.0 109.8,586.0 109.7,589.0 110.0,593.0 111.3,600.0 113.7,611.0 114.3,616.0 114.7,624.0 117.3,641.0 117.7,645.0 117.7,686.0 117.7,691.0 117.4,694.0 116.2,702.0 115.8,708.0 115.4,712.0 115.4,713.0" fill="none" stroke="#111" stroke-width="0.8" stroke-linejoin="round"/>
<path d="M120.4,572.4 120.5,573.4 121.1,576.4 121.2,577.4 121.3,580.4 121.7,583.4 124.2,594.5 124.6,597.5 124.7,600.5 124.3,606.5 121.8,623.6 121.5,628.6 121.3,634.7 118.6,653.7 118.3,658.8 118.5,681.9 119.2,687.9 120.3,694.9 120.6,698.9 120.7,703.0 121.6,711.0 121.7,713.0 117.6,713.0 117.6,711.0 117.6,703.0 117.6,698.9 117.6,694.9 117.6,687.9 117.6,681.9 117.7,658.8 117.6,653.7 117.6,634.7 117.6,628.6 117.6,623.6 117.6,606.5 117.6,600.5 117.6,597.5 117.6,594.5 117.6,583.4 117.6,580.4 117.6,577.4 117.6,576.4 117.6,573.4 117.6,572.4Z" fill="#33664d" stroke="none"/>
<path d="M120.4,572.4 120.5,573.4 121.1,576.4 121.2,577.4 121.3,580.4 121.7,583.4 124.2,594.5 124.6,597.5 124.7,600.5 124.3,606.5 121.8,623.6 121.5,628.6 121.3,634.7 118.6,653.7 118.3,658.8 118.5,681.9 119.2,687.9 120.3,694.9 120.6,698.9 120.7,703.0 121.6,711.0 121.7,713.0" fill="none" stroke="#111" stroke-width="0.8" stroke-linejoin="round"/>
<line x1="133.50" y1="582.90" x2="133.50" y2="713.00" stroke="#7a7a7a" stroke-width="1.0"/>
<line x1="126.80" y1="712.50" x2="140.80" y2="712.50" stroke="#7a7a7a" stroke-width="1.0"/>
<line x1="149.50" y1="577.90" x2="149.50" y2="713.00" stroke="#7a7a7a" stroke-width="1.0"/>
<line x1="142.60" y1="712.50" x2="156.60" y2="712.50" stroke="#7a7a7a" stroke-width="1.0"/>
<line x1="165.50" y1="609.80" x2="165.50" y2="713.00" stroke="#7a7a7a" stroke-width="1.0"/>
<line x1="158.40" y1="712.50" x2="172.40" y2="712.50" stroke="#7a7a7a" stroke-width="1.0"/>
<line x1="181.50" y1="548.0" x2="181.50" y2="713.0" stroke="#858585" stroke-width="1"/>
<path d="M180.8,548.0 180.8,589.0 180.9,630.0 181.0,671.0 180.7,701.0 180.6,702.0 180.1,703.0 178.3,706.0 177.8,707.0 177.7,708.0 177.4,709.0 176.5,710.0 175.4,711.0 174.5,712.0 174.2,713.0 181.6,713.0 181.6,712.0 181.6,711.0 181.6,710.0 181.6,709.0 181.6,708.0 181.6,707.0 181.6,706.0 181.6,703.0 181.6,702.0 181.6,701.0 181.4,671.0 181.5,630.0 181.6,589.0 181.6,548.0Z" fill="#a8002e" stroke="none"/>
<path d="M180.8,548.0 180.8,589.0 180.9,630.0 181.0,671.0 180.7,701.0 180.6,702.0 180.1,703.0 178.3,706.0 177.8,707.0 177.7,708.0 177.4,709.0 176.5,710.0 175.4,711.0 174.5,712.0 174.2,713.0" fill="none" stroke="#111" stroke-width="0.8" stroke-linejoin="round"/>
<line x1="181.20" y1="712.50" x2="188.20" y2="712.50" stroke="#7a7a7a" stroke-width="1.0"/>
<line x1="190.30" y1="712.50" x2="204.80" y2="712.50" stroke="#7a7a7a" stroke-width="1.0"/>
<line x1="54.80" y1="721.30" x2="54.80" y2="724.30" stroke="#111" stroke-width="1"/>
<text x="54.80" y="736.00" font-size="9.6" text-anchor="middle" fill="#1a1a1a" >0</text>
<line x1="70.60" y1="721.30" x2="70.60" y2="724.30" stroke="#111" stroke-width="1"/>
<text x="70.60" y="736.00" font-size="9.6" text-anchor="middle" fill="#1a1a1a" >1</text>
<line x1="86.40" y1="721.30" x2="86.40" y2="724.30" stroke="#111" stroke-width="1"/>
<text x="86.40" y="736.00" font-size="9.6" text-anchor="middle" fill="#1a1a1a" >2</text>
<line x1="102.20" y1="721.30" x2="102.20" y2="724.30" stroke="#111" stroke-width="1"/>
<text x="102.20" y="736.00" font-size="9.6" text-anchor="middle" fill="#1a1a1a" >3</text>
<line x1="118.00" y1="721.30" x2="118.00" y2="724.30" stroke="#111" stroke-width="1"/>
<text x="118.00" y="736.00" font-size="9.6" text-anchor="middle" fill="#1a1a1a" >4</text>
<line x1="133.80" y1="721.30" x2="133.80" y2="724.30" stroke="#111" stroke-width="1"/>
<text x="133.80" y="736.00" font-size="9.6" text-anchor="middle" fill="#1a1a1a" >5</text>
<line x1="149.60" y1="721.30" x2="149.60" y2="724.30" stroke="#111" stroke-width="1"/>
<text x="149.60" y="736.00" font-size="9.6" text-anchor="middle" fill="#1a1a1a" >6</text>
<line x1="165.40" y1="721.30" x2="165.40" y2="724.30" stroke="#111" stroke-width="1"/>
<text x="165.40" y="736.00" font-size="9.6" text-anchor="middle" fill="#1a1a1a" >7</text>
<line x1="181.20" y1="721.30" x2="181.20" y2="724.30" stroke="#111" stroke-width="1"/>
<text x="181.20" y="736.00" font-size="9.6" text-anchor="middle" fill="#1a1a1a" >8</text>
<line x1="197.00" y1="721.30" x2="197.00" y2="724.30" stroke="#111" stroke-width="1"/>
<text x="197.00" y="736.00" font-size="9.6" text-anchor="middle" fill="#1a1a1a" >9</text>
<text x="126.00" y="751.10" font-size="10.5" text-anchor="middle" fill="#1a1a1a" textLength="29.8" lengthAdjust="spacingAndGlyphs" >Clusters</text>
<text x="26.50" y="630.40" font-size="10" text-anchor="middle" fill="#1a1a1a" textLength="61.4" lengthAdjust="spacingAndGlyphs" transform="rotate(-90 26.50 630.40)" >Expression level</text>
<rect x="206.80" y="528.30" width="11.10" height="11.10" fill="#a8002e" />
<rect x="206.80" y="552.40" width="11.10" height="10.90" fill="#33664d" />
<text x="221.90" y="536.80" font-size="8.5" text-anchor="start" fill="#1a1a1a" textLength="51" lengthAdjust="spacingAndGlyphs" >anti-IL-2 mAb</text>
<text x="221.90" y="546.80" font-size="8.5" text-anchor="start" fill="#1a1a1a" textLength="47" lengthAdjust="spacingAndGlyphs" >(JES6-1A12)</text>
<text x="221.90" y="560.10" font-size="8.5" text-anchor="start" fill="#1a1a1a" textLength="39.7" lengthAdjust="spacingAndGlyphs" >Tacrolimus</text>
<text x="291.80" y="525.20" font-size="13" text-anchor="start" fill="#000" font-weight="bold" >D</text>
<line x1="323.80" y1="528.70" x2="323.80" y2="716.80" stroke="#111" stroke-width="1"/>
<line x1="321.30" y1="716.30" x2="488.80" y2="716.30" stroke="#111" stroke-width="1"/>
<line x1="320.80" y1="716.20" x2="323.80" y2="716.20" stroke="#111" stroke-width="1"/>
<text x="318.00" y="719.40" font-size="9.6" text-anchor="end" fill="#1a1a1a" >0</text>
<line x1="320.80" y1="677.20" x2="323.80" y2="677.20" stroke="#111" stroke-width="1"/>
<text x="318.00" y="680.40" font-size="9.6" text-anchor="end" fill="#1a1a1a" >5</text>
<line x1="320.80" y1="638.20" x2="323.80" y2="638.20" stroke="#111" stroke-width="1"/>
<text x="318.00" y="641.40" font-size="9.6" text-anchor="end" fill="#1a1a1a" >10</text>
<line x1="320.80" y1="599.20" x2="323.80" y2="599.20" stroke="#111" stroke-width="1"/>
<text x="318.00" y="602.40" font-size="9.6" text-anchor="end" fill="#1a1a1a" >15</text>
<line x1="320.80" y1="560.20" x2="323.80" y2="560.20" stroke="#111" stroke-width="1"/>
<text x="318.00" y="563.40" font-size="9.6" text-anchor="end" fill="#1a1a1a" >20</text>
<rect x="331.30" y="616.00" width="7.00" height="100.30" fill="#a8002e" />
<rect x="338.30" y="537.20" width="7.00" height="179.10" fill="#33664d" />
<line x1="338.30" y1="716.30" x2="338.30" y2="719.40" stroke="#111" stroke-width="1"/>
<text x="338.30" y="731.30" font-size="9.6" text-anchor="middle" fill="#1a1a1a" >0</text>
<rect x="347.02" y="608.00" width="7.00" height="108.30" fill="#a8002e" />
<rect x="354.02" y="562.50" width="7.00" height="153.80" fill="#33664d" />
<line x1="354.02" y1="716.30" x2="354.02" y2="719.40" stroke="#111" stroke-width="1"/>
<text x="354.02" y="731.30" font-size="9.6" text-anchor="middle" fill="#1a1a1a" >1</text>
<rect x="362.74" y="638.30" width="7.00" height="78.00" fill="#a8002e" />
<rect x="369.74" y="597.40" width="7.00" height="118.90" fill="#33664d" />
<line x1="369.74" y1="716.30" x2="369.74" y2="719.40" stroke="#111" stroke-width="1"/>
<text x="369.74" y="731.30" font-size="9.6" text-anchor="middle" fill="#1a1a1a" >2</text>
<rect x="378.46" y="573.80" width="7.00" height="142.50" fill="#a8002e" />
<rect x="385.46" y="657.70" width="7.00" height="58.60" fill="#33664d" />
<line x1="385.46" y1="716.30" x2="385.46" y2="719.40" stroke="#111" stroke-width="1"/>
<text x="385.46" y="731.30" font-size="9.6" text-anchor="middle" fill="#1a1a1a" >3</text>
<rect x="394.18" y="591.30" width="7.00" height="125.00" fill="#a8002e" />
<rect x="401.18" y="681.40" width="7.00" height="34.90" fill="#33664d" />
<line x1="401.18" y1="716.30" x2="401.18" y2="719.40" stroke="#111" stroke-width="1"/>
<text x="401.18" y="731.30" font-size="9.6" text-anchor="middle" fill="#1a1a1a" >4</text>
<rect x="409.90" y="637.20" width="7.00" height="79.10" fill="#a8002e" />
<rect x="416.90" y="639.40" width="7.00" height="76.90" fill="#33664d" />
<line x1="416.90" y1="716.30" x2="416.90" y2="719.40" stroke="#111" stroke-width="1"/>
<text x="416.90" y="731.30" font-size="9.6" text-anchor="middle" fill="#1a1a1a" >5</text>
<rect x="425.62" y="665.50" width="7.00" height="50.80" fill="#a8002e" />
<rect x="432.62" y="644.40" width="7.00" height="71.90" fill="#33664d" />
<line x1="432.62" y1="716.30" x2="432.62" y2="719.40" stroke="#111" stroke-width="1"/>
<text x="432.62" y="731.30" font-size="9.6" text-anchor="middle" fill="#1a1a1a" >6</text>
<rect x="441.34" y="677.30" width="7.00" height="39.00" fill="#a8002e" />
<rect x="448.34" y="670.20" width="7.00" height="46.10" fill="#33664d" />
<line x1="448.34" y1="716.30" x2="448.34" y2="719.40" stroke="#111" stroke-width="1"/>
<text x="448.34" y="731.30" font-size="9.6" text-anchor="middle" fill="#1a1a1a" >7</text>
<rect x="457.06" y="673.90" width="7.00" height="42.40" fill="#a8002e" />
<rect x="464.06" y="685.00" width="7.00" height="31.30" fill="#33664d" />
<line x1="464.06" y1="716.30" x2="464.06" y2="719.40" stroke="#111" stroke-width="1"/>
<text x="464.06" y="731.30" font-size="9.6" text-anchor="middle" fill="#1a1a1a" >8</text>
<rect x="472.78" y="702.10" width="7.00" height="14.20" fill="#a8002e" />
<rect x="479.78" y="708.80" width="7.00" height="7.50" fill="#33664d" />
<line x1="479.78" y1="716.30" x2="479.78" y2="719.40" stroke="#111" stroke-width="1"/>
<text x="479.78" y="731.30" font-size="9.6" text-anchor="middle" fill="#1a1a1a" >9</text>
<text x="404.60" y="745.90" font-size="10.5" text-anchor="middle" fill="#1a1a1a" textLength="30.2" lengthAdjust="spacingAndGlyphs" >Clusters</text>
<text x="300.30" y="623.00" font-size="10" text-anchor="middle" fill="#1a1a1a" textLength="44" lengthAdjust="spacingAndGlyphs" transform="rotate(-90 300.30 623.00)" >Percentage</text>
<rect x="445.20" y="528.30" width="11.10" height="11.10" fill="#a8002e" />
<rect x="445.20" y="552.40" width="11.10" height="10.90" fill="#33664d" />
<text x="460.30" y="536.80" font-size="8.5" text-anchor="start" fill="#1a1a1a" textLength="51" lengthAdjust="spacingAndGlyphs" >anti-IL-2 mAb</text>
<text x="460.30" y="546.80" font-size="8.5" text-anchor="start" fill="#1a1a1a" textLength="47" lengthAdjust="spacingAndGlyphs" >(JES6-1A12)</text>
<text x="460.30" y="560.10" font-size="8.5" text-anchor="start" fill="#1a1a1a" textLength="39.7" lengthAdjust="spacingAndGlyphs" >Tacrolimus</text>
</svg></div></body></html>
